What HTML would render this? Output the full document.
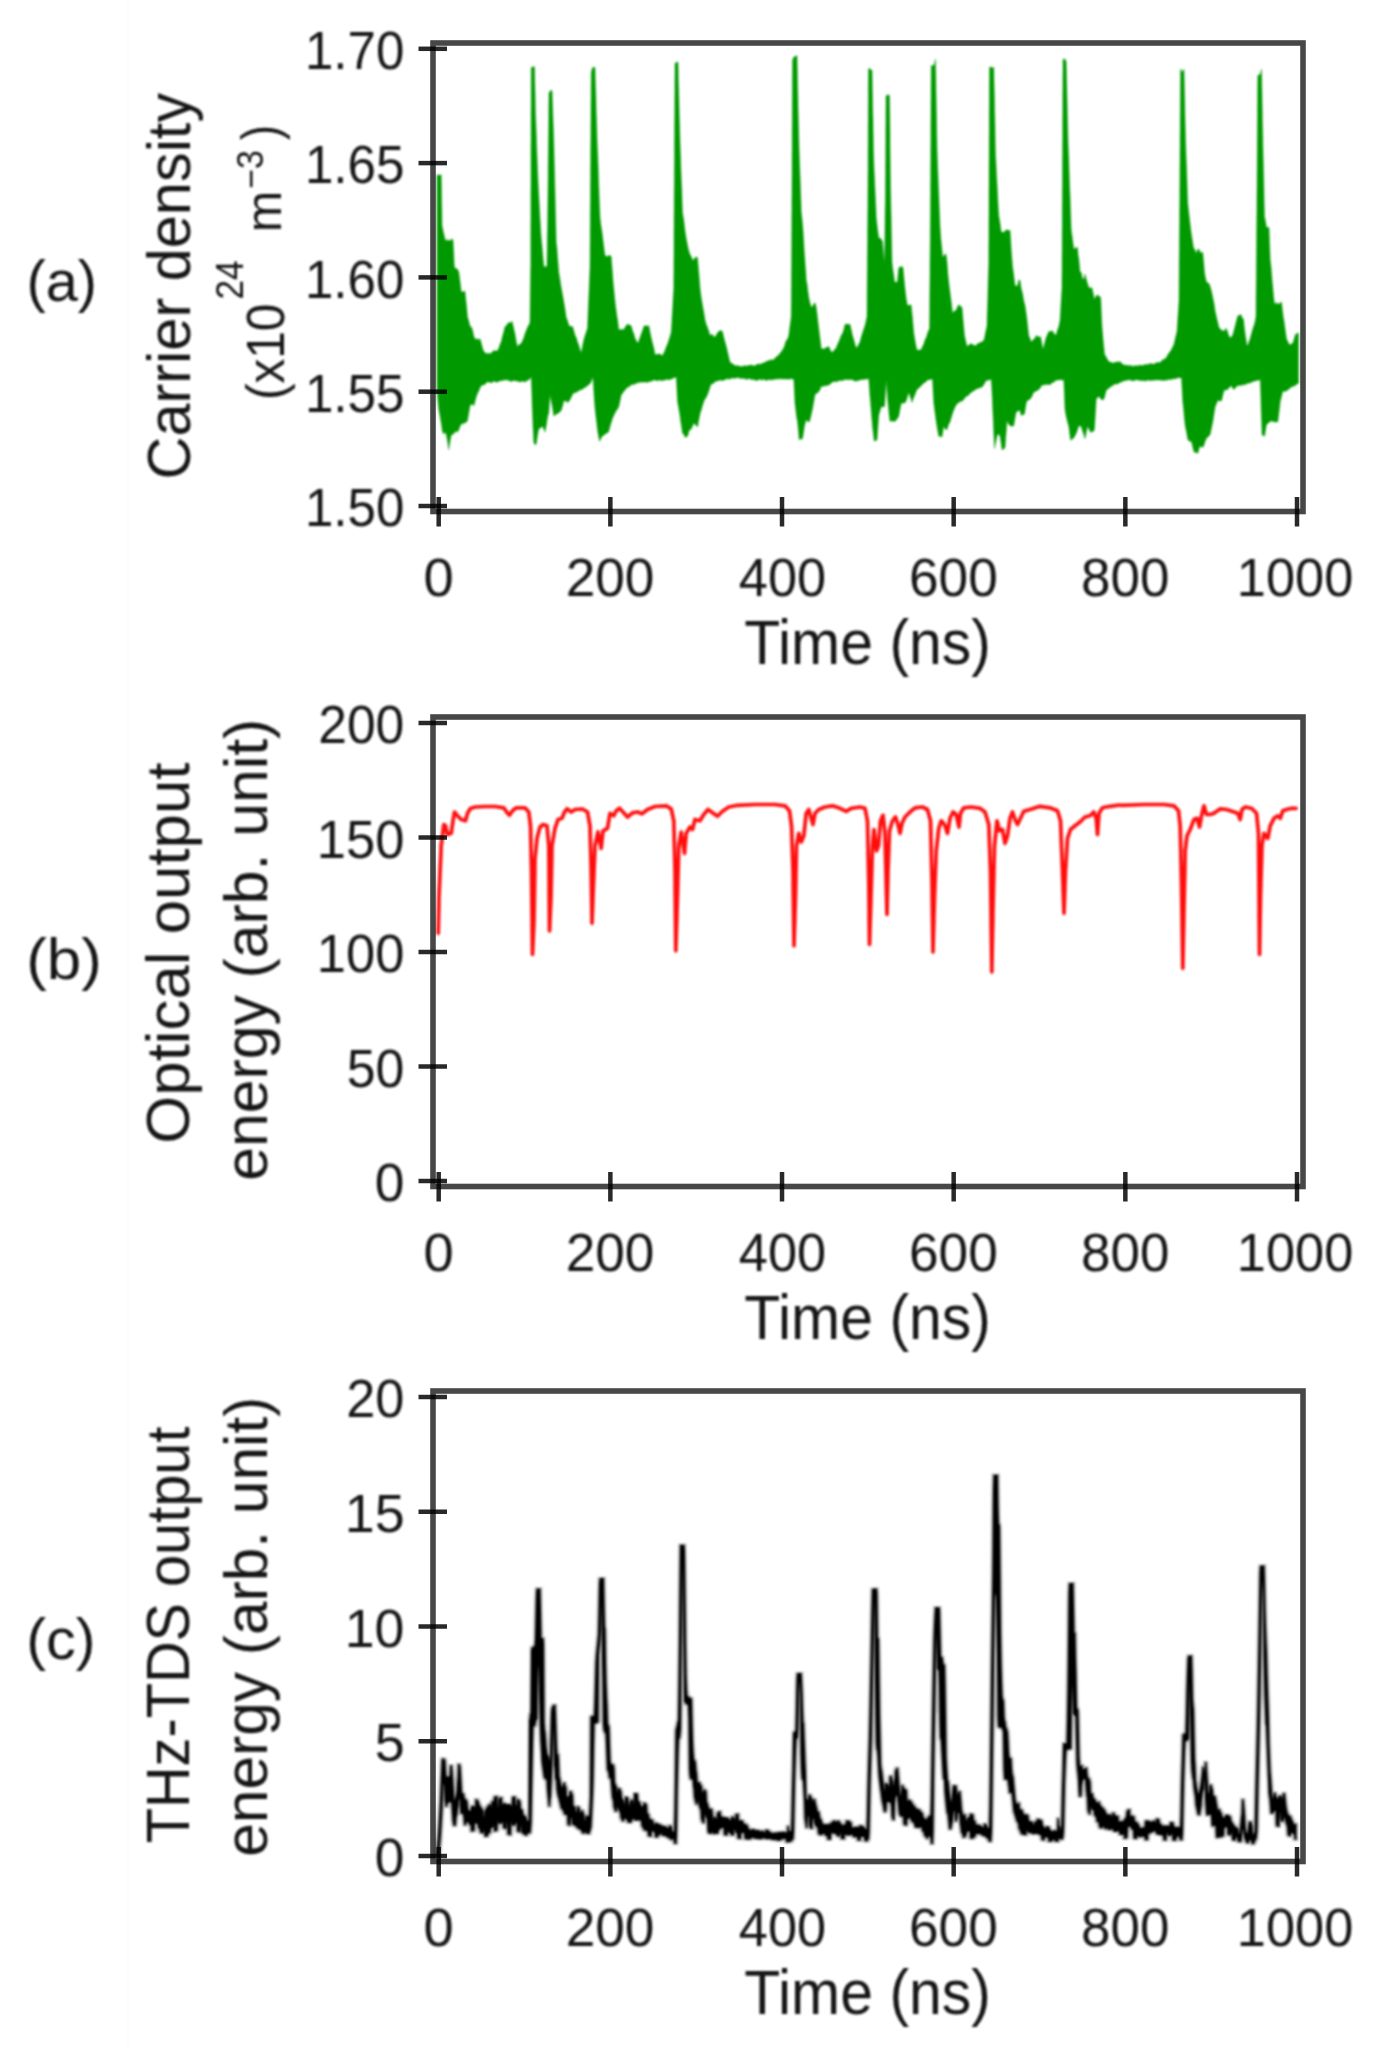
<!DOCTYPE html>
<html><head><meta charset="utf-8"><title>chart</title>
<style>html,body{margin:0;padding:0;background:#fff}body{width:1379px;height:2047px;overflow:hidden;font-family:"Liberation Sans",sans-serif}</style></head>
<body>
<svg width="1379" height="2047" viewBox="0 0 1379 2047" style="display:block;font-family:'Liberation Sans',sans-serif">
<defs><filter id="bl" x="-5%" y="-5%" width="110%" height="110%"><feGaussianBlur stdDeviation="0.8"/></filter></defs>
<rect width="1379" height="2047" fill="#fff"/>
<rect x="127" y="0" width="2" height="2047" fill="#fdfdfd"/>
<g filter="url(#bl)">
<path d="M437.0,389.4 L437.0,381.1 L437.0,371.7 L437.0,363.1 L437.0,353.9 L437.0,344.6 L437.0,336.1 L437.0,326.6 L437.0,318.0 L437.0,308.6 L437.0,299.6 L437.0,290.9 L437.0,282.3 L437.0,272.7 L437.0,263.9 L437.0,255.4 L437.0,246.8 L437.0,237.5 L437.0,228.5 L437.0,220.1 L437.0,210.3 L437.0,202.2 L437.0,192.7 L437.0,183.7 L437.0,174.7 L438.4,175.3 L439.8,174.7 L441.2,175.1 L441.4,183.3 L441.5,191.1 L441.6,200.5 L441.8,208.6 L441.9,216.9 L442.0,225.5 L443.5,232.7 L445.0,238.9 L446.2,241.3 L447.5,239.2 L448.8,240.8 L450.2,240.4 L451.6,239.3 L453.0,239.6 L453.4,247.3 L453.8,254.6 L454.1,263.1 L454.5,267.5 L455.9,268.6 L457.3,268.9 L458.8,272.0 L460.0,281.3 L461.2,291.6 L462.5,291.9 L463.8,291.4 L465.0,291.2 L465.8,299.4 L466.7,307.6 L467.5,316.9 L468.8,321.3 L470.0,326.4 L471.2,326.8 L472.5,330.0 L473.8,336.2 L475.0,338.7 L476.2,339.4 L477.5,338.7 L478.8,339.8 L480.0,338.7 L481.2,342.9 L482.5,347.9 L483.8,351.6 L485.0,352.4 L486.2,353.6 L487.5,353.7 L488.8,353.0 L490.0,353.9 L491.2,353.1 L492.5,351.8 L493.8,350.6 L495.0,350.8 L496.2,350.9 L497.5,350.6 L498.8,348.2 L500.0,344.4 L501.2,341.9 L502.5,336.3 L503.8,331.7 L505.0,326.6 L506.5,325.7 L508.0,322.9 L509.3,322.7 L510.7,322.7 L512.0,321.2 L513.5,327.5 L515.0,334.1 L516.2,341.3 L517.5,346.8 L518.8,345.1 L520.0,344.1 L521.2,343.6 L522.5,340.8 L523.8,337.8 L525.0,333.8 L526.2,330.8 L527.5,327.3 L528.8,324.9 L530.0,322.4 L530.1,313.8 L530.2,305.1 L530.3,296.9 L530.4,288.7 L530.5,280.4 L530.6,272.0 L530.8,264.5 L530.8,255.7 L530.8,246.3 L530.8,237.3 L530.8,228.0 L530.9,219.1 L530.9,210.4 L530.9,201.4 L530.9,193.1 L531.0,183.5 L531.0,174.4 L531.0,166.5 L531.0,157.1 L531.0,147.8 L531.1,139.3 L531.1,129.8 L531.1,121.4 L531.1,113.0 L531.2,103.9 L531.2,94.8 L531.2,84.9 L531.2,75.8 L531.2,67.5 L532.3,67.0 L533.4,67.0 L534.5,66.6 L534.7,75.1 L534.8,83.1 L535.0,90.8 L535.2,98.5 L535.3,106.4 L535.5,114.1 L535.8,121.5 L536.1,129.6 L536.4,137.3 L536.6,144.9 L536.9,152.7 L537.2,160.8 L537.5,168.7 L538.0,180.4 L538.4,188.7 L538.9,197.9 L539.4,206.7 L539.8,215.4 L540.3,223.6 L540.8,232.2 L541.2,237.9 L541.9,244.8 L542.5,252.1 L543.1,259.3 L543.8,266.1 L544.8,267.1 L545.9,266.8 L547.0,265.7 L547.1,257.8 L547.2,252.2 L547.3,243.7 L547.4,235.0 L547.6,226.2 L547.7,218.3 L547.8,209.4 L547.9,201.4 L548.0,193.1 L548.1,184.2 L548.2,175.9 L548.2,168.1 L548.3,159.5 L548.4,150.6 L548.5,142.2 L548.6,133.9 L548.7,126.4 L548.8,117.9 L548.8,108.9 L548.9,101.3 L549.0,93.1 L550.5,90.6 L552.0,90.6 L552.3,98.6 L552.6,106.9 L552.9,116.2 L553.2,124.3 L553.5,132.6 L553.8,142.7 L554.0,151.5 L554.2,159.8 L554.4,167.5 L554.6,175.9 L554.8,184.2 L555.0,192.5 L555.2,201.2 L555.4,209.2 L555.6,217.7 L555.8,225.7 L556.0,234.9 L556.2,242.6 L556.9,247.9 L557.5,256.4 L558.1,264.0 L558.8,272.6 L560.0,280.0 L561.2,287.5 L562.5,294.5 L563.8,301.9 L565.0,309.2 L566.2,317.6 L567.5,320.6 L568.8,325.3 L570.0,326.3 L571.2,326.5 L572.5,326.5 L573.8,330.8 L575.0,335.3 L576.2,337.5 L577.5,342.1 L578.8,345.3 L580.0,349.6 L581.2,353.0 L582.5,346.2 L583.8,339.9 L585.0,335.7 L586.2,332.2 L587.5,328.2 L587.9,319.3 L588.2,311.0 L588.6,301.9 L588.9,294.4 L589.3,285.0 L589.6,276.4 L590.0,267.9 L590.1,258.9 L590.1,249.3 L590.2,240.4 L590.2,231.9 L590.3,222.7 L590.3,214.0 L590.4,204.9 L590.5,196.7 L590.5,187.9 L590.6,179.2 L590.6,169.6 L590.7,161.3 L590.7,152.3 L590.8,143.0 L590.9,134.8 L590.9,126.1 L591.0,116.4 L591.0,108.3 L591.1,98.9 L591.1,90.1 L591.2,81.8 L591.2,72.7 L592.5,67.6 L593.8,67.5 L595.0,67.2 L595.2,76.2 L595.5,85.4 L595.8,93.5 L596.0,102.9 L596.2,111.6 L596.5,119.9 L596.8,129.1 L597.0,138.2 L597.3,146.4 L597.7,154.3 L598.0,163.5 L598.3,171.7 L598.7,184.3 L599.0,192.8 L599.3,200.9 L599.7,210.0 L600.0,217.8 L601.0,226.1 L602.0,231.9 L603.0,240.3 L604.0,248.3 L605.0,255.7 L606.2,256.0 L607.5,256.7 L608.8,255.3 L610.0,255.5 L611.2,256.6 L611.9,265.6 L612.5,273.4 L613.1,281.7 L613.8,289.1 L614.8,299.5 L615.8,308.1 L616.8,315.5 L617.8,321.4 L618.8,329.9 L620.0,329.6 L621.2,329.5 L622.5,329.5 L623.8,329.7 L625.0,327.6 L626.2,325.6 L627.5,324.1 L628.8,325.0 L630.0,325.0 L631.2,325.9 L632.5,330.7 L633.8,333.8 L635.0,338.2 L636.5,340.9 L638.0,343.6 L639.1,340.1 L640.2,337.1 L641.2,334.2 L642.5,330.8 L643.8,326.6 L645.0,325.8 L646.2,325.6 L647.5,326.5 L648.8,325.5 L650.0,332.1 L651.2,337.8 L652.5,343.2 L653.8,348.0 L655.0,354.4 L656.5,354.5 L658.0,354.0 L659.5,354.0 L661.0,354.8 L662.5,355.8 L663.8,353.0 L665.0,350.5 L666.2,347.0 L667.5,344.2 L668.8,340.2 L670.0,336.5 L671.2,332.2 L671.8,323.2 L672.2,314.9 L672.8,305.6 L673.2,297.0 L673.8,288.0 L673.8,279.2 L673.9,270.3 L673.9,261.4 L674.0,252.1 L674.0,243.4 L674.0,233.9 L674.1,225.1 L674.1,216.0 L674.2,207.3 L674.2,197.9 L674.3,188.9 L674.4,180.2 L674.4,171.1 L674.5,162.5 L674.5,153.4 L674.5,144.6 L674.6,135.5 L674.6,126.6 L674.7,117.7 L674.8,108.3 L674.8,99.2 L674.9,90.8 L674.9,81.0 L675.0,72.6 L675.0,63.5 L676.5,62.2 L678.0,62.0 L678.2,70.1 L678.4,83.1 L678.7,90.8 L678.9,99.6 L679.1,107.9 L679.3,116.7 L679.6,125.0 L679.8,133.4 L680.0,141.6 L680.3,150.2 L680.6,158.3 L680.8,166.7 L681.1,174.6 L681.4,182.7 L681.7,187.5 L681.9,195.6 L682.2,204.7 L682.5,212.7 L683.8,220.3 L685.0,231.0 L686.2,238.3 L687.5,245.3 L688.8,250.9 L690.0,254.4 L691.2,256.6 L692.5,259.8 L693.8,260.1 L695.0,257.4 L696.2,257.2 L697.5,257.4 L698.1,264.9 L698.8,273.0 L699.4,280.3 L700.0,288.2 L701.2,297.6 L702.5,305.2 L703.8,312.5 L705.0,320.1 L706.2,324.2 L707.5,327.5 L708.8,331.2 L710.0,335.6 L711.2,334.4 L712.5,334.6 L713.8,336.9 L715.0,336.9 L716.2,334.9 L717.5,332.9 L718.8,331.3 L720.0,330.8 L721.2,330.6 L722.5,331.8 L723.8,337.4 L725.0,341.9 L726.2,346.3 L727.5,351.7 L728.8,357.2 L730.0,362.6 L731.2,362.7 L732.5,363.9 L733.8,364.6 L735.0,365.8 L736.4,365.8 L737.9,365.5 L739.3,366.5 L740.7,366.1 L742.1,366.9 L743.6,365.7 L745.0,365.7 L746.4,366.0 L747.9,365.7 L749.3,365.2 L750.7,365.0 L752.1,365.2 L753.6,365.8 L755.0,365.7 L756.4,364.7 L757.9,364.1 L759.3,364.2 L760.7,363.9 L762.1,363.6 L763.6,362.8 L765.0,362.3 L766.4,361.6 L767.8,360.8 L769.2,360.7 L770.6,359.6 L772.0,360.2 L773.4,359.7 L774.8,358.5 L776.1,357.1 L777.4,356.1 L778.7,355.0 L780.0,353.3 L781.2,351.9 L782.5,349.7 L783.8,348.0 L785.0,344.2 L786.2,340.5 L787.5,339.2 L788.8,335.5 L789.6,328.7 L790.4,322.9 L791.2,316.8 L791.3,308.0 L791.4,299.2 L791.4,291.0 L791.5,282.5 L791.5,272.8 L791.6,264.3 L791.6,255.0 L791.7,246.4 L791.7,237.3 L791.8,228.1 L791.8,219.2 L791.9,210.3 L791.9,202.1 L792.0,192.7 L792.0,183.6 L792.1,175.5 L792.1,166.7 L792.1,157.3 L792.2,148.2 L792.2,139.4 L792.2,130.5 L792.3,121.9 L792.3,112.8 L792.3,104.1 L792.4,95.3 L792.4,86.8 L792.4,78.3 L792.5,69.3 L792.5,60.1 L794.0,56.8 L795.5,56.5 L797.0,55.5 L797.2,64.0 L797.4,73.0 L797.5,80.5 L797.7,89.2 L797.9,97.6 L798.0,106.1 L798.2,113.8 L798.4,122.1 L798.6,130.4 L798.8,138.9 L799.0,147.2 L799.3,156.1 L799.6,164.3 L799.9,172.7 L800.1,178.1 L800.4,187.1 L800.7,195.7 L801.0,203.6 L801.2,212.0 L802.1,219.8 L802.9,228.5 L803.8,243.1 L804.2,250.6 L804.8,258.2 L805.2,265.0 L805.8,272.3 L806.2,279.9 L807.1,284.5 L807.9,291.4 L808.8,297.8 L810.0,302.9 L811.2,306.9 L812.5,306.7 L813.8,303.7 L815.0,302.8 L816.2,307.2 L817.1,314.2 L817.9,321.3 L818.8,328.7 L819.6,335.2 L820.4,341.6 L821.2,348.6 L822.5,348.9 L823.8,348.7 L825.0,348.5 L826.2,347.6 L827.5,347.1 L828.8,346.4 L830.0,349.4 L831.2,351.7 L832.5,352.2 L833.8,350.5 L835.0,349.6 L836.2,347.7 L837.5,344.6 L838.8,341.8 L840.0,338.7 L841.2,335.4 L842.5,333.4 L843.8,329.7 L845.0,324.4 L846.2,324.2 L847.5,324.1 L848.8,324.5 L850.0,324.2 L851.2,329.7 L852.5,335.5 L853.8,339.8 L855.0,344.2 L856.2,347.9 L857.5,346.8 L858.8,344.1 L860.0,342.0 L861.2,337.2 L862.5,333.1 L863.8,329.1 L864.8,326.3 L865.9,321.7 L867.0,316.6 L867.1,308.7 L867.1,299.2 L867.2,285.1 L867.3,276.3 L867.4,267.9 L867.4,258.9 L867.5,249.9 L867.6,241.2 L867.6,232.2 L867.7,222.7 L867.8,213.6 L867.9,205.4 L867.9,196.3 L868.0,186.7 L868.0,178.8 L868.1,170.0 L868.1,161.6 L868.1,153.0 L868.2,144.4 L868.2,135.7 L868.2,127.5 L868.3,119.1 L868.3,111.2 L868.4,101.9 L868.4,94.3 L868.4,85.1 L868.5,76.7 L868.5,68.7 L869.7,68.5 L870.8,69.9 L872.0,70.0 L872.2,78.5 L872.3,87.7 L872.5,95.5 L872.6,104.3 L872.8,113.4 L873.0,121.1 L873.1,130.1 L873.3,139.1 L873.4,147.7 L873.6,155.5 L873.8,161.6 L874.1,170.3 L874.5,177.5 L874.8,185.8 L875.2,193.9 L875.5,201.1 L875.9,208.9 L876.2,217.5 L877.5,229.3 L878.8,238.5 L880.0,237.8 L881.2,239.2 L882.5,241.6 L883.5,254.0 L884.5,263.1 L884.6,253.4 L884.8,244.9 L884.9,236.4 L885.0,228.1 L885.1,219.4 L885.2,210.1 L885.4,201.2 L885.5,192.6 L885.5,183.9 L885.6,175.6 L885.6,166.1 L885.7,158.0 L885.7,149.2 L885.8,140.5 L885.8,131.7 L885.9,122.8 L885.9,113.7 L886.0,105.0 L886.0,96.3 L887.2,95.0 L888.3,94.9 L889.5,95.3 L889.6,103.6 L889.7,107.6 L889.8,116.9 L889.9,125.5 L890.0,134.9 L890.0,143.6 L890.1,152.5 L890.2,160.6 L890.3,169.2 L890.4,178.0 L890.5,187.2 L890.7,195.8 L890.8,203.8 L891.0,211.9 L891.2,220.5 L891.3,229.0 L891.5,237.4 L891.7,245.8 L891.8,254.2 L892.0,262.4 L892.8,269.2 L893.7,274.9 L894.5,281.5 L896.0,282.6 L897.5,281.4 L898.1,274.6 L898.8,267.7 L900.2,266.9 L901.6,266.6 L903.0,267.5 L903.7,275.2 L904.3,281.8 L905.0,288.7 L906.2,298.7 L907.5,305.8 L908.8,305.3 L910.0,304.8 L911.2,305.2 L911.9,312.8 L912.5,318.0 L913.1,325.5 L913.8,333.3 L914.8,339.3 L915.9,345.6 L917.0,350.0 L918.4,350.3 L919.8,349.7 L921.2,349.8 L922.5,346.4 L923.8,344.1 L925.0,340.0 L926.5,336.9 L928.0,331.9 L929.5,328.6 L929.6,319.9 L929.7,310.9 L929.7,301.4 L929.8,292.1 L929.9,283.4 L930.0,274.8 L930.0,265.5 L930.1,256.7 L930.2,247.8 L930.3,239.5 L930.3,230.4 L930.4,221.1 L930.5,212.3 L930.5,203.6 L930.6,194.8 L930.6,185.9 L930.7,176.4 L930.7,167.5 L930.8,159.1 L930.8,149.8 L930.9,140.7 L930.9,131.8 L930.9,123.5 L931.0,113.8 L931.0,105.1 L931.1,95.9 L931.1,87.0 L931.2,78.5 L931.2,74.5 L931.2,65.4 L932.7,65.7 L934.1,65.0 L935.5,59.2 L935.6,67.0 L935.8,75.6 L935.9,83.4 L936.0,92.1 L936.2,99.9 L936.3,107.9 L936.5,115.9 L936.6,124.7 L936.7,133.0 L936.9,141.5 L937.0,148.9 L937.3,157.8 L937.7,168.3 L938.0,176.3 L938.3,184.8 L938.7,193.4 L939.0,202.1 L939.3,209.6 L939.7,218.3 L940.0,227.0 L940.8,238.5 L941.7,246.8 L942.5,255.9 L943.8,256.8 L945.0,253.6 L946.2,255.3 L947.1,263.1 L947.9,274.4 L948.8,282.9 L949.7,289.9 L950.6,296.9 L951.6,304.8 L952.5,312.9 L953.8,311.6 L955.0,310.8 L956.2,310.2 L957.5,306.8 L958.8,304.7 L959.8,305.3 L960.9,307.3 L962.0,306.9 L962.6,314.5 L963.2,321.2 L963.9,329.0 L964.5,335.4 L965.8,341.4 L967.0,346.5 L968.4,345.3 L969.8,344.5 L971.2,343.5 L972.5,344.6 L973.8,345.2 L975.0,345.7 L976.2,345.3 L977.5,343.8 L978.8,343.1 L980.0,342.8 L981.2,342.3 L982.5,341.1 L983.8,340.8 L984.8,336.5 L985.9,330.7 L987.0,326.1 L987.2,316.5 L987.5,307.9 L987.8,298.2 L988.0,289.7 L988.2,280.6 L988.5,271.3 L988.8,261.9 L988.8,253.4 L988.8,246.8 L988.9,237.0 L988.9,228.8 L988.9,219.9 L989.0,210.7 L989.0,201.9 L989.0,192.3 L989.1,184.1 L989.1,174.7 L989.1,166.2 L989.2,157.2 L989.2,147.5 L989.2,139.1 L989.3,130.3 L989.3,120.5 L989.3,111.8 L989.4,103.3 L989.4,93.7 L989.4,85.5 L989.5,75.9 L989.5,67.5 L990.9,66.7 L992.3,68.1 L993.8,67.2 L993.9,75.8 L994.1,84.5 L994.3,92.8 L994.5,101.1 L994.6,109.7 L994.8,118.2 L995.0,127.5 L995.1,135.7 L995.3,146.2 L995.5,155.3 L996.0,163.6 L996.4,172.9 L996.9,182.0 L997.4,190.6 L997.8,200.0 L998.3,208.7 L998.8,215.9 L1000.0,223.2 L1001.2,232.3 L1002.7,232.0 L1004.2,232.4 L1005.6,230.2 L1007.1,229.8 L1008.5,230.6 L1010.0,230.3 L1010.6,238.5 L1011.2,249.2 L1011.9,258.4 L1012.5,266.3 L1013.8,275.4 L1015.0,285.6 L1016.2,286.0 L1017.5,286.0 L1018.8,279.9 L1020.0,280.3 L1021.2,288.7 L1022.5,293.2 L1023.8,301.0 L1025.0,305.5 L1026.2,313.6 L1027.1,320.6 L1027.9,328.2 L1028.8,335.7 L1030.0,338.5 L1031.2,341.9 L1032.5,340.6 L1033.8,339.3 L1035.0,337.9 L1036.2,335.7 L1037.5,336.0 L1039.0,337.2 L1040.5,336.5 L1041.8,343.2 L1043.0,349.5 L1044.1,345.4 L1045.2,340.9 L1046.2,337.4 L1047.5,334.4 L1048.8,331.6 L1050.0,331.5 L1051.2,331.3 L1052.5,330.8 L1053.8,333.3 L1055.0,335.0 L1056.2,334.5 L1057.5,330.1 L1058.8,326.6 L1060.0,320.7 L1060.5,312.7 L1061.0,303.6 L1061.5,295.2 L1062.0,287.3 L1062.0,278.1 L1062.1,269.5 L1062.1,260.9 L1062.2,251.6 L1062.2,242.9 L1062.2,234.2 L1062.3,225.2 L1062.3,217.3 L1062.3,208.4 L1062.4,199.6 L1062.4,190.9 L1062.5,182.1 L1062.5,173.1 L1062.5,164.6 L1062.6,155.5 L1062.6,146.6 L1062.7,137.7 L1062.7,129.1 L1062.7,120.1 L1062.8,111.7 L1062.8,103.3 L1062.8,94.5 L1062.9,85.9 L1062.9,77.1 L1063.0,67.9 L1063.0,59.4 L1064.1,59.1 L1065.2,59.3 L1066.2,61.9 L1066.4,71.0 L1066.6,79.9 L1066.8,87.9 L1067.0,97.2 L1067.2,105.0 L1067.4,113.9 L1067.6,122.6 L1067.8,131.7 L1068.0,140.6 L1068.3,149.1 L1068.7,157.5 L1069.0,168.5 L1069.3,177.2 L1069.6,186.6 L1070.0,195.1 L1070.3,203.9 L1070.6,212.6 L1070.9,221.7 L1071.2,229.9 L1072.1,236.1 L1072.9,242.5 L1073.8,248.4 L1075.0,249.1 L1076.2,247.3 L1077.5,247.7 L1078.1,254.9 L1078.8,259.0 L1079.4,265.1 L1080.0,271.8 L1081.2,272.5 L1082.5,278.8 L1083.8,279.3 L1085.0,274.0 L1086.2,279.1 L1087.5,283.5 L1089.0,288.1 L1090.5,287.8 L1092.0,287.9 L1093.2,293.3 L1094.5,299.6 L1096.0,296.3 L1097.5,294.7 L1099.0,296.5 L1100.5,296.9 L1100.9,301.3 L1101.2,309.5 L1101.6,318.6 L1102.0,326.8 L1102.6,333.6 L1103.2,340.8 L1103.9,347.6 L1104.5,354.2 L1105.9,356.4 L1107.3,359.2 L1108.8,361.4 L1110.0,362.3 L1111.2,362.1 L1112.5,363.0 L1113.8,363.0 L1115.0,362.2 L1116.2,362.0 L1117.4,361.9 L1118.6,361.9 L1119.8,361.5 L1121.2,362.8 L1122.6,364.2 L1124.0,365.0 L1125.2,365.1 L1126.5,365.6 L1127.8,365.1 L1129.0,366.0 L1130.2,365.4 L1131.7,365.5 L1133.2,366.7 L1134.6,365.6 L1136.1,365.7 L1137.5,365.9 L1139.0,365.2 L1140.4,365.2 L1141.9,365.5 L1143.3,365.3 L1144.7,364.5 L1146.1,364.7 L1147.6,364.3 L1149.0,364.2 L1150.4,363.4 L1151.9,363.8 L1153.3,364.2 L1154.7,363.7 L1156.1,362.8 L1157.6,362.5 L1159.0,362.6 L1160.2,362.6 L1161.5,361.0 L1162.8,359.6 L1164.0,359.5 L1165.2,358.6 L1166.5,357.3 L1167.8,354.7 L1169.0,353.1 L1170.2,351.4 L1171.5,349.4 L1172.8,346.7 L1174.0,344.2 L1175.5,337.5 L1177.0,331.6 L1177.5,324.0 L1178.0,316.1 L1178.5,308.8 L1179.0,300.9 L1179.1,291.7 L1179.1,283.2 L1179.2,275.0 L1179.2,265.7 L1179.3,257.1 L1179.4,248.6 L1179.4,240.4 L1179.5,232.0 L1179.6,222.7 L1179.6,214.1 L1179.7,205.6 L1179.8,197.1 L1179.8,188.7 L1179.9,179.7 L1179.9,171.3 L1180.0,162.6 L1180.0,154.8 L1180.1,146.1 L1180.1,136.9 L1180.2,129.3 L1180.2,119.9 L1180.3,111.6 L1180.3,103.7 L1180.4,95.0 L1180.4,86.4 L1180.5,77.6 L1180.5,68.8 L1181.7,71.5 L1182.8,71.3 L1184.0,69.3 L1184.2,78.4 L1184.4,87.5 L1184.6,96.0 L1184.8,104.5 L1184.9,113.4 L1185.1,121.9 L1185.3,130.2 L1185.5,139.4 L1185.8,148.1 L1186.1,157.4 L1186.5,166.5 L1186.8,174.9 L1187.1,184.0 L1187.4,195.1 L1187.8,203.8 L1188.6,211.2 L1189.4,218.2 L1190.2,225.0 L1191.0,231.6 L1192.2,239.6 L1193.5,247.7 L1194.8,249.5 L1196.0,253.6 L1197.5,249.8 L1199.0,249.0 L1200.2,252.7 L1201.5,252.4 L1202.8,252.5 L1203.3,258.2 L1203.9,265.0 L1204.5,272.4 L1205.5,278.3 L1206.5,281.9 L1207.8,282.9 L1209.0,283.4 L1210.2,286.7 L1211.5,291.4 L1212.8,297.5 L1214.0,303.6 L1215.2,311.4 L1216.5,317.2 L1217.8,322.6 L1219.0,327.6 L1220.2,329.1 L1221.5,330.0 L1222.8,331.1 L1223.8,330.6 L1224.9,330.7 L1226.0,328.0 L1227.5,331.5 L1229.0,336.6 L1230.2,337.5 L1231.5,336.9 L1232.8,334.7 L1234.0,330.4 L1235.2,325.7 L1236.5,320.6 L1237.8,315.7 L1238.8,315.8 L1239.9,314.9 L1241.0,314.6 L1242.2,318.1 L1243.5,319.0 L1244.4,328.1 L1245.2,334.4 L1246.1,340.0 L1247.0,346.3 L1248.1,344.2 L1249.2,341.2 L1250.2,338.4 L1251.5,333.4 L1252.8,329.0 L1254.0,325.4 L1255.0,322.2 L1256.0,316.3 L1256.1,307.4 L1256.1,298.9 L1256.2,289.7 L1256.3,281.7 L1256.4,272.3 L1256.4,263.8 L1256.5,254.3 L1256.6,245.5 L1256.6,236.4 L1256.7,227.7 L1256.8,218.5 L1256.9,209.4 L1256.9,201.2 L1257.0,191.8 L1257.1,183.4 L1257.1,175.1 L1257.2,166.8 L1257.2,158.4 L1257.3,150.2 L1257.3,141.8 L1257.4,133.2 L1257.4,125.3 L1257.5,116.9 L1257.5,107.7 L1257.6,100.0 L1257.6,92.2 L1257.7,83.1 L1257.8,75.4 L1259.0,75.1 L1260.2,74.3 L1261.5,69.3 L1261.7,77.5 L1261.8,85.6 L1262.0,94.0 L1262.1,102.5 L1262.3,111.1 L1262.4,120.1 L1262.6,128.2 L1262.8,136.5 L1262.9,145.6 L1263.1,153.8 L1263.3,161.5 L1263.5,170.6 L1263.7,178.6 L1263.9,187.2 L1264.1,199.8 L1264.3,208.0 L1264.5,216.4 L1265.5,221.4 L1266.5,227.5 L1267.8,227.3 L1269.0,227.6 L1269.3,236.2 L1269.6,244.0 L1269.9,251.8 L1270.2,259.9 L1270.9,265.2 L1271.5,272.3 L1272.1,280.2 L1272.8,287.5 L1273.6,296.8 L1274.5,303.7 L1275.6,303.7 L1276.7,302.4 L1277.8,304.2 L1279.0,303.9 L1280.2,302.8 L1281.5,302.0 L1282.3,309.0 L1283.2,316.6 L1284.0,321.0 L1285.2,330.0 L1286.5,338.9 L1287.8,341.5 L1289.0,344.3 L1290.2,344.7 L1291.5,343.8 L1292.8,343.3 L1294.0,339.4 L1295.2,335.2 L1296.3,333.6 L1297.4,333.7 L1298.5,332.8 L1298.5,341.3 L1298.5,349.9 L1298.5,358.6 L1298.5,366.5 L1298.5,375.2 L1298.5,383.8 L1298.5,383.0 L1297.5,383.8 L1296.5,384.0 L1295.2,385.7 L1294.0,385.8 L1292.8,386.8 L1291.5,386.8 L1290.2,387.9 L1289.0,389.0 L1287.8,390.0 L1286.5,390.7 L1285.2,391.3 L1284.0,391.5 L1282.8,391.0 L1281.5,396.4 L1280.2,401.4 L1279.4,409.1 L1278.6,415.3 L1277.8,422.1 L1276.5,421.7 L1275.2,422.2 L1274.0,421.6 L1272.8,421.5 L1271.7,421.2 L1270.6,420.8 L1269.5,422.2 L1268.0,423.3 L1266.5,424.4 L1265.5,430.3 L1264.5,436.5 L1263.2,435.1 L1262.0,435.2 L1261.8,427.1 L1261.5,418.9 L1261.2,411.1 L1261.0,403.2 L1260.8,395.0 L1260.5,387.8 L1260.2,379.5 L1259.0,380.2 L1257.8,380.1 L1256.5,380.8 L1255.2,380.7 L1254.0,381.3 L1252.5,381.7 L1251.0,382.4 L1249.5,383.2 L1248.0,382.9 L1246.5,384.1 L1245.0,384.6 L1243.6,384.8 L1242.1,384.9 L1240.7,385.6 L1239.2,385.4 L1237.8,385.5 L1236.5,386.8 L1235.2,388.0 L1234.0,389.5 L1232.8,388.6 L1231.5,385.8 L1230.2,386.7 L1229.0,387.6 L1227.8,389.5 L1226.5,389.7 L1225.2,390.0 L1224.0,390.6 L1222.8,395.3 L1221.5,400.7 L1220.2,401.2 L1219.0,400.2 L1217.8,400.7 L1216.5,403.5 L1215.2,406.7 L1214.0,414.1 L1212.8,421.8 L1211.5,427.9 L1210.2,434.3 L1209.0,436.0 L1207.8,437.0 L1206.5,438.2 L1205.2,441.2 L1204.0,445.1 L1202.8,447.5 L1201.5,446.9 L1200.2,445.9 L1199.0,448.7 L1197.8,453.5 L1196.5,452.5 L1195.2,452.6 L1194.0,451.8 L1192.8,447.6 L1191.5,441.5 L1190.2,441.4 L1189.0,440.8 L1187.8,439.5 L1186.5,431.9 L1185.2,425.7 L1184.4,418.6 L1183.6,409.1 L1182.8,402.0 L1182.3,393.2 L1181.9,385.7 L1181.5,377.7 L1180.0,377.9 L1178.5,377.4 L1177.0,378.1 L1175.5,378.9 L1174.0,378.5 L1172.6,379.0 L1171.1,379.7 L1169.7,379.2 L1168.3,379.8 L1166.9,380.1 L1165.4,380.2 L1164.0,380.3 L1162.6,380.5 L1161.1,380.2 L1159.7,379.9 L1158.3,380.1 L1156.9,380.0 L1155.4,379.9 L1154.0,380.2 L1152.6,380.2 L1151.1,380.4 L1149.7,380.6 L1148.3,380.0 L1146.9,380.5 L1145.4,381.0 L1144.0,380.4 L1142.5,380.8 L1141.0,380.5 L1139.5,380.3 L1138.0,380.3 L1136.5,379.6 L1135.0,380.2 L1133.5,380.9 L1132.0,380.3 L1130.5,380.4 L1129.0,379.5 L1127.7,380.2 L1126.4,380.3 L1125.0,380.7 L1123.7,380.8 L1122.4,381.8 L1121.1,382.1 L1119.8,382.5 L1118.3,383.7 L1116.9,384.0 L1115.5,383.9 L1114.1,384.5 L1112.7,385.6 L1111.2,386.5 L1110.0,387.1 L1108.8,388.5 L1107.5,388.9 L1106.2,390.6 L1105.0,395.3 L1103.8,399.4 L1102.5,399.8 L1101.2,399.5 L1100.0,397.7 L1098.8,396.2 L1097.5,397.7 L1096.2,399.0 L1095.8,406.7 L1095.4,413.8 L1094.9,421.5 L1094.5,429.3 L1093.2,431.8 L1091.8,431.6 L1090.5,432.4 L1089.0,429.0 L1087.5,426.6 L1086.2,432.6 L1085.0,438.7 L1083.5,433.8 L1082.0,429.2 L1080.9,426.1 L1079.8,425.9 L1078.8,425.8 L1077.5,429.7 L1076.2,433.4 L1075.0,435.5 L1073.8,438.1 L1072.7,438.5 L1071.6,439.7 L1070.5,440.1 L1069.6,432.5 L1068.8,426.4 L1067.5,421.7 L1066.2,416.3 L1065.0,409.6 L1064.7,402.2 L1064.4,394.4 L1064.1,386.8 L1063.8,379.8 L1062.2,380.2 L1060.8,379.7 L1059.2,379.7 L1057.8,380.2 L1056.2,380.1 L1055.0,381.0 L1053.8,382.4 L1052.5,382.3 L1051.2,383.7 L1050.0,384.7 L1048.5,384.4 L1047.0,384.6 L1045.5,384.5 L1044.0,384.9 L1042.5,384.9 L1041.2,386.2 L1040.0,388.1 L1038.8,389.7 L1037.5,390.3 L1036.2,391.0 L1035.0,391.9 L1033.8,391.7 L1032.5,395.1 L1031.2,397.8 L1030.0,398.9 L1028.8,400.1 L1027.5,400.2 L1026.2,402.9 L1025.4,408.3 L1024.5,414.1 L1023.4,414.6 L1022.3,415.0 L1021.2,415.4 L1020.4,412.4 L1019.5,409.8 L1018.4,411.0 L1017.3,411.5 L1016.2,411.8 L1015.0,418.1 L1013.8,425.7 L1012.5,426.1 L1011.2,426.2 L1010.0,425.6 L1008.5,424.0 L1007.0,420.4 L1006.5,427.7 L1006.0,434.0 L1005.5,441.2 L1005.0,447.5 L1003.5,449.3 L1002.0,449.7 L1001.0,442.3 L1000.0,436.2 L998.8,434.5 L997.5,434.1 L996.0,440.9 L994.5,448.5 L994.2,441.0 L993.8,433.8 L993.5,426.2 L993.2,418.3 L992.8,410.4 L992.5,402.9 L992.1,394.5 L991.7,387.1 L991.2,379.7 L990.0,379.2 L988.8,380.5 L987.5,380.3 L986.2,380.3 L985.0,382.7 L983.8,384.6 L982.5,386.8 L981.2,387.3 L980.0,387.7 L978.8,388.1 L977.5,388.7 L976.2,389.0 L975.0,390.0 L973.8,390.8 L972.5,391.6 L971.2,392.4 L970.0,393.3 L968.8,395.0 L967.5,395.9 L966.2,396.3 L965.0,397.8 L963.8,399.2 L962.5,401.0 L961.2,401.1 L960.0,401.7 L958.8,402.8 L957.5,403.3 L956.0,405.3 L954.5,408.2 L953.0,411.9 L951.5,416.7 L950.0,421.9 L948.5,424.5 L947.0,429.8 L945.9,429.2 L944.8,428.4 L943.8,426.1 L942.9,431.2 L942.0,436.9 L940.9,436.6 L939.8,436.3 L938.8,436.3 L937.5,429.6 L936.2,421.2 L935.0,412.4 L933.8,403.0 L933.3,394.7 L932.9,386.9 L932.5,379.3 L931.2,379.1 L930.0,380.0 L928.8,379.5 L927.5,379.9 L926.2,381.6 L925.0,382.4 L923.8,383.0 L922.5,384.3 L921.2,385.7 L920.0,386.7 L918.8,388.3 L917.5,388.7 L916.0,391.8 L914.5,395.7 L913.2,398.7 L912.0,402.5 L910.9,398.5 L909.8,395.5 L908.8,392.3 L907.5,396.6 L906.2,400.7 L905.0,402.9 L903.8,402.7 L902.5,403.4 L901.2,403.0 L900.0,409.3 L898.8,416.1 L897.5,418.3 L896.2,420.1 L895.0,421.4 L893.8,421.4 L892.5,420.8 L891.2,421.3 L890.0,421.3 L889.3,416.3 L888.7,409.7 L888.0,403.1 L887.4,395.4 L886.8,387.7 L886.2,379.7 L885.7,389.0 L885.1,397.7 L884.5,406.5 L883.4,407.1 L882.3,406.4 L881.2,407.0 L880.0,410.8 L878.8,414.9 L878.2,423.1 L877.6,431.4 L877.0,439.8 L875.6,440.7 L874.2,441.1 L873.4,433.9 L872.5,426.8 L871.8,418.1 L871.2,410.4 L870.5,401.8 L869.9,395.3 L869.3,386.8 L868.8,378.9 L867.4,378.8 L866.0,379.3 L864.6,379.1 L863.2,379.7 L861.9,379.5 L860.5,379.6 L859.1,380.6 L857.8,380.8 L856.4,380.7 L855.0,381.2 L853.6,380.4 L852.1,379.4 L850.7,379.7 L849.3,379.5 L847.9,379.7 L846.4,379.4 L845.0,379.6 L843.6,379.9 L842.1,380.8 L840.7,380.6 L839.3,380.4 L837.9,381.3 L836.4,381.7 L835.0,381.5 L833.5,381.7 L832.0,382.3 L830.5,383.8 L829.0,385.0 L827.5,385.3 L826.2,385.7 L825.0,385.8 L823.8,386.0 L822.5,386.8 L821.2,386.0 L820.0,389.7 L818.8,391.5 L817.5,393.1 L816.2,393.6 L815.0,394.5 L813.8,401.6 L812.5,408.9 L811.0,415.6 L809.5,421.8 L808.4,421.7 L807.3,421.0 L806.2,419.8 L805.4,422.6 L804.5,425.7 L803.5,432.4 L802.5,438.7 L801.4,439.2 L800.3,438.6 L799.2,440.2 L798.7,433.5 L798.1,427.2 L797.5,421.2 L796.7,417.7 L795.8,409.9 L795.0,403.6 L794.6,395.4 L794.2,387.3 L793.8,379.1 L792.5,379.3 L791.2,378.5 L790.0,378.9 L788.6,379.3 L787.2,379.0 L785.8,379.0 L784.5,378.9 L783.1,379.1 L781.7,379.1 L780.3,378.6 L778.9,379.3 L777.5,378.8 L776.1,379.0 L774.8,379.6 L773.3,379.3 L771.9,379.9 L770.5,380.0 L769.1,379.2 L767.7,380.3 L766.3,380.3 L764.9,379.9 L763.5,379.3 L762.1,380.0 L760.6,379.8 L759.2,379.2 L757.8,380.2 L756.4,380.5 L755.0,380.1 L753.5,379.5 L752.1,379.4 L750.6,379.3 L749.2,378.6 L747.7,379.1 L746.2,379.4 L744.8,378.6 L743.3,378.4 L741.9,378.2 L740.4,378.7 L739.0,377.5 L737.5,377.7 L736.1,378.1 L734.6,378.1 L733.2,378.4 L731.8,377.8 L730.4,378.9 L728.9,379.2 L727.5,378.6 L726.1,379.3 L724.6,379.5 L723.2,380.7 L721.8,380.4 L720.4,380.1 L718.9,380.6 L717.5,381.0 L716.2,381.0 L715.0,382.0 L713.8,382.7 L712.5,384.2 L711.2,383.8 L710.0,387.1 L708.8,391.0 L707.5,394.4 L706.2,397.2 L705.0,399.0 L703.8,401.6 L702.5,405.5 L701.2,410.2 L700.0,413.7 L698.8,419.9 L697.5,427.1 L696.2,425.4 L695.0,424.2 L693.8,423.3 L692.5,426.0 L691.2,429.2 L690.0,429.5 L688.8,431.6 L687.5,436.6 L686.2,436.4 L685.0,437.4 L683.8,433.9 L682.5,433.4 L681.7,427.4 L680.8,422.2 L680.0,415.8 L678.8,408.7 L677.5,401.3 L677.1,393.1 L676.7,384.7 L676.2,376.7 L675.0,377.4 L673.8,378.0 L672.5,378.3 L671.2,379.2 L670.0,379.4 L668.5,379.7 L667.0,379.6 L665.5,379.5 L664.0,380.6 L662.5,380.3 L661.0,380.7 L659.5,380.0 L658.0,380.6 L656.5,380.7 L655.0,380.0 L653.6,380.0 L652.1,381.1 L650.7,381.3 L649.3,381.7 L647.9,381.9 L646.4,382.4 L645.0,381.9 L643.5,381.9 L642.0,382.6 L640.5,381.8 L639.0,382.9 L637.5,382.5 L636.2,383.6 L635.0,383.8 L633.8,384.8 L632.5,384.2 L631.2,384.7 L630.0,386.3 L628.8,386.6 L627.5,387.4 L626.2,388.4 L625.0,390.3 L623.8,391.3 L622.5,393.5 L621.2,394.9 L620.0,401.0 L618.8,406.6 L617.5,409.1 L616.2,410.7 L615.0,412.9 L613.8,415.5 L612.5,418.4 L611.2,422.4 L610.0,426.5 L608.8,431.3 L607.5,432.9 L606.2,433.3 L605.0,434.0 L603.8,435.6 L602.5,435.7 L601.0,438.2 L599.5,441.4 L598.5,435.7 L597.5,430.3 L596.8,423.4 L596.0,416.9 L595.2,410.0 L594.5,402.1 L594.0,394.4 L593.5,386.1 L593.0,377.1 L591.5,380.7 L590.0,383.7 L588.5,384.7 L587.0,385.9 L585.5,387.2 L584.0,387.8 L582.5,389.5 L581.2,389.2 L580.0,390.4 L578.8,390.5 L577.5,391.4 L576.2,392.6 L575.0,392.4 L573.8,393.1 L572.5,394.4 L571.2,397.3 L570.0,399.8 L568.8,401.5 L567.5,402.7 L566.2,400.8 L565.0,401.0 L563.8,401.1 L562.5,406.3 L561.2,410.6 L560.0,411.5 L558.8,413.0 L557.5,413.5 L556.2,414.3 L555.0,415.0 L553.8,416.1 L552.5,407.5 L551.2,401.0 L550.0,394.9 L549.4,403.5 L548.8,412.4 L547.5,417.2 L546.2,425.9 L545.0,432.1 L543.8,428.9 L542.5,426.6 L541.2,427.1 L540.0,428.4 L538.8,428.5 L537.5,435.6 L536.2,444.3 L535.0,444.7 L533.8,442.4 L533.4,434.8 L533.1,428.0 L532.8,421.1 L532.5,413.2 L532.2,406.4 L532.0,398.8 L531.8,391.3 L531.5,384.7 L531.2,377.3 L530.0,378.3 L528.8,380.0 L527.5,380.0 L526.2,381.6 L524.8,381.7 L523.3,381.6 L521.9,381.1 L520.4,381.9 L519.0,381.7 L517.5,381.0 L516.1,381.1 L514.7,380.4 L513.3,380.8 L511.9,381.0 L510.6,381.6 L509.2,380.8 L507.8,379.8 L506.4,380.3 L505.0,379.8 L503.5,380.1 L502.1,380.9 L500.6,380.5 L499.2,381.2 L497.7,381.9 L496.2,382.0 L494.8,381.5 L493.3,381.3 L491.9,382.7 L490.4,382.6 L489.0,382.0 L487.5,382.1 L486.2,382.7 L485.0,384.4 L483.8,384.8 L482.5,385.0 L481.2,385.9 L480.0,387.8 L478.8,391.0 L477.5,393.3 L476.2,397.1 L475.0,401.6 L473.8,406.1 L472.5,404.0 L471.2,404.5 L470.0,405.8 L468.8,412.8 L467.5,420.4 L466.2,422.4 L465.0,422.5 L463.8,423.6 L462.5,423.8 L461.2,424.1 L460.0,426.5 L458.8,429.8 L457.5,432.1 L456.2,431.6 L455.0,431.7 L453.8,433.8 L452.5,434.5 L451.2,435.1 L450.0,441.4 L448.8,449.7 L447.5,441.1 L446.2,434.1 L445.0,432.4 L443.8,433.9 L442.5,432.1 L441.2,423.0 L440.0,416.1 L438.8,409.7 L438.2,403.8 L437.6,396.6 L437.0,390.4Z" fill="#049a04" stroke="#049a04" stroke-width="0.4" stroke-linejoin="round"/>
<path d="M438.2,933.3 L439.0,895.8 L441.2,845.8 L443.8,824.5 L445.5,825.8 L447.5,834.5 L451.2,833.3 L453.0,820.8 L454.5,812.0 L457.5,815.8 L461.2,819.5 L465.5,820.8 L467.5,813.3 L470.0,808.8 L475.0,807.0 L485.0,806.5 L495.0,806.5 L503.8,807.8 L507.5,813.3 L509.5,815.3 L512.5,810.8 L516.2,807.8 L525.0,807.8 L528.8,812.0 L530.5,825.8 L531.5,870.8 L532.5,954.5 L534.0,920.8 L535.0,858.3 L537.0,838.3 L540.0,827.0 L543.0,824.5 L547.0,825.8 L548.8,845.8 L549.5,930.8 L551.0,895.8 L552.0,845.8 L555.0,828.3 L558.0,819.5 L562.0,818.3 L564.5,812.0 L567.0,808.8 L571.2,812.0 L575.0,809.5 L582.5,809.0 L587.5,812.0 L590.0,825.8 L591.2,870.8 L592.0,923.3 L593.5,883.3 L595.0,845.8 L598.0,832.0 L601.2,848.3 L603.0,830.8 L607.5,828.3 L610.0,813.3 L613.8,815.8 L616.2,810.8 L619.5,808.3 L623.0,812.0 L627.5,817.0 L632.5,812.8 L637.5,812.0 L642.0,813.8 L647.5,809.5 L655.0,806.5 L666.2,805.8 L671.2,808.8 L673.8,820.8 L675.0,870.8 L675.8,950.8 L677.5,895.8 L678.8,845.8 L681.2,832.0 L684.5,853.3 L686.2,833.3 L690.0,827.0 L692.5,829.5 L695.0,819.5 L700.0,820.8 L703.8,814.5 L708.0,809.5 L712.5,812.8 L717.5,816.3 L722.5,811.3 L728.8,807.0 L737.5,805.3 L755.0,804.5 L774.8,804.5 L785.0,805.8 L789.5,810.8 L791.5,825.8 L793.0,870.8 L794.0,945.8 L795.5,895.8 L796.5,845.8 L798.8,833.3 L801.2,842.0 L803.8,835.8 L806.2,813.3 L808.8,809.5 L811.2,818.3 L813.0,824.5 L815.0,813.3 L818.8,809.5 L825.0,807.0 L832.5,805.8 L840.0,808.3 L846.2,811.3 L851.2,808.3 L860.0,807.0 L865.0,808.3 L867.5,820.8 L868.8,883.3 L869.5,944.5 L871.0,895.8 L872.5,845.8 L874.0,829.5 L876.5,850.8 L878.5,845.8 L880.5,820.8 L883.0,815.3 L885.0,833.3 L886.2,883.3 L887.0,914.5 L888.0,870.8 L889.5,830.8 L892.5,820.8 L895.5,817.0 L898.0,824.5 L900.0,833.3 L902.0,823.3 L905.0,817.0 L910.0,812.0 L915.0,807.8 L922.5,807.0 L927.5,809.5 L930.5,820.8 L932.0,883.3 L933.0,952.0 L934.5,895.8 L936.2,850.8 L938.8,828.3 L941.2,820.8 L944.5,824.5 L947.5,833.3 L950.0,818.3 L953.0,812.0 L956.2,814.5 L959.0,827.0 L960.5,813.3 L963.8,807.8 L971.2,807.0 L980.0,808.3 L985.0,812.0 L988.8,824.5 L990.5,870.8 L991.8,972.0 L993.0,908.3 L994.5,845.8 L997.0,820.8 L999.5,830.8 L1002.5,829.5 L1005.0,843.3 L1007.5,835.8 L1010.0,818.3 L1012.5,812.0 L1015.0,819.5 L1017.5,824.5 L1020.5,818.3 L1023.8,811.3 L1030.0,809.5 L1040.0,806.3 L1050.0,807.8 L1057.5,810.8 L1060.5,820.8 L1062.5,870.8 L1064.0,913.3 L1065.5,870.8 L1067.5,838.3 L1070.5,829.5 L1075.0,825.8 L1080.0,822.0 L1085.0,817.0 L1090.0,815.8 L1093.8,812.0 L1096.2,818.3 L1097.5,834.5 L1099.0,813.3 L1102.5,807.8 L1110.0,806.3 L1119.8,805.0 L1121.5,805.3 L1144.0,804.5 L1164.0,804.5 L1174.0,805.8 L1178.5,810.8 L1180.2,825.8 L1181.5,883.3 L1182.8,968.3 L1184.0,908.3 L1185.2,850.8 L1187.0,835.8 L1190.2,829.5 L1194.0,819.5 L1197.0,818.3 L1199.5,827.0 L1201.5,815.8 L1204.0,805.8 L1206.5,814.5 L1210.2,814.5 L1214.0,813.3 L1220.2,808.8 L1226.5,809.5 L1234.0,812.0 L1237.8,813.3 L1240.2,819.5 L1242.0,809.5 L1245.2,807.0 L1251.5,808.3 L1256.5,813.3 L1258.5,833.3 L1259.0,895.8 L1259.5,954.5 L1260.5,895.8 L1262.0,845.8 L1264.0,833.3 L1267.8,838.3 L1270.2,825.8 L1274.0,818.3 L1277.8,815.8 L1280.2,818.3 L1282.8,810.8 L1286.5,809.5 L1291.5,808.3 L1296.0,808.3" fill="none" stroke="#ff0a0a" stroke-width="3.7" stroke-linejoin="round" stroke-linecap="round"/>
<path d="M434.5,1851.7 L435.0,1846.1 L435.5,1840.4 L436.0,1834.8 L436.5,1827.6 L437.0,1818.8 L437.5,1810.4 L438.0,1801.2 L438.5,1788.3 L439.0,1775.5 L439.5,1762.6 L440.0,1757.2 L440.5,1757.2 L441.0,1757.2 L441.5,1757.2 L442.0,1757.2 L442.5,1757.2 L443.0,1757.2 L443.5,1757.2 L444.0,1757.2 L444.5,1757.2 L445.0,1757.2 L445.5,1757.2 L446.0,1757.2 L446.5,1757.9 L447.0,1759.0 L447.5,1759.7 L448.0,1772.9 L448.5,1764.1 L449.0,1764.1 L449.5,1764.1 L450.0,1764.1 L450.5,1764.1 L451.0,1764.1 L451.5,1764.1 L452.0,1764.1 L452.5,1764.1 L453.0,1764.1 L453.5,1764.1 L454.0,1764.1 L454.5,1770.2 L455.0,1777.9 L455.5,1776.5 L456.0,1762.7 L456.5,1762.7 L457.0,1762.7 L457.5,1762.7 L458.0,1762.7 L458.5,1762.7 L459.0,1762.7 L459.5,1762.7 L460.0,1762.7 L460.5,1762.7 L461.0,1762.7 L461.5,1762.7 L462.0,1764.0 L462.5,1765.6 L463.0,1773.7 L463.5,1783.0 L464.0,1791.8 L464.5,1792.0 L465.0,1792.0 L465.5,1792.2 L466.0,1793.4 L466.5,1796.7 L467.0,1797.7 L467.5,1797.7 L468.0,1797.7 L468.5,1799.5 L469.0,1799.7 L469.5,1800.1 L470.0,1804.9 L470.5,1804.6 L471.0,1804.5 L471.5,1804.5 L472.0,1804.5 L472.5,1804.5 L473.0,1804.5 L473.5,1798.0 L474.0,1798.0 L474.5,1798.0 L475.0,1798.0 L475.5,1798.0 L476.0,1798.0 L476.5,1798.0 L477.0,1798.0 L477.5,1798.0 L478.0,1798.0 L478.5,1798.0 L479.0,1798.0 L479.5,1798.5 L480.0,1799.5 L480.5,1800.7 L481.0,1801.0 L481.5,1803.4 L482.0,1804.2 L482.5,1805.1 L483.0,1805.7 L483.5,1806.9 L484.0,1807.3 L484.5,1806.1 L485.0,1805.6 L485.5,1805.6 L486.0,1804.6 L486.5,1803.8 L487.0,1802.9 L487.5,1802.9 L488.0,1802.9 L488.5,1802.9 L489.0,1802.9 L489.5,1800.4 L490.0,1800.1 L490.5,1800.1 L491.0,1800.0 L491.5,1799.7 L492.0,1795.9 L492.5,1795.6 L493.0,1795.3 L493.5,1795.1 L494.0,1794.8 L494.5,1794.8 L495.0,1794.8 L495.5,1794.8 L496.0,1794.8 L496.5,1794.8 L497.0,1794.8 L497.5,1794.8 L498.0,1794.8 L498.5,1794.8 L499.0,1794.8 L499.5,1794.8 L500.0,1796.1 L500.5,1796.1 L501.0,1796.1 L501.5,1796.1 L502.0,1796.1 L502.5,1796.1 L503.0,1796.1 L503.5,1796.1 L504.0,1796.1 L504.5,1801.8 L505.0,1801.8 L505.5,1801.8 L506.0,1801.8 L506.5,1801.8 L507.0,1802.0 L507.5,1802.5 L508.0,1802.7 L508.5,1802.8 L509.0,1802.8 L509.5,1802.8 L510.0,1802.8 L510.5,1795.6 L511.0,1795.5 L511.5,1795.4 L512.0,1795.2 L512.5,1795.2 L513.0,1795.2 L513.5,1795.2 L514.0,1795.2 L514.5,1795.2 L515.0,1795.2 L515.5,1795.2 L516.0,1795.2 L516.5,1795.2 L517.0,1795.2 L517.5,1795.2 L518.0,1797.9 L518.5,1797.9 L519.0,1797.9 L519.5,1797.9 L520.0,1797.9 L520.5,1797.9 L521.0,1798.6 L521.5,1799.3 L522.0,1800.1 L522.5,1800.4 L523.0,1807.5 L523.5,1807.8 L524.0,1808.2 L524.5,1808.5 L525.0,1812.9 L525.5,1813.4 L526.0,1813.7 L526.5,1814.3 L527.0,1808.1 L527.5,1717.7 L528.0,1712.2 L528.5,1712.2 L529.0,1712.2 L529.5,1647.6 L530.0,1646.0 L530.5,1646.0 L531.0,1646.0 L531.5,1645.5 L532.0,1644.7 L532.5,1644.7 L533.0,1642.9 L533.5,1620.0 L534.0,1596.6 L534.5,1587.2 L535.0,1587.2 L535.5,1587.2 L536.0,1587.2 L536.5,1587.2 L537.0,1587.2 L537.5,1587.2 L538.0,1587.2 L538.5,1587.2 L539.0,1587.2 L539.5,1587.2 L540.0,1587.2 L540.5,1587.2 L541.0,1587.2 L541.5,1587.2 L542.0,1587.2 L542.5,1587.2 L543.0,1615.6 L543.5,1636.8 L544.0,1636.8 L544.5,1636.8 L545.0,1636.8 L545.5,1636.8 L546.0,1648.8 L546.5,1722.5 L547.0,1729.7 L547.5,1732.6 L548.0,1740.3 L548.5,1735.4 L549.0,1715.8 L549.5,1707.2 L550.0,1706.5 L550.5,1705.3 L551.0,1704.6 L551.5,1703.5 L552.0,1703.5 L552.5,1703.5 L553.0,1703.5 L553.5,1703.5 L554.0,1703.5 L554.5,1703.5 L555.0,1703.5 L555.5,1703.5 L556.0,1703.5 L556.5,1703.5 L557.0,1703.5 L557.5,1703.5 L558.0,1716.7 L558.5,1733.5 L559.0,1747.5 L559.5,1753.1 L560.0,1753.1 L560.5,1753.1 L561.0,1766.0 L561.5,1775.6 L562.0,1777.3 L562.5,1779.7 L563.0,1781.3 L563.5,1781.3 L564.0,1781.3 L564.5,1781.3 L565.0,1781.3 L565.5,1781.3 L566.0,1781.3 L566.5,1781.3 L567.0,1781.3 L567.5,1784.7 L568.0,1785.3 L568.5,1786.0 L569.0,1789.8 L569.5,1789.8 L570.0,1789.8 L570.5,1789.8 L571.0,1789.8 L571.5,1789.8 L572.0,1789.8 L572.5,1789.8 L573.0,1789.8 L573.5,1790.4 L574.0,1791.7 L574.5,1793.0 L575.0,1795.0 L575.5,1804.7 L576.0,1804.7 L576.5,1804.8 L577.0,1805.0 L577.5,1805.0 L578.0,1805.0 L578.5,1805.0 L579.0,1805.0 L579.5,1805.0 L580.0,1805.0 L580.5,1805.3 L581.0,1806.3 L581.5,1807.1 L582.0,1807.7 L582.5,1809.1 L583.0,1809.1 L583.5,1809.1 L584.0,1809.1 L584.5,1809.1 L585.0,1810.0 L585.5,1811.4 L586.0,1812.9 L586.5,1813.7 L587.0,1814.3 L587.5,1808.1 L588.0,1797.6 L588.5,1716.2 L589.0,1715.5 L589.5,1715.2 L590.0,1714.6 L590.5,1714.6 L591.0,1714.6 L591.5,1714.6 L592.0,1714.6 L592.5,1703.6 L593.0,1684.3 L593.5,1665.4 L594.0,1654.6 L594.5,1649.7 L595.0,1644.5 L595.5,1639.7 L596.0,1634.4 L596.5,1615.9 L597.0,1588.6 L597.5,1577.2 L598.0,1577.1 L598.5,1577.0 L599.0,1577.0 L599.5,1576.8 L600.0,1576.7 L600.5,1576.7 L601.0,1576.7 L601.5,1576.7 L602.0,1576.7 L602.5,1576.7 L603.0,1576.7 L603.5,1576.7 L604.0,1576.7 L604.5,1576.7 L605.0,1576.7 L605.5,1576.7 L606.0,1576.7 L606.5,1609.1 L607.0,1626.4 L607.5,1630.4 L608.0,1664.4 L608.5,1686.1 L609.0,1696.1 L609.5,1709.0 L610.0,1722.6 L610.5,1723.7 L611.0,1724.9 L611.5,1733.2 L612.0,1747.3 L612.5,1761.4 L613.0,1762.4 L613.5,1762.7 L614.0,1762.7 L614.5,1762.7 L615.0,1763.4 L615.5,1763.7 L616.0,1764.3 L616.5,1769.1 L617.0,1781.8 L617.5,1782.9 L618.0,1784.1 L618.5,1785.2 L619.0,1786.3 L619.5,1786.9 L620.0,1786.9 L620.5,1786.9 L621.0,1786.9 L621.5,1786.9 L622.0,1787.5 L622.5,1788.7 L623.0,1789.6 L623.5,1790.5 L624.0,1795.4 L624.5,1795.4 L625.0,1795.4 L625.5,1795.4 L626.0,1795.4 L626.5,1795.4 L627.0,1795.4 L627.5,1795.4 L628.0,1795.4 L628.5,1795.6 L629.0,1795.8 L629.5,1796.2 L630.0,1796.6 L630.5,1796.8 L631.0,1798.2 L631.5,1798.2 L632.0,1798.2 L632.5,1791.9 L633.0,1791.9 L633.5,1791.9 L634.0,1791.9 L634.5,1791.9 L635.0,1791.9 L635.5,1791.9 L636.0,1791.9 L636.5,1791.9 L637.0,1791.9 L637.5,1791.9 L638.0,1792.0 L638.5,1792.2 L639.0,1792.2 L639.5,1792.2 L640.0,1800.0 L640.5,1800.0 L641.0,1800.1 L641.5,1800.3 L642.0,1800.7 L642.5,1801.4 L643.0,1801.4 L643.5,1801.4 L644.0,1801.4 L644.5,1801.4 L645.0,1801.4 L645.5,1801.4 L646.0,1801.4 L646.5,1801.4 L647.0,1801.5 L647.5,1802.2 L648.0,1802.6 L648.5,1803.4 L649.0,1803.9 L649.5,1811.9 L650.0,1812.3 L650.5,1812.8 L651.0,1813.3 L651.5,1816.9 L652.0,1817.2 L652.5,1818.1 L653.0,1818.1 L653.5,1818.1 L654.0,1818.1 L654.5,1818.9 L655.0,1819.2 L655.5,1819.8 L656.0,1821.5 L656.5,1821.5 L657.0,1821.5 L657.5,1821.5 L658.0,1821.5 L658.5,1821.7 L659.0,1822.0 L659.5,1822.1 L660.0,1822.4 L660.5,1822.7 L661.0,1822.8 L661.5,1822.9 L662.0,1823.0 L662.5,1823.2 L663.0,1824.1 L663.5,1824.2 L664.0,1824.3 L664.5,1824.4 L665.0,1824.5 L665.5,1824.6 L666.0,1824.7 L666.5,1824.8 L667.0,1824.1 L667.5,1824.1 L668.0,1824.1 L668.5,1824.1 L669.0,1824.1 L669.5,1824.1 L670.0,1824.1 L670.5,1824.1 L671.0,1824.1 L671.5,1824.1 L672.0,1824.1 L672.5,1817.0 L673.0,1780.8 L673.5,1730.6 L674.0,1727.4 L674.5,1725.8 L675.0,1723.7 L675.5,1720.5 L676.0,1719.7 L676.5,1693.8 L677.0,1650.1 L677.5,1597.1 L678.0,1544.1 L678.5,1543.5 L679.0,1543.5 L679.5,1543.5 L680.0,1543.5 L680.5,1543.5 L681.0,1543.5 L681.5,1543.5 L682.0,1543.5 L682.5,1543.5 L683.0,1543.5 L683.5,1543.5 L684.0,1543.5 L684.5,1543.5 L685.0,1543.5 L685.5,1543.5 L686.0,1543.5 L686.5,1543.5 L687.0,1561.5 L687.5,1602.5 L688.0,1647.8 L688.5,1679.1 L689.0,1688.3 L689.5,1694.6 L690.0,1695.1 L690.5,1695.4 L691.0,1695.9 L691.5,1696.2 L692.0,1696.2 L692.5,1696.7 L693.0,1697.0 L693.5,1697.5 L694.0,1697.8 L694.5,1724.2 L695.0,1742.7 L695.5,1750.8 L696.0,1758.0 L696.5,1758.8 L697.0,1759.6 L697.5,1759.6 L698.0,1764.1 L698.5,1770.1 L699.0,1772.0 L699.5,1779.2 L700.0,1780.9 L700.5,1780.9 L701.0,1780.9 L701.5,1780.9 L702.0,1780.9 L702.5,1782.9 L703.0,1784.2 L703.5,1784.2 L704.0,1784.2 L704.5,1788.3 L705.0,1788.3 L705.5,1788.3 L706.0,1788.3 L706.5,1788.3 L707.0,1788.3 L707.5,1789.6 L708.0,1790.0 L708.5,1790.5 L709.0,1800.5 L709.5,1801.5 L710.0,1804.0 L710.5,1805.0 L711.0,1807.4 L711.5,1807.4 L712.0,1807.4 L712.5,1807.4 L713.0,1807.4 L713.5,1807.4 L714.0,1807.4 L714.5,1810.8 L715.0,1811.8 L715.5,1811.5 L716.0,1811.3 L716.5,1810.9 L717.0,1810.0 L717.5,1810.0 L718.0,1810.0 L718.5,1810.0 L719.0,1810.0 L719.5,1810.0 L720.0,1810.0 L720.5,1810.0 L721.0,1810.0 L721.5,1810.0 L722.0,1810.0 L722.5,1810.0 L723.0,1815.1 L723.5,1815.1 L724.0,1815.1 L724.5,1815.1 L725.0,1815.9 L725.5,1815.9 L726.0,1815.9 L726.5,1815.9 L727.0,1815.9 L727.5,1816.1 L728.0,1816.3 L728.5,1816.3 L729.0,1816.3 L729.5,1816.0 L730.0,1815.6 L730.5,1815.3 L731.0,1815.2 L731.5,1815.2 L732.0,1815.2 L732.5,1815.2 L733.0,1815.2 L733.5,1813.1 L734.0,1812.9 L734.5,1812.7 L735.0,1812.4 L735.5,1812.4 L736.0,1812.4 L736.5,1812.4 L737.0,1812.4 L737.5,1812.4 L738.0,1812.4 L738.5,1812.4 L739.0,1812.4 L739.5,1812.4 L740.0,1812.4 L740.5,1812.4 L741.0,1818.9 L741.5,1818.9 L742.0,1818.9 L742.5,1818.9 L743.0,1818.9 L743.5,1818.9 L744.0,1819.2 L744.5,1819.8 L745.0,1820.2 L745.5,1820.5 L746.0,1822.2 L746.5,1822.7 L747.0,1822.7 L747.5,1822.7 L748.0,1822.7 L748.5,1823.0 L749.0,1823.6 L749.5,1824.8 L750.0,1825.2 L750.5,1827.1 L751.0,1827.5 L751.5,1827.8 L752.0,1827.8 L752.5,1827.8 L753.0,1827.8 L753.5,1827.8 L754.0,1827.8 L754.5,1827.8 L755.0,1827.9 L755.5,1828.0 L756.0,1828.1 L756.5,1828.1 L757.0,1828.7 L757.5,1828.7 L758.0,1828.7 L758.5,1828.7 L759.0,1828.7 L759.5,1828.7 L760.0,1828.8 L760.5,1828.9 L761.0,1829.0 L761.5,1829.0 L762.0,1829.6 L762.5,1829.6 L763.0,1829.6 L763.5,1828.4 L764.0,1828.4 L764.5,1828.4 L765.0,1828.4 L765.5,1828.4 L766.0,1828.4 L766.5,1828.4 L767.0,1828.4 L767.5,1828.4 L768.0,1828.4 L768.5,1828.4 L769.0,1828.4 L769.5,1828.5 L770.0,1828.7 L770.5,1828.8 L771.0,1830.1 L771.5,1830.3 L772.0,1830.5 L772.5,1830.6 L773.0,1830.7 L773.5,1831.4 L774.0,1831.4 L774.5,1831.4 L775.0,1831.2 L775.5,1831.1 L776.0,1831.0 L776.5,1830.8 L777.0,1830.7 L777.5,1830.7 L778.0,1830.7 L778.5,1830.7 L779.0,1830.7 L779.5,1830.5 L780.0,1830.5 L780.5,1830.5 L781.0,1830.5 L781.5,1830.5 L782.0,1830.5 L782.5,1830.5 L783.0,1830.5 L783.5,1830.5 L784.0,1830.5 L784.5,1830.5 L785.0,1830.5 L785.5,1824.7 L786.0,1824.7 L786.5,1824.7 L787.0,1824.7 L787.5,1824.7 L788.0,1824.7 L788.5,1824.7 L789.0,1824.7 L789.5,1819.3 L790.0,1793.2 L790.5,1772.4 L791.0,1756.0 L791.5,1731.5 L792.0,1730.9 L792.5,1730.5 L793.0,1729.9 L793.5,1729.6 L794.0,1713.0 L794.5,1684.1 L795.0,1672.2 L795.5,1672.1 L796.0,1672.0 L796.5,1672.0 L797.0,1671.8 L797.5,1671.7 L798.0,1671.7 L798.5,1671.7 L799.0,1671.7 L799.5,1671.7 L800.0,1671.7 L800.5,1671.7 L801.0,1671.7 L801.5,1671.7 L802.0,1671.7 L802.5,1671.7 L803.0,1671.7 L803.5,1671.7 L804.0,1681.0 L804.5,1692.7 L805.0,1711.5 L805.5,1721.5 L806.0,1721.5 L806.5,1739.6 L807.0,1751.6 L807.5,1763.7 L808.0,1792.9 L808.5,1793.2 L809.0,1793.2 L809.5,1793.2 L810.0,1793.2 L810.5,1793.2 L811.0,1793.2 L811.5,1793.2 L812.0,1793.2 L812.5,1794.2 L813.0,1795.5 L813.5,1796.3 L814.0,1796.9 L814.5,1797.5 L815.0,1797.9 L815.5,1797.9 L816.0,1797.9 L816.5,1797.9 L817.0,1797.9 L817.5,1800.7 L818.0,1803.5 L818.5,1804.9 L819.0,1807.0 L819.5,1809.9 L820.0,1810.2 L820.5,1810.2 L821.0,1810.2 L821.5,1814.1 L822.0,1815.6 L822.5,1817.1 L823.0,1818.2 L823.5,1818.9 L824.0,1821.2 L824.5,1821.9 L825.0,1822.6 L825.5,1822.8 L826.0,1822.9 L826.5,1822.9 L827.0,1822.9 L827.5,1822.2 L828.0,1822.1 L828.5,1822.0 L829.0,1821.8 L829.5,1821.5 L830.0,1820.9 L830.5,1820.3 L831.0,1819.7 L831.5,1819.4 L832.0,1819.3 L832.5,1819.3 L833.0,1819.3 L833.5,1819.3 L834.0,1819.3 L834.5,1819.3 L835.0,1819.3 L835.5,1819.3 L836.0,1819.3 L836.5,1819.3 L837.0,1819.3 L837.5,1819.3 L838.0,1819.3 L838.5,1819.3 L839.0,1819.3 L839.5,1819.3 L840.0,1819.3 L840.5,1819.4 L841.0,1819.7 L841.5,1820.1 L842.0,1820.3 L842.5,1822.4 L843.0,1822.5 L843.5,1822.7 L844.0,1819.4 L844.5,1819.3 L845.0,1819.3 L845.5,1819.3 L846.0,1819.3 L846.5,1819.3 L847.0,1819.3 L847.5,1819.3 L848.0,1819.3 L848.5,1819.3 L849.0,1819.3 L849.5,1819.3 L850.0,1819.3 L850.5,1819.4 L851.0,1819.4 L851.5,1820.4 L852.0,1820.4 L852.5,1820.6 L853.0,1821.1 L853.5,1821.5 L854.0,1825.6 L854.5,1825.6 L855.0,1825.6 L855.5,1825.6 L856.0,1825.6 L856.5,1825.6 L857.0,1825.6 L857.5,1824.1 L858.0,1824.1 L858.5,1824.1 L859.0,1824.1 L859.5,1824.1 L860.0,1824.1 L860.5,1824.1 L861.0,1824.1 L861.5,1824.1 L862.0,1824.1 L862.5,1824.1 L863.0,1824.1 L863.5,1824.4 L864.0,1824.7 L864.5,1824.9 L865.0,1819.3 L865.5,1793.2 L866.0,1772.8 L866.5,1756.0 L867.0,1739.2 L867.5,1717.6 L868.0,1692.7 L868.5,1667.4 L869.0,1640.9 L869.5,1613.2 L870.0,1588.3 L870.5,1587.7 L871.0,1587.6 L871.5,1587.5 L872.0,1587.4 L872.5,1587.3 L873.0,1587.3 L873.5,1587.2 L874.0,1587.2 L874.5,1587.2 L875.0,1587.2 L875.5,1587.2 L876.0,1587.2 L876.5,1587.2 L877.0,1587.2 L877.5,1587.2 L878.0,1587.2 L878.5,1587.2 L879.0,1587.2 L879.5,1601.2 L880.0,1636.8 L880.5,1636.8 L881.0,1643.2 L881.5,1683.3 L882.0,1721.0 L882.5,1738.7 L883.0,1763.7 L883.5,1767.4 L884.0,1769.8 L884.5,1773.4 L885.0,1777.8 L885.5,1781.0 L886.0,1781.9 L886.5,1781.9 L887.0,1781.9 L887.5,1776.0 L888.0,1774.7 L888.5,1774.5 L889.0,1774.5 L889.5,1774.5 L890.0,1774.5 L890.5,1774.5 L891.0,1774.5 L891.5,1774.5 L892.0,1774.5 L892.5,1774.5 L893.0,1770.1 L893.5,1768.5 L894.0,1768.5 L894.5,1766.5 L895.0,1766.5 L895.5,1766.5 L896.0,1766.5 L896.5,1766.5 L897.0,1766.5 L897.5,1766.5 L898.0,1766.5 L898.5,1766.5 L899.0,1766.5 L899.5,1766.5 L900.0,1766.9 L900.5,1773.2 L901.0,1779.2 L901.5,1783.7 L902.0,1783.7 L902.5,1783.7 L903.0,1783.7 L903.5,1783.7 L904.0,1783.7 L904.5,1783.7 L905.0,1783.7 L905.5,1785.8 L906.0,1786.8 L906.5,1786.8 L907.0,1787.4 L907.5,1788.0 L908.0,1788.7 L908.5,1789.0 L909.0,1789.2 L909.5,1798.4 L910.0,1798.4 L910.5,1798.4 L911.0,1798.4 L911.5,1798.4 L912.0,1798.9 L912.5,1799.3 L913.0,1799.7 L913.5,1800.1 L914.0,1801.2 L914.5,1801.7 L915.0,1802.7 L915.5,1803.5 L916.0,1804.0 L916.5,1804.7 L917.0,1805.2 L917.5,1805.9 L918.0,1806.7 L918.5,1807.2 L919.0,1807.5 L919.5,1807.8 L920.0,1807.8 L920.5,1807.8 L921.0,1808.1 L921.5,1808.4 L922.0,1808.8 L922.5,1809.1 L923.0,1810.5 L923.5,1810.9 L924.0,1811.4 L924.5,1811.7 L925.0,1812.1 L925.5,1815.9 L926.0,1816.0 L926.5,1816.0 L927.0,1814.1 L927.5,1814.1 L928.0,1814.1 L928.5,1814.1 L929.0,1805.7 L929.5,1763.1 L930.0,1730.6 L930.5,1700.6 L931.0,1672.1 L931.5,1644.0 L932.0,1626.3 L932.5,1615.8 L933.0,1606.6 L933.5,1606.0 L934.0,1606.0 L934.5,1606.0 L935.0,1606.0 L935.5,1606.0 L936.0,1606.0 L936.5,1606.0 L937.0,1606.0 L937.5,1606.0 L938.0,1606.0 L938.5,1606.0 L939.0,1606.0 L939.5,1606.0 L940.0,1606.0 L940.5,1606.0 L941.0,1606.0 L941.5,1606.0 L942.0,1612.8 L942.5,1635.3 L943.0,1655.8 L943.5,1655.8 L944.0,1655.8 L944.5,1655.8 L945.0,1662.1 L945.5,1662.7 L946.0,1663.0 L946.5,1663.7 L947.0,1664.3 L947.5,1690.4 L948.0,1724.2 L948.5,1757.6 L949.0,1766.9 L949.5,1779.4 L950.0,1779.4 L950.5,1779.8 L951.0,1784.3 L951.5,1784.3 L952.0,1784.0 L952.5,1784.0 L953.0,1784.0 L953.5,1784.0 L954.0,1784.0 L954.5,1784.0 L955.0,1784.0 L955.5,1784.0 L956.0,1784.0 L956.5,1784.0 L957.0,1784.0 L957.5,1784.2 L958.0,1784.2 L958.5,1785.4 L959.0,1789.0 L959.5,1789.9 L960.0,1789.9 L960.5,1789.9 L961.0,1789.9 L961.5,1789.9 L962.0,1789.9 L962.5,1791.9 L963.0,1797.5 L963.5,1803.1 L964.0,1809.6 L964.5,1810.8 L965.0,1812.6 L965.5,1813.0 L966.0,1813.0 L966.5,1813.0 L967.0,1813.0 L967.5,1814.3 L968.0,1812.4 L968.5,1812.4 L969.0,1812.4 L969.5,1812.4 L970.0,1812.4 L970.5,1812.4 L971.0,1812.4 L971.5,1812.4 L972.0,1812.4 L972.5,1812.4 L973.0,1812.4 L973.5,1812.4 L974.0,1812.6 L974.5,1813.1 L975.0,1813.5 L975.5,1813.8 L976.0,1819.0 L976.5,1819.3 L977.0,1819.6 L977.5,1819.8 L978.0,1823.2 L978.5,1823.3 L979.0,1823.3 L979.5,1823.3 L980.0,1823.3 L980.5,1823.3 L981.0,1823.8 L981.5,1824.0 L982.0,1822.4 L982.5,1822.4 L983.0,1822.4 L983.5,1822.4 L984.0,1822.4 L984.5,1822.4 L985.0,1822.4 L985.5,1822.4 L986.0,1822.4 L986.5,1822.4 L987.0,1822.4 L987.5,1812.0 L988.0,1773.1 L988.5,1732.1 L989.0,1689.6 L989.5,1650.8 L990.0,1615.2 L990.5,1575.2 L991.0,1502.9 L991.5,1473.5 L992.0,1473.5 L992.5,1473.5 L993.0,1473.5 L993.5,1473.5 L994.0,1473.5 L994.5,1473.5 L995.0,1473.5 L995.5,1473.5 L996.0,1473.5 L996.5,1473.5 L997.0,1473.5 L997.5,1473.5 L998.0,1473.5 L998.5,1473.5 L999.0,1473.5 L999.5,1473.5 L1000.0,1473.5 L1000.5,1517.2 L1001.0,1523.2 L1001.5,1523.2 L1002.0,1530.4 L1002.5,1583.4 L1003.0,1637.6 L1003.5,1666.5 L1004.0,1682.5 L1004.5,1696.5 L1005.0,1698.1 L1005.5,1698.1 L1006.0,1703.7 L1006.5,1717.7 L1007.0,1719.9 L1007.5,1720.5 L1008.0,1725.0 L1008.5,1727.0 L1009.0,1727.8 L1009.5,1729.8 L1010.0,1731.8 L1010.5,1741.9 L1011.0,1752.8 L1011.5,1756.2 L1012.0,1756.8 L1012.5,1756.8 L1013.0,1756.8 L1013.5,1758.0 L1014.0,1768.5 L1014.5,1772.5 L1015.0,1774.6 L1015.5,1776.6 L1016.0,1782.2 L1016.5,1787.8 L1017.0,1793.5 L1017.5,1798.8 L1018.0,1800.4 L1018.5,1801.3 L1019.0,1801.3 L1019.5,1801.3 L1020.0,1801.3 L1020.5,1801.3 L1021.0,1801.3 L1021.5,1802.7 L1022.0,1808.1 L1022.5,1808.1 L1023.0,1808.1 L1023.5,1808.1 L1024.0,1808.1 L1024.5,1809.4 L1025.0,1811.0 L1025.5,1811.7 L1026.0,1812.7 L1026.5,1813.1 L1027.0,1813.1 L1027.5,1813.1 L1028.0,1813.1 L1028.5,1813.1 L1029.0,1813.3 L1029.5,1813.7 L1030.0,1814.3 L1030.5,1814.7 L1031.0,1819.4 L1031.5,1819.9 L1032.0,1819.9 L1032.5,1819.9 L1033.0,1819.9 L1033.5,1820.1 L1034.0,1820.1 L1034.5,1820.1 L1035.0,1817.6 L1035.5,1817.6 L1036.0,1817.6 L1036.5,1817.6 L1037.0,1817.6 L1037.5,1817.6 L1038.0,1817.6 L1038.5,1817.6 L1039.0,1817.6 L1039.5,1817.6 L1040.0,1817.6 L1040.5,1817.8 L1041.0,1817.9 L1041.5,1818.0 L1042.0,1818.2 L1042.5,1818.2 L1043.0,1818.5 L1043.5,1819.1 L1044.0,1819.4 L1044.5,1824.0 L1045.0,1824.3 L1045.5,1824.8 L1046.0,1825.0 L1046.5,1825.0 L1047.0,1825.0 L1047.5,1825.0 L1048.0,1825.0 L1048.5,1825.0 L1049.0,1825.0 L1049.5,1825.0 L1050.0,1825.4 L1050.5,1825.6 L1051.0,1825.8 L1051.5,1825.9 L1052.0,1828.6 L1052.5,1828.8 L1053.0,1828.9 L1053.5,1828.9 L1054.0,1829.1 L1054.5,1829.1 L1055.0,1829.1 L1055.5,1817.1 L1056.0,1817.1 L1056.5,1817.1 L1057.0,1817.1 L1057.5,1817.1 L1058.0,1817.1 L1058.5,1817.1 L1059.0,1817.1 L1059.5,1817.1 L1060.0,1792.8 L1060.5,1774.7 L1061.0,1761.8 L1061.5,1742.1 L1062.0,1742.0 L1062.5,1742.0 L1063.0,1742.0 L1063.5,1742.0 L1064.0,1742.0 L1064.5,1742.0 L1065.0,1724.8 L1065.5,1694.4 L1066.0,1652.8 L1066.5,1602.4 L1067.0,1582.2 L1067.5,1582.1 L1068.0,1582.0 L1068.5,1582.0 L1069.0,1581.8 L1069.5,1581.7 L1070.0,1581.7 L1070.5,1581.7 L1071.0,1581.7 L1071.5,1581.7 L1072.0,1581.7 L1072.5,1581.7 L1073.0,1581.7 L1073.5,1581.7 L1074.0,1581.7 L1074.5,1581.7 L1075.0,1581.7 L1075.5,1581.7 L1076.0,1612.2 L1076.5,1631.5 L1077.0,1631.5 L1077.5,1631.5 L1078.0,1661.2 L1078.5,1692.4 L1079.0,1707.1 L1079.5,1707.7 L1080.0,1708.4 L1080.5,1713.7 L1081.0,1737.5 L1081.5,1758.0 L1082.0,1763.6 L1082.5,1764.1 L1083.0,1764.1 L1083.5,1764.1 L1084.0,1764.1 L1084.5,1764.1 L1085.0,1766.3 L1085.5,1766.3 L1086.0,1766.3 L1086.5,1766.3 L1087.0,1766.3 L1087.5,1766.3 L1088.0,1766.3 L1088.5,1766.3 L1089.0,1767.9 L1089.5,1773.5 L1090.0,1776.2 L1090.5,1776.2 L1091.0,1776.9 L1091.5,1778.1 L1092.0,1779.6 L1092.5,1780.7 L1093.0,1792.0 L1093.5,1792.0 L1094.0,1792.0 L1094.5,1792.0 L1095.0,1796.4 L1095.5,1796.4 L1096.0,1797.2 L1096.5,1797.6 L1097.0,1798.1 L1097.5,1798.4 L1098.0,1800.2 L1098.5,1800.2 L1099.0,1800.2 L1099.5,1800.2 L1100.0,1800.2 L1100.5,1800.2 L1101.0,1800.2 L1101.5,1800.2 L1102.0,1803.2 L1102.5,1803.7 L1103.0,1804.5 L1103.5,1805.3 L1104.0,1805.9 L1104.5,1805.9 L1105.0,1806.5 L1105.5,1807.2 L1106.0,1807.8 L1106.5,1808.3 L1107.0,1809.2 L1107.5,1810.2 L1108.0,1811.3 L1108.5,1812.1 L1109.0,1812.8 L1109.5,1813.0 L1110.0,1813.0 L1110.5,1811.3 L1111.0,1811.3 L1111.5,1811.3 L1112.0,1811.3 L1112.5,1811.3 L1113.0,1811.3 L1113.5,1811.3 L1114.0,1811.3 L1114.5,1811.3 L1115.0,1811.3 L1115.5,1811.3 L1116.0,1811.3 L1116.5,1812.4 L1117.0,1813.5 L1117.5,1814.4 L1118.0,1814.4 L1118.5,1814.4 L1119.0,1814.5 L1119.5,1814.6 L1120.0,1814.8 L1120.5,1815.0 L1121.0,1819.9 L1121.5,1819.4 L1122.0,1818.5 L1122.5,1817.8 L1123.0,1817.0 L1123.5,1816.5 L1124.0,1815.5 L1124.5,1810.5 L1125.0,1809.9 L1125.5,1809.0 L1126.0,1808.6 L1126.5,1808.0 L1127.0,1808.0 L1127.5,1808.0 L1128.0,1808.0 L1128.5,1808.0 L1129.0,1808.0 L1129.5,1808.0 L1130.0,1808.0 L1130.5,1808.0 L1131.0,1808.0 L1131.5,1808.0 L1132.0,1808.0 L1132.5,1814.2 L1133.0,1814.2 L1133.5,1814.2 L1134.0,1814.2 L1134.5,1814.2 L1135.0,1814.9 L1135.5,1815.1 L1136.0,1815.3 L1136.5,1815.9 L1137.0,1820.0 L1137.5,1820.5 L1138.0,1820.6 L1138.5,1820.6 L1139.0,1820.6 L1139.5,1821.6 L1140.0,1822.2 L1140.5,1823.0 L1141.0,1823.4 L1141.5,1825.6 L1142.0,1826.0 L1142.5,1825.9 L1143.0,1820.1 L1143.5,1819.6 L1144.0,1819.5 L1144.5,1819.3 L1145.0,1819.1 L1145.5,1819.1 L1146.0,1819.1 L1146.5,1819.1 L1147.0,1819.1 L1147.5,1819.1 L1148.0,1819.1 L1148.5,1819.1 L1149.0,1819.1 L1149.5,1819.1 L1150.0,1819.1 L1150.5,1819.9 L1151.0,1819.7 L1151.5,1819.6 L1152.0,1819.3 L1152.5,1819.3 L1153.0,1819.3 L1153.5,1819.3 L1154.0,1819.3 L1154.5,1817.2 L1155.0,1817.2 L1155.5,1817.2 L1156.0,1817.2 L1156.5,1817.2 L1157.0,1817.2 L1157.5,1817.2 L1158.0,1817.2 L1158.5,1817.2 L1159.0,1817.2 L1159.5,1817.2 L1160.0,1817.3 L1160.5,1817.7 L1161.0,1818.0 L1161.5,1818.9 L1162.0,1822.1 L1162.5,1822.6 L1163.0,1822.9 L1163.5,1823.1 L1164.0,1823.3 L1164.5,1824.2 L1165.0,1824.2 L1165.5,1824.2 L1166.0,1824.2 L1166.5,1824.2 L1167.0,1824.2 L1167.5,1824.2 L1168.0,1824.3 L1168.5,1820.8 L1169.0,1820.8 L1169.5,1820.8 L1170.0,1820.8 L1170.5,1820.8 L1171.0,1820.8 L1171.5,1820.8 L1172.0,1820.8 L1172.5,1820.8 L1173.0,1820.8 L1173.5,1820.8 L1174.0,1820.9 L1174.5,1821.0 L1175.0,1821.3 L1175.5,1821.5 L1176.0,1824.8 L1176.5,1825.2 L1177.0,1825.4 L1177.5,1825.6 L1178.0,1825.6 L1178.5,1819.3 L1179.0,1793.2 L1179.5,1773.1 L1180.0,1757.4 L1180.5,1733.7 L1181.0,1733.5 L1181.5,1732.9 L1182.0,1732.6 L1182.5,1732.1 L1183.0,1732.1 L1183.5,1732.1 L1184.0,1717.6 L1184.5,1692.4 L1185.0,1674.3 L1185.5,1660.6 L1186.0,1654.7 L1186.5,1654.6 L1187.0,1654.5 L1187.5,1654.3 L1188.0,1654.2 L1188.5,1654.2 L1189.0,1654.2 L1189.5,1654.2 L1190.0,1654.2 L1190.5,1654.2 L1191.0,1654.2 L1191.5,1654.2 L1192.0,1654.2 L1192.5,1654.2 L1193.0,1654.2 L1193.5,1654.2 L1194.0,1654.2 L1194.5,1675.5 L1195.0,1702.0 L1195.5,1704.0 L1196.0,1713.6 L1196.5,1738.8 L1197.0,1758.8 L1197.5,1766.4 L1198.0,1780.2 L1198.5,1783.0 L1199.0,1780.0 L1199.5,1775.7 L1200.0,1771.3 L1200.5,1765.9 L1201.0,1765.5 L1201.5,1765.5 L1202.0,1765.5 L1202.5,1765.5 L1203.0,1760.7 L1203.5,1760.7 L1204.0,1760.7 L1204.5,1760.7 L1205.0,1760.7 L1205.5,1760.7 L1206.0,1760.7 L1206.5,1760.7 L1207.0,1760.7 L1207.5,1760.7 L1208.0,1760.7 L1208.5,1761.5 L1209.0,1769.1 L1209.5,1776.8 L1210.0,1782.8 L1210.5,1783.4 L1211.0,1783.4 L1211.5,1783.4 L1212.0,1783.4 L1212.5,1783.4 L1213.0,1783.4 L1213.5,1783.4 L1214.0,1785.9 L1214.5,1787.3 L1215.0,1794.5 L1215.5,1794.5 L1216.0,1794.5 L1216.5,1794.5 L1217.0,1794.5 L1217.5,1795.7 L1218.0,1798.1 L1218.5,1800.2 L1219.0,1803.8 L1219.5,1806.2 L1220.0,1807.8 L1220.5,1807.8 L1221.0,1807.8 L1221.5,1807.8 L1222.0,1808.9 L1222.5,1810.0 L1223.0,1811.5 L1223.5,1812.0 L1224.0,1812.6 L1224.5,1813.6 L1225.0,1813.6 L1225.5,1813.6 L1226.0,1813.6 L1226.5,1813.6 L1227.0,1813.6 L1227.5,1813.6 L1228.0,1813.6 L1228.5,1813.6 L1229.0,1813.6 L1229.5,1813.6 L1230.0,1813.6 L1230.5,1814.0 L1231.0,1814.3 L1231.5,1814.6 L1232.0,1815.0 L1232.5,1815.6 L1233.0,1816.4 L1233.5,1819.9 L1234.0,1820.7 L1234.5,1821.6 L1235.0,1822.2 L1235.5,1822.8 L1236.0,1824.0 L1236.5,1824.5 L1237.0,1825.3 L1237.5,1825.3 L1238.0,1825.3 L1238.5,1822.1 L1239.0,1817.2 L1239.5,1812.8 L1240.0,1798.0 L1240.5,1798.0 L1241.0,1798.0 L1241.5,1798.0 L1242.0,1798.0 L1242.5,1798.0 L1243.0,1798.0 L1243.5,1798.0 L1244.0,1798.0 L1244.5,1798.0 L1245.0,1798.0 L1245.5,1798.0 L1246.0,1802.7 L1246.5,1808.2 L1247.0,1815.0 L1247.5,1820.3 L1248.0,1820.3 L1248.5,1820.3 L1249.0,1820.3 L1249.5,1820.3 L1250.0,1820.3 L1250.5,1820.3 L1251.0,1820.3 L1251.5,1820.3 L1252.0,1820.3 L1252.5,1820.3 L1253.0,1817.6 L1253.5,1792.4 L1254.0,1770.0 L1254.5,1749.1 L1255.0,1728.3 L1255.5,1702.6 L1256.0,1673.3 L1256.5,1644.4 L1257.0,1612.3 L1257.5,1578.6 L1258.0,1564.7 L1258.5,1564.6 L1259.0,1564.5 L1259.5,1564.5 L1260.0,1564.3 L1260.5,1564.2 L1261.0,1564.2 L1261.5,1564.2 L1262.0,1564.2 L1262.5,1564.2 L1263.0,1564.2 L1263.5,1564.2 L1264.0,1564.2 L1264.5,1564.2 L1265.0,1564.2 L1265.5,1564.2 L1266.0,1564.2 L1266.5,1564.2 L1267.0,1586.7 L1267.5,1614.1 L1268.0,1629.7 L1268.5,1640.1 L1269.0,1655.0 L1269.5,1675.8 L1270.0,1691.8 L1270.5,1706.2 L1271.0,1733.8 L1271.5,1746.7 L1272.0,1759.5 L1272.5,1770.3 L1273.0,1777.2 L1273.5,1784.0 L1274.0,1790.9 L1274.5,1791.4 L1275.0,1791.4 L1275.5,1791.4 L1276.0,1791.4 L1276.5,1791.4 L1277.0,1791.4 L1277.5,1791.4 L1278.0,1793.9 L1278.5,1794.2 L1279.0,1794.2 L1279.5,1794.2 L1280.0,1794.2 L1280.5,1794.2 L1281.0,1793.0 L1281.5,1791.8 L1282.0,1791.8 L1282.5,1791.8 L1283.0,1791.8 L1283.5,1791.8 L1284.0,1791.8 L1284.5,1791.8 L1285.0,1791.8 L1285.5,1791.8 L1286.0,1791.8 L1286.5,1791.8 L1287.0,1793.4 L1287.5,1797.7 L1288.0,1802.1 L1288.5,1806.1 L1289.0,1809.3 L1289.5,1810.9 L1290.0,1812.7 L1290.5,1813.2 L1291.0,1813.6 L1291.5,1814.8 L1292.0,1814.8 L1292.5,1814.8 L1293.0,1815.7 L1293.5,1817.2 L1294.0,1818.5 L1294.5,1819.7 L1295.0,1820.3 L1295.5,1822.5 L1296.0,1822.5 L1296.5,1822.5 L1297.0,1822.5 L1297.5,1822.5 L1298.0,1822.6 L1298.5,1823.0 L1298.5,1841.0 L1298.0,1841.0 L1297.5,1841.0 L1297.0,1841.0 L1296.5,1841.0 L1296.0,1841.0 L1295.5,1841.0 L1295.0,1841.0 L1294.5,1841.0 L1294.0,1841.0 L1293.5,1841.0 L1293.0,1841.0 L1292.5,1840.9 L1292.0,1837.6 L1291.5,1837.6 L1291.0,1837.6 L1290.5,1837.6 L1290.0,1837.6 L1289.5,1837.6 L1289.0,1837.6 L1288.5,1837.6 L1288.0,1837.6 L1287.5,1837.6 L1287.0,1837.4 L1286.5,1836.8 L1286.0,1836.2 L1285.5,1835.5 L1285.0,1827.7 L1284.5,1826.1 L1284.0,1824.9 L1283.5,1823.5 L1283.0,1823.0 L1282.5,1823.0 L1282.0,1823.0 L1281.5,1823.0 L1281.0,1827.8 L1280.5,1827.9 L1280.0,1827.9 L1279.5,1827.9 L1279.0,1827.9 L1278.5,1827.9 L1278.0,1827.9 L1277.5,1827.9 L1277.0,1827.9 L1276.5,1827.9 L1276.0,1827.9 L1275.5,1827.9 L1275.0,1827.5 L1274.5,1827.0 L1274.0,1826.7 L1273.5,1814.9 L1273.0,1814.9 L1272.5,1814.9 L1272.0,1814.9 L1271.5,1814.9 L1271.0,1814.9 L1270.5,1814.9 L1270.0,1814.9 L1269.5,1814.9 L1269.0,1814.9 L1268.5,1812.5 L1268.0,1805.6 L1267.5,1798.8 L1267.0,1797.4 L1266.5,1781.2 L1266.0,1776.8 L1265.5,1763.9 L1265.0,1751.0 L1264.5,1738.2 L1264.0,1727.0 L1263.5,1723.0 L1263.0,1708.6 L1262.5,1694.2 L1262.0,1713.1 L1261.5,1737.5 L1261.0,1758.4 L1260.5,1779.2 L1260.0,1802.4 L1259.5,1827.6 L1259.0,1837.6 L1258.5,1840.2 L1258.0,1841.0 L1257.5,1841.9 L1257.0,1842.8 L1256.5,1843.7 L1256.0,1845.0 L1255.5,1845.5 L1255.0,1845.5 L1254.5,1845.5 L1254.0,1845.5 L1253.5,1845.5 L1253.0,1845.5 L1252.5,1845.5 L1252.0,1845.5 L1251.5,1845.5 L1251.0,1845.5 L1250.5,1845.5 L1250.0,1845.5 L1249.5,1844.4 L1249.0,1844.4 L1248.5,1844.4 L1248.0,1844.4 L1247.5,1844.4 L1247.0,1844.4 L1246.5,1844.4 L1246.0,1844.4 L1245.5,1844.4 L1245.0,1844.4 L1244.5,1843.8 L1244.0,1843.1 L1243.5,1842.6 L1243.0,1842.6 L1242.5,1843.4 L1242.0,1843.4 L1241.5,1843.4 L1241.0,1843.4 L1240.5,1843.4 L1240.0,1843.4 L1239.5,1843.4 L1239.0,1843.4 L1238.5,1843.4 L1238.0,1843.4 L1237.5,1843.4 L1237.0,1843.2 L1236.5,1843.0 L1236.0,1842.6 L1235.5,1842.1 L1235.0,1842.0 L1234.5,1842.0 L1234.0,1842.0 L1233.5,1842.0 L1233.0,1842.0 L1232.5,1842.0 L1232.0,1841.9 L1231.5,1841.6 L1231.0,1841.3 L1230.5,1841.2 L1230.0,1836.7 L1229.5,1836.7 L1229.0,1836.7 L1228.5,1836.7 L1228.0,1836.7 L1227.5,1836.7 L1227.0,1836.4 L1226.5,1836.1 L1226.0,1837.3 L1225.5,1837.4 L1225.0,1837.5 L1224.5,1837.5 L1224.0,1838.6 L1223.5,1838.6 L1223.0,1838.6 L1222.5,1838.6 L1222.0,1838.6 L1221.5,1838.6 L1221.0,1838.6 L1220.5,1839.3 L1220.0,1839.3 L1219.5,1839.3 L1219.0,1839.3 L1218.5,1839.3 L1218.0,1839.3 L1217.5,1839.3 L1217.0,1839.3 L1216.5,1839.3 L1216.0,1839.3 L1215.5,1839.3 L1215.0,1839.3 L1214.5,1838.7 L1214.0,1837.8 L1213.5,1828.0 L1213.0,1827.8 L1212.5,1827.8 L1212.0,1827.8 L1211.5,1827.8 L1211.0,1827.8 L1210.5,1827.8 L1210.0,1827.2 L1209.5,1818.0 L1209.0,1817.0 L1208.5,1816.7 L1208.0,1816.7 L1207.5,1816.7 L1207.0,1816.7 L1206.5,1816.7 L1206.0,1816.7 L1205.5,1816.7 L1205.0,1816.7 L1204.5,1816.3 L1204.0,1812.7 L1203.5,1805.0 L1203.0,1809.4 L1202.5,1812.6 L1202.0,1815.3 L1201.5,1816.5 L1201.0,1816.5 L1200.5,1816.5 L1200.0,1816.5 L1199.5,1816.5 L1199.0,1816.5 L1198.5,1816.5 L1198.0,1816.5 L1197.5,1816.5 L1197.0,1816.5 L1196.5,1816.5 L1196.0,1815.7 L1195.5,1814.9 L1195.0,1812.5 L1194.5,1810.1 L1194.0,1807.7 L1193.5,1804.9 L1193.0,1797.3 L1192.5,1794.4 L1192.0,1791.2 L1191.5,1786.8 L1191.0,1780.9 L1190.5,1778.5 L1190.0,1775.6 L1189.5,1770.4 L1189.0,1758.4 L1188.5,1742.1 L1188.0,1742.4 L1187.5,1742.7 L1187.0,1749.4 L1186.5,1765.1 L1186.0,1781.2 L1185.5,1803.2 L1185.0,1829.3 L1184.5,1840.1 L1184.0,1841.6 L1183.5,1841.6 L1183.0,1841.6 L1182.5,1841.6 L1182.0,1841.6 L1181.5,1841.6 L1181.0,1841.6 L1180.5,1841.6 L1180.0,1841.6 L1179.5,1841.6 L1179.0,1841.6 L1178.5,1841.6 L1178.0,1841.9 L1177.5,1841.9 L1177.0,1841.9 L1176.5,1841.9 L1176.0,1841.9 L1175.5,1841.9 L1175.0,1841.9 L1174.5,1841.9 L1174.0,1841.9 L1173.5,1841.9 L1173.0,1841.9 L1172.5,1841.9 L1172.0,1841.8 L1171.5,1841.7 L1171.0,1841.6 L1170.5,1841.6 L1170.0,1837.1 L1169.5,1837.1 L1169.0,1837.1 L1168.5,1841.8 L1168.0,1841.8 L1167.5,1841.8 L1167.0,1841.8 L1166.5,1841.8 L1166.0,1841.8 L1165.5,1841.8 L1165.0,1841.8 L1164.5,1841.8 L1164.0,1841.8 L1163.5,1841.8 L1163.0,1841.8 L1162.5,1841.8 L1162.0,1841.7 L1161.5,1841.7 L1161.0,1836.8 L1160.5,1836.8 L1160.0,1836.7 L1159.5,1836.6 L1159.0,1836.5 L1158.5,1836.1 L1158.0,1836.1 L1157.5,1836.1 L1157.0,1836.1 L1156.5,1836.1 L1156.0,1835.8 L1155.5,1835.7 L1155.0,1835.5 L1154.5,1835.4 L1154.0,1833.5 L1153.5,1833.6 L1153.0,1833.8 L1152.5,1834.5 L1152.0,1834.6 L1151.5,1834.7 L1151.0,1834.9 L1150.5,1835.0 L1150.0,1841.2 L1149.5,1841.3 L1149.0,1841.3 L1148.5,1841.4 L1148.0,1841.4 L1147.5,1841.4 L1147.0,1841.4 L1146.5,1841.4 L1146.0,1841.4 L1145.5,1841.4 L1145.0,1841.4 L1144.5,1841.4 L1144.0,1841.4 L1143.5,1841.4 L1143.0,1841.4 L1142.5,1838.4 L1142.0,1838.4 L1141.5,1838.4 L1141.0,1838.4 L1140.5,1838.4 L1140.0,1838.4 L1139.5,1838.4 L1139.0,1838.4 L1138.5,1840.3 L1138.0,1840.3 L1137.5,1840.3 L1137.0,1840.3 L1136.5,1840.3 L1136.0,1840.3 L1135.5,1840.3 L1135.0,1840.3 L1134.5,1840.3 L1134.0,1840.3 L1133.5,1840.3 L1133.0,1840.1 L1132.5,1839.9 L1132.0,1839.7 L1131.5,1839.6 L1131.0,1831.1 L1130.5,1830.7 L1130.0,1830.7 L1129.5,1839.0 L1129.0,1839.3 L1128.5,1839.4 L1128.0,1839.7 L1127.5,1839.9 L1127.0,1839.9 L1126.5,1839.9 L1126.0,1839.9 L1125.5,1839.9 L1125.0,1839.9 L1124.5,1839.9 L1124.0,1839.9 L1123.5,1839.9 L1123.0,1839.9 L1122.5,1839.9 L1122.0,1839.9 L1121.5,1836.1 L1121.0,1836.1 L1120.5,1836.1 L1120.0,1836.1 L1119.5,1836.1 L1119.0,1836.1 L1118.5,1836.1 L1118.0,1836.0 L1117.5,1835.9 L1117.0,1833.1 L1116.5,1833.1 L1116.0,1833.1 L1115.5,1833.1 L1115.0,1833.1 L1114.5,1833.1 L1114.0,1833.1 L1113.5,1833.1 L1113.0,1833.1 L1112.5,1832.9 L1112.0,1832.6 L1111.5,1832.2 L1111.0,1831.6 L1110.5,1831.3 L1110.0,1831.3 L1109.5,1831.3 L1109.0,1831.3 L1108.5,1831.3 L1108.0,1831.3 L1107.5,1831.3 L1107.0,1831.3 L1106.5,1831.3 L1106.0,1831.3 L1105.5,1830.5 L1105.0,1830.5 L1104.5,1830.5 L1104.0,1830.5 L1103.5,1830.5 L1103.0,1830.1 L1102.5,1829.7 L1102.0,1829.7 L1101.5,1829.7 L1101.0,1829.7 L1100.5,1829.7 L1100.0,1829.7 L1099.5,1829.7 L1099.0,1829.7 L1098.5,1829.4 L1098.0,1829.1 L1097.5,1828.4 L1097.0,1827.4 L1096.5,1824.3 L1096.0,1823.2 L1095.5,1823.2 L1095.0,1823.2 L1094.5,1823.2 L1094.0,1818.6 L1093.5,1817.7 L1093.0,1817.2 L1092.5,1816.7 L1092.0,1816.3 L1091.5,1815.8 L1091.0,1815.8 L1090.5,1815.8 L1090.0,1815.8 L1089.5,1815.8 L1089.0,1815.8 L1088.5,1815.8 L1088.0,1815.8 L1087.5,1815.8 L1087.0,1815.1 L1086.5,1813.9 L1086.0,1812.4 L1085.5,1811.3 L1085.0,1798.9 L1084.5,1796.1 L1084.0,1790.5 L1083.5,1795.8 L1083.0,1797.4 L1082.5,1798.1 L1082.0,1798.1 L1081.5,1798.1 L1081.0,1798.1 L1080.5,1798.1 L1080.0,1798.1 L1079.5,1798.1 L1079.0,1798.1 L1078.5,1798.1 L1078.0,1798.1 L1077.5,1798.1 L1077.0,1796.1 L1076.5,1780.9 L1076.0,1779.3 L1075.5,1773.6 L1075.0,1769.6 L1074.5,1760.8 L1074.0,1737.0 L1073.5,1717.4 L1073.0,1750.5 L1072.5,1750.5 L1072.0,1750.5 L1071.5,1750.5 L1071.0,1750.5 L1070.5,1750.7 L1070.0,1751.0 L1069.5,1751.1 L1069.0,1751.3 L1068.5,1751.5 L1068.0,1756.5 L1067.5,1769.4 L1067.0,1782.4 L1066.5,1802.4 L1066.0,1827.2 L1065.5,1837.6 L1065.0,1837.6 L1064.5,1840.7 L1064.0,1840.7 L1063.5,1840.7 L1063.0,1840.7 L1062.5,1840.7 L1062.0,1840.7 L1061.5,1840.7 L1061.0,1840.7 L1060.5,1843.0 L1060.0,1843.0 L1059.5,1843.0 L1059.0,1843.0 L1058.5,1843.0 L1058.0,1843.0 L1057.5,1843.0 L1057.0,1843.0 L1056.5,1843.0 L1056.0,1843.0 L1055.5,1843.0 L1055.0,1843.0 L1054.5,1843.0 L1054.0,1843.0 L1053.5,1843.0 L1053.0,1843.0 L1052.5,1843.0 L1052.0,1843.0 L1051.5,1843.0 L1051.0,1843.0 L1050.5,1843.0 L1050.0,1843.0 L1049.5,1843.0 L1049.0,1843.0 L1048.5,1843.0 L1048.0,1843.0 L1047.5,1842.9 L1047.0,1842.9 L1046.5,1842.9 L1046.0,1841.7 L1045.5,1841.7 L1045.0,1841.7 L1044.5,1841.7 L1044.0,1841.7 L1043.5,1841.7 L1043.0,1841.7 L1042.5,1841.7 L1042.0,1841.7 L1041.5,1841.7 L1041.0,1841.5 L1040.5,1841.4 L1040.0,1841.3 L1039.5,1841.0 L1039.0,1836.8 L1038.5,1836.5 L1038.0,1836.4 L1037.5,1836.1 L1037.0,1836.0 L1036.5,1835.4 L1036.0,1835.3 L1035.5,1835.4 L1035.0,1835.4 L1034.5,1835.4 L1034.0,1835.4 L1033.5,1835.4 L1033.0,1835.4 L1032.5,1835.4 L1032.0,1835.4 L1031.5,1835.4 L1031.0,1835.4 L1030.5,1835.4 L1030.0,1834.5 L1029.5,1834.5 L1029.0,1834.5 L1028.5,1836.4 L1028.0,1836.4 L1027.5,1836.4 L1027.0,1836.4 L1026.5,1836.4 L1026.0,1836.4 L1025.5,1836.4 L1025.0,1836.4 L1024.5,1836.4 L1024.0,1836.4 L1023.5,1836.4 L1023.0,1836.4 L1022.5,1836.2 L1022.0,1836.0 L1021.5,1836.0 L1021.0,1836.0 L1020.5,1836.0 L1020.0,1835.4 L1019.5,1835.2 L1019.0,1834.8 L1018.5,1834.3 L1018.0,1832.0 L1017.5,1831.2 L1017.0,1830.4 L1016.5,1829.4 L1016.0,1823.9 L1015.5,1823.9 L1015.0,1823.2 L1014.5,1822.1 L1014.0,1820.6 L1013.5,1819.0 L1013.0,1817.1 L1012.5,1815.6 L1012.0,1814.0 L1011.5,1812.9 L1011.0,1807.7 L1010.5,1802.0 L1010.0,1796.4 L1009.5,1794.4 L1009.0,1794.4 L1008.5,1794.4 L1008.0,1794.4 L1007.5,1794.4 L1007.0,1793.2 L1006.5,1787.6 L1006.0,1784.7 L1005.5,1780.9 L1005.0,1780.9 L1004.5,1780.9 L1004.0,1780.9 L1003.5,1780.9 L1003.0,1780.9 L1002.5,1780.9 L1002.0,1777.7 L1001.5,1767.6 L1001.0,1733.0 L1000.5,1731.0 L1000.0,1729.9 L999.5,1729.3 L999.0,1729.0 L998.5,1729.0 L998.0,1729.0 L997.5,1729.0 L997.0,1728.6 L996.5,1728.0 L996.0,1727.7 L995.5,1714.9 L995.0,1745.4 L994.5,1785.5 L994.0,1824.4 L993.5,1840.1 L993.0,1843.1 L992.5,1843.1 L992.0,1843.1 L991.5,1843.1 L991.0,1843.1 L990.5,1843.1 L990.0,1843.1 L989.5,1843.1 L989.0,1843.1 L988.5,1843.1 L988.0,1843.1 L987.5,1843.1 L987.0,1842.5 L986.5,1842.0 L986.0,1839.9 L985.5,1839.6 L985.0,1839.4 L984.5,1839.3 L984.0,1837.9 L983.5,1837.8 L983.0,1837.8 L982.5,1837.4 L982.0,1837.4 L981.5,1837.4 L981.0,1837.1 L980.5,1837.0 L980.0,1836.7 L979.5,1836.6 L979.0,1835.4 L978.5,1835.4 L978.0,1835.4 L977.5,1838.3 L977.0,1838.3 L976.5,1838.3 L976.0,1838.3 L975.5,1840.0 L975.0,1840.0 L974.5,1840.0 L974.0,1840.0 L973.5,1840.0 L973.0,1840.0 L972.5,1840.0 L972.0,1840.0 L971.5,1840.0 L971.0,1840.0 L970.5,1840.0 L970.0,1839.9 L969.5,1839.8 L969.0,1839.8 L968.5,1839.6 L968.0,1839.6 L967.5,1837.0 L967.0,1838.7 L966.5,1839.0 L966.0,1839.0 L965.5,1839.0 L965.0,1839.0 L964.5,1839.0 L964.0,1839.0 L963.5,1839.0 L963.0,1839.0 L962.5,1839.0 L962.0,1839.0 L961.5,1839.0 L961.0,1839.0 L960.5,1835.9 L960.0,1835.1 L959.5,1834.0 L959.0,1832.9 L958.5,1828.7 L958.0,1824.7 L957.5,1822.7 L957.0,1822.7 L956.5,1822.7 L956.0,1822.7 L955.5,1822.7 L955.0,1822.7 L954.5,1823.5 L954.0,1825.9 L953.5,1828.3 L953.0,1830.2 L952.5,1830.7 L952.0,1830.7 L951.5,1830.7 L951.0,1830.7 L950.5,1830.7 L950.0,1830.7 L949.5,1830.7 L949.0,1830.7 L948.5,1830.7 L948.0,1830.7 L947.5,1830.7 L947.0,1827.4 L946.5,1823.4 L946.0,1819.0 L945.5,1814.6 L945.0,1814.6 L944.5,1812.2 L944.0,1806.9 L943.5,1802.1 L943.0,1797.2 L942.5,1780.9 L942.0,1780.9 L941.5,1780.5 L941.0,1778.9 L940.5,1770.8 L940.0,1761.2 L939.5,1751.9 L939.0,1742.6 L938.5,1739.8 L938.0,1739.8 L937.5,1714.1 L937.0,1711.0 L936.5,1741.9 L936.0,1774.4 L935.5,1821.8 L935.0,1845.1 L934.5,1845.2 L934.0,1845.2 L933.5,1845.2 L933.0,1845.2 L932.5,1845.2 L932.0,1845.2 L931.5,1845.2 L931.0,1845.2 L930.5,1845.2 L930.0,1845.2 L929.5,1845.2 L929.0,1845.1 L928.5,1840.2 L928.0,1840.2 L927.5,1840.2 L927.0,1840.2 L926.5,1840.2 L926.0,1840.2 L925.5,1840.2 L925.0,1840.2 L924.5,1839.3 L924.0,1838.8 L923.5,1838.0 L923.0,1837.2 L922.5,1837.0 L922.0,1836.9 L921.5,1833.1 L921.0,1832.8 L920.5,1832.6 L920.0,1832.3 L919.5,1829.2 L919.0,1829.2 L918.5,1829.2 L918.0,1829.2 L917.5,1829.2 L917.0,1829.2 L916.5,1829.2 L916.0,1829.2 L915.5,1829.2 L915.0,1829.2 L914.5,1829.0 L914.0,1828.8 L913.5,1828.5 L913.0,1828.4 L912.5,1825.0 L912.0,1824.8 L911.5,1824.3 L911.0,1823.7 L910.5,1823.5 L910.0,1823.2 L909.5,1822.4 L909.0,1826.8 L908.5,1826.8 L908.0,1826.8 L907.5,1826.8 L907.0,1826.8 L906.5,1826.8 L906.0,1826.8 L905.5,1826.8 L905.0,1826.8 L904.5,1826.8 L904.0,1826.8 L903.5,1826.8 L903.0,1826.5 L902.5,1826.0 L902.0,1825.7 L901.5,1825.1 L901.0,1818.3 L900.5,1818.3 L900.0,1818.3 L899.5,1818.3 L899.0,1818.1 L898.5,1816.9 L898.0,1816.6 L897.5,1816.4 L897.0,1814.6 L896.5,1810.5 L896.0,1821.4 L895.5,1821.4 L895.0,1821.4 L894.5,1821.4 L894.0,1821.4 L893.5,1821.4 L893.0,1821.4 L892.5,1821.4 L892.0,1821.4 L891.5,1821.4 L891.0,1821.4 L890.5,1820.2 L890.0,1819.0 L889.5,1807.5 L889.0,1806.0 L888.5,1810.3 L888.0,1812.6 L887.5,1813.4 L887.0,1813.4 L886.5,1813.4 L886.0,1813.4 L885.5,1813.4 L885.0,1813.4 L884.5,1813.4 L884.0,1813.4 L883.5,1813.4 L883.0,1813.4 L882.5,1813.4 L882.0,1812.6 L881.5,1809.7 L881.0,1807.3 L880.5,1804.9 L880.0,1802.8 L879.5,1800.0 L879.0,1795.6 L878.5,1792.0 L878.0,1788.5 L877.5,1780.9 L877.0,1780.1 L876.5,1774.1 L876.0,1764.8 L875.5,1755.5 L875.0,1751.1 L874.5,1751.1 L874.0,1742.6 L873.5,1747.6 L873.0,1764.0 L872.5,1780.8 L872.0,1803.2 L871.5,1829.3 L871.0,1840.1 L870.5,1840.8 L870.0,1840.8 L869.5,1842.7 L869.0,1842.7 L868.5,1842.7 L868.0,1842.7 L867.5,1842.7 L867.0,1842.7 L866.5,1842.7 L866.0,1842.7 L865.5,1842.7 L865.0,1842.7 L864.5,1842.7 L864.0,1842.6 L863.5,1842.5 L863.0,1842.2 L862.5,1842.0 L862.0,1841.9 L861.5,1841.9 L861.0,1841.9 L860.5,1841.9 L860.0,1841.9 L859.5,1841.9 L859.0,1841.9 L858.5,1841.9 L858.0,1841.9 L857.5,1841.9 L857.0,1841.8 L856.5,1841.8 L856.0,1841.8 L855.5,1841.8 L855.0,1838.5 L854.5,1838.5 L854.0,1838.5 L853.5,1838.5 L853.0,1838.5 L852.5,1838.5 L852.0,1838.5 L851.5,1838.5 L851.0,1838.4 L850.5,1836.7 L850.0,1836.7 L849.5,1836.7 L849.0,1836.7 L848.5,1836.7 L848.0,1836.7 L847.5,1836.7 L847.0,1836.7 L846.5,1840.5 L846.0,1840.5 L845.5,1840.5 L845.0,1840.5 L844.5,1840.5 L844.0,1840.5 L843.5,1840.5 L843.0,1840.5 L842.5,1840.5 L842.0,1840.5 L841.5,1840.5 L841.0,1840.5 L840.5,1840.5 L840.0,1840.4 L839.5,1840.2 L839.0,1840.2 L838.5,1837.8 L838.0,1837.8 L837.5,1837.8 L837.0,1837.8 L836.5,1837.8 L836.0,1837.7 L835.5,1837.6 L835.0,1837.4 L834.5,1835.8 L834.0,1835.7 L833.5,1835.4 L833.0,1835.3 L832.5,1840.9 L832.0,1840.9 L831.5,1841.0 L831.0,1841.0 L830.5,1841.0 L830.0,1841.0 L829.5,1841.0 L829.0,1841.0 L828.5,1841.0 L828.0,1841.0 L827.5,1841.0 L827.0,1841.0 L826.5,1841.0 L826.0,1841.0 L825.5,1841.0 L825.0,1837.1 L824.5,1837.1 L824.0,1837.1 L823.5,1837.1 L823.0,1837.1 L822.5,1836.5 L822.0,1836.5 L821.5,1836.5 L821.0,1836.5 L820.5,1836.5 L820.0,1836.5 L819.5,1836.5 L819.0,1836.5 L818.5,1836.5 L818.0,1836.3 L817.5,1836.0 L817.0,1835.5 L816.5,1834.9 L816.0,1834.2 L815.5,1829.3 L815.0,1828.4 L814.5,1830.1 L814.0,1830.1 L813.5,1830.1 L813.0,1830.1 L812.5,1830.1 L812.0,1830.1 L811.5,1830.1 L811.0,1830.1 L810.5,1830.1 L810.0,1830.1 L809.5,1830.1 L809.0,1830.1 L808.5,1829.5 L808.0,1829.3 L807.5,1829.3 L807.0,1829.3 L806.5,1829.3 L806.0,1829.3 L805.5,1829.3 L805.0,1829.3 L804.5,1829.3 L804.0,1828.0 L803.5,1824.8 L803.0,1822.0 L802.5,1818.8 L802.0,1800.3 L801.5,1790.6 L801.0,1780.9 L800.5,1780.9 L800.0,1780.9 L799.5,1776.9 L799.0,1767.6 L798.5,1740.8 L798.0,1747.2 L797.5,1764.0 L797.0,1780.8 L796.5,1803.2 L796.0,1829.3 L795.5,1840.1 L795.0,1840.1 L794.5,1841.3 L794.0,1841.3 L793.5,1843.0 L793.0,1843.0 L792.5,1843.0 L792.0,1843.0 L791.5,1843.5 L791.0,1843.5 L790.5,1843.6 L790.0,1843.6 L789.5,1843.6 L789.0,1843.6 L788.5,1843.6 L788.0,1843.6 L787.5,1843.6 L787.0,1843.6 L786.5,1843.6 L786.0,1843.6 L785.5,1843.6 L785.0,1843.5 L784.5,1843.5 L784.0,1843.5 L783.5,1840.7 L783.0,1840.7 L782.5,1841.8 L782.0,1841.8 L781.5,1841.9 L781.0,1841.9 L780.5,1842.0 L780.0,1842.0 L779.5,1842.0 L779.0,1842.0 L778.5,1842.0 L778.0,1842.0 L777.5,1842.0 L777.0,1842.0 L776.5,1842.0 L776.0,1842.0 L775.5,1842.0 L775.0,1842.0 L774.5,1841.3 L774.0,1841.3 L773.5,1841.3 L773.0,1841.3 L772.5,1841.3 L772.0,1841.3 L771.5,1841.3 L771.0,1841.3 L770.5,1841.3 L770.0,1841.3 L769.5,1840.6 L769.0,1840.5 L768.5,1840.5 L768.0,1840.4 L767.5,1840.4 L767.0,1840.4 L766.5,1840.4 L766.0,1840.4 L765.5,1840.4 L765.0,1840.3 L764.5,1840.2 L764.0,1840.5 L763.5,1840.5 L763.0,1840.5 L762.5,1840.5 L762.0,1840.5 L761.5,1840.5 L761.0,1840.5 L760.5,1840.5 L760.0,1840.5 L759.5,1840.5 L759.0,1840.5 L758.5,1840.5 L758.0,1840.4 L757.5,1840.4 L757.0,1840.4 L756.5,1840.4 L756.0,1840.1 L755.5,1840.1 L755.0,1840.0 L754.5,1840.0 L754.0,1840.0 L753.5,1839.9 L753.0,1839.9 L752.5,1840.8 L752.0,1840.8 L751.5,1840.8 L751.0,1840.8 L750.5,1840.8 L750.0,1840.8 L749.5,1840.8 L749.0,1840.8 L748.5,1840.8 L748.0,1840.8 L747.5,1840.8 L747.0,1840.8 L746.5,1840.7 L746.0,1840.7 L745.5,1840.7 L745.0,1840.7 L744.5,1840.6 L744.0,1840.4 L743.5,1840.2 L743.0,1840.3 L742.5,1840.3 L742.0,1840.3 L741.5,1840.3 L741.0,1840.3 L740.5,1840.3 L740.0,1840.3 L739.5,1840.3 L739.0,1840.3 L738.5,1840.3 L738.0,1840.3 L737.5,1840.1 L737.0,1839.9 L736.5,1839.8 L736.0,1839.7 L735.5,1839.6 L735.0,1836.6 L734.5,1836.8 L734.0,1836.8 L733.5,1836.8 L733.0,1836.8 L732.5,1836.8 L732.0,1836.8 L731.5,1836.8 L731.0,1836.8 L730.5,1836.8 L730.0,1836.8 L729.5,1836.8 L729.0,1836.8 L728.5,1836.7 L728.0,1836.7 L727.5,1836.7 L727.0,1836.7 L726.5,1836.7 L726.0,1836.7 L725.5,1836.7 L725.0,1836.7 L724.5,1836.7 L724.0,1836.7 L723.5,1836.6 L723.0,1836.5 L722.5,1836.3 L722.0,1836.3 L721.5,1831.0 L721.0,1831.1 L720.5,1831.2 L720.0,1834.9 L719.5,1835.0 L719.0,1835.0 L718.5,1835.0 L718.0,1835.0 L717.5,1835.0 L717.0,1835.4 L716.5,1835.4 L716.0,1835.4 L715.5,1835.4 L715.0,1835.4 L714.5,1835.4 L714.0,1835.4 L713.5,1835.4 L713.0,1835.4 L712.5,1835.4 L712.0,1835.4 L711.5,1835.2 L711.0,1835.1 L710.5,1835.1 L710.0,1835.1 L709.5,1835.1 L709.0,1835.1 L708.5,1835.1 L708.0,1835.1 L707.5,1835.1 L707.0,1834.4 L706.5,1833.9 L706.0,1833.5 L705.5,1824.4 L705.0,1824.4 L704.5,1824.4 L704.0,1824.4 L703.5,1824.4 L703.0,1824.4 L702.5,1824.4 L702.0,1824.4 L701.5,1824.4 L701.0,1824.4 L700.5,1823.6 L700.0,1822.2 L699.5,1821.1 L699.0,1819.7 L698.5,1811.3 L698.0,1809.7 L697.5,1808.6 L697.0,1807.0 L696.5,1805.8 L696.0,1805.8 L695.5,1805.8 L695.0,1805.8 L694.5,1805.8 L694.0,1805.8 L693.5,1803.8 L693.0,1801.8 L692.5,1799.9 L692.0,1797.9 L691.5,1789.6 L691.0,1780.8 L690.5,1780.8 L690.0,1780.8 L689.5,1780.8 L689.0,1780.8 L688.5,1780.8 L688.0,1778.9 L687.5,1775.7 L687.0,1768.4 L686.5,1717.3 L686.0,1706.2 L685.5,1706.2 L685.0,1705.9 L684.5,1705.4 L684.0,1705.1 L683.5,1704.6 L683.0,1729.7 L682.5,1735.4 L682.0,1738.6 L681.5,1740.2 L681.0,1740.2 L680.5,1749.6 L680.0,1769.2 L679.5,1791.2 L679.0,1829.4 L678.5,1845.1 L678.0,1845.1 L677.5,1845.1 L677.0,1845.1 L676.5,1845.1 L676.0,1845.1 L675.5,1845.1 L675.0,1845.1 L674.5,1845.1 L674.0,1845.1 L673.5,1845.1 L673.0,1845.1 L672.5,1845.1 L672.0,1843.0 L671.5,1841.5 L671.0,1841.3 L670.5,1841.3 L670.0,1841.3 L669.5,1841.3 L669.0,1841.3 L668.5,1841.3 L668.0,1840.1 L667.5,1839.5 L667.0,1839.1 L666.5,1839.1 L666.0,1839.0 L665.5,1838.8 L665.0,1838.6 L664.5,1838.5 L664.0,1837.4 L663.5,1837.3 L663.0,1837.3 L662.5,1837.3 L662.0,1837.3 L661.5,1837.2 L661.0,1837.2 L660.5,1837.1 L660.0,1838.7 L659.5,1838.7 L659.0,1838.7 L658.5,1838.7 L658.0,1838.7 L657.5,1838.7 L657.0,1838.7 L656.5,1838.7 L656.0,1838.7 L655.5,1838.7 L655.0,1838.7 L654.5,1838.7 L654.0,1838.6 L653.5,1838.6 L653.0,1838.4 L652.5,1838.0 L652.0,1838.0 L651.5,1838.0 L651.0,1838.0 L650.5,1838.0 L650.0,1838.0 L649.5,1838.0 L649.0,1838.0 L648.5,1838.0 L648.0,1838.0 L647.5,1837.7 L647.0,1837.5 L646.5,1837.1 L646.0,1837.0 L645.5,1832.5 L645.0,1832.3 L644.5,1832.0 L644.0,1831.9 L643.5,1831.9 L643.0,1831.8 L642.5,1831.5 L642.0,1831.3 L641.5,1831.0 L641.0,1829.0 L640.5,1828.6 L640.0,1827.7 L639.5,1827.2 L639.0,1822.5 L638.5,1821.7 L638.0,1821.7 L637.5,1821.7 L637.0,1821.7 L636.5,1821.7 L636.0,1821.7 L635.5,1821.7 L635.0,1821.7 L634.5,1821.7 L634.0,1821.9 L633.5,1822.5 L633.0,1824.1 L632.5,1824.1 L632.0,1824.1 L631.5,1824.1 L631.0,1824.1 L630.5,1824.1 L630.0,1824.1 L629.5,1824.1 L629.0,1824.1 L628.5,1824.1 L628.0,1824.1 L627.5,1824.1 L627.0,1823.7 L626.5,1823.7 L626.0,1823.6 L625.5,1823.6 L625.0,1822.6 L624.5,1822.6 L624.0,1822.6 L623.5,1822.6 L623.0,1822.6 L622.5,1822.6 L622.0,1822.6 L621.5,1822.6 L621.0,1822.6 L620.5,1822.6 L620.0,1821.7 L619.5,1820.6 L619.0,1819.9 L618.5,1818.8 L618.0,1814.0 L617.5,1813.1 L617.0,1812.9 L616.5,1812.9 L616.0,1812.9 L615.5,1812.9 L615.0,1812.9 L614.5,1812.9 L614.0,1812.9 L613.5,1812.9 L613.0,1811.7 L612.5,1810.6 L612.0,1809.5 L611.5,1808.4 L611.0,1801.5 L610.5,1800.4 L610.0,1797.6 L609.5,1791.2 L609.0,1781.1 L608.5,1779.5 L608.0,1779.5 L607.5,1779.5 L607.0,1779.5 L606.5,1774.3 L606.0,1772.1 L605.5,1771.8 L605.0,1771.1 L604.5,1756.5 L604.0,1742.8 L603.5,1734.4 L603.0,1734.4 L602.5,1733.3 L602.0,1732.1 L601.5,1730.6 L601.0,1721.4 L600.5,1723.0 L600.0,1723.3 L599.5,1724.0 L599.0,1724.3 L598.5,1724.6 L598.0,1724.6 L597.5,1724.6 L597.0,1724.6 L596.5,1725.2 L596.0,1741.9 L595.5,1774.4 L595.0,1793.6 L594.5,1804.4 L594.0,1814.9 L593.5,1825.7 L593.0,1830.1 L592.5,1830.1 L592.0,1832.5 L591.5,1835.2 L591.0,1835.2 L590.5,1835.2 L590.0,1835.2 L589.5,1835.2 L589.0,1835.2 L588.5,1835.2 L588.0,1835.2 L587.5,1835.2 L587.0,1835.2 L586.5,1835.2 L586.0,1835.2 L585.5,1835.1 L585.0,1834.9 L584.5,1834.9 L584.0,1834.9 L583.5,1834.9 L583.0,1834.9 L582.5,1834.9 L582.0,1834.9 L581.5,1834.9 L581.0,1834.6 L580.5,1834.0 L580.0,1833.7 L579.5,1833.1 L579.0,1831.3 L578.5,1831.1 L578.0,1830.9 L577.5,1830.6 L577.0,1830.4 L576.5,1830.1 L576.0,1829.8 L575.5,1829.6 L575.0,1829.0 L574.5,1828.4 L574.0,1827.8 L573.5,1827.4 L573.0,1827.0 L572.5,1826.9 L572.0,1826.9 L571.5,1826.9 L571.0,1826.9 L570.5,1826.9 L570.0,1826.9 L569.5,1826.9 L569.0,1826.9 L568.5,1826.9 L568.0,1826.9 L567.5,1826.9 L567.0,1826.6 L566.5,1826.3 L566.0,1826.0 L565.5,1825.8 L565.0,1816.3 L564.5,1816.3 L564.0,1816.3 L563.5,1816.3 L563.0,1816.3 L562.5,1815.7 L562.0,1815.0 L561.5,1813.0 L561.0,1813.0 L560.5,1810.4 L560.0,1810.4 L559.5,1810.4 L559.0,1809.6 L558.5,1807.6 L558.0,1805.3 L557.5,1803.3 L557.0,1801.3 L556.5,1798.6 L556.0,1798.2 L555.5,1795.8 L555.0,1793.4 L554.5,1789.0 L554.0,1781.2 L553.5,1784.8 L553.0,1795.7 L552.5,1800.1 L552.0,1807.7 L551.5,1807.7 L551.0,1807.7 L550.5,1807.7 L550.0,1807.7 L549.5,1807.7 L549.0,1807.7 L548.5,1807.7 L548.0,1807.7 L547.5,1807.7 L547.0,1807.7 L546.5,1806.1 L546.0,1800.4 L545.5,1794.8 L545.0,1789.2 L544.5,1781.0 L544.0,1781.0 L543.5,1781.0 L543.0,1779.4 L542.5,1779.4 L542.0,1779.4 L541.5,1776.1 L541.0,1772.5 L540.5,1768.8 L540.0,1765.2 L539.5,1754.3 L539.0,1749.1 L538.5,1741.0 L538.0,1727.2 L537.5,1724.9 L537.0,1726.9 L536.5,1727.7 L536.0,1727.7 L535.5,1727.7 L535.0,1739.9 L534.5,1764.8 L534.0,1790.4 L533.5,1818.5 L533.0,1830.1 L532.5,1834.1 L532.0,1834.1 L531.5,1834.8 L531.0,1834.8 L530.5,1834.8 L530.0,1834.8 L529.5,1834.8 L529.0,1837.0 L528.5,1837.0 L528.0,1837.0 L527.5,1837.0 L527.0,1837.0 L526.5,1837.0 L526.0,1837.0 L525.5,1837.0 L525.0,1837.0 L524.5,1837.0 L524.0,1837.0 L523.5,1836.9 L523.0,1836.3 L522.5,1836.0 L522.0,1835.8 L521.5,1834.9 L521.0,1834.8 L520.5,1834.5 L520.0,1834.4 L519.5,1834.2 L519.0,1833.4 L518.5,1833.4 L518.0,1833.4 L517.5,1833.4 L517.0,1833.4 L516.5,1833.2 L516.0,1833.0 L515.5,1832.8 L515.0,1832.6 L514.5,1827.0 L514.0,1827.0 L513.5,1827.0 L513.0,1836.4 L512.5,1836.4 L512.0,1836.4 L511.5,1836.4 L511.0,1836.4 L510.5,1836.4 L510.0,1836.4 L509.5,1836.4 L509.0,1836.4 L508.5,1836.4 L508.0,1836.4 L507.5,1836.3 L507.0,1835.9 L506.5,1835.7 L506.0,1835.7 L505.5,1835.6 L505.0,1830.3 L504.5,1830.3 L504.0,1830.3 L503.5,1830.3 L503.0,1830.2 L502.5,1829.9 L502.0,1829.5 L501.5,1829.2 L501.0,1829.0 L500.5,1825.3 L500.0,1825.3 L499.5,1831.7 L499.0,1832.0 L498.5,1832.1 L498.0,1832.4 L497.5,1832.7 L497.0,1832.7 L496.5,1832.7 L496.0,1832.7 L495.5,1832.7 L495.0,1832.7 L494.5,1832.7 L494.0,1832.7 L493.5,1832.7 L493.0,1832.7 L492.5,1833.9 L492.0,1834.2 L491.5,1834.4 L491.0,1834.8 L490.5,1835.1 L490.0,1837.3 L489.5,1837.6 L489.0,1837.8 L488.5,1838.0 L488.0,1838.0 L487.5,1838.0 L487.0,1838.0 L486.5,1838.0 L486.0,1838.0 L485.5,1838.0 L485.0,1838.0 L484.5,1838.0 L484.0,1838.0 L483.5,1838.0 L483.0,1838.0 L482.5,1834.6 L482.0,1834.6 L481.5,1834.6 L481.0,1834.6 L480.5,1834.6 L480.0,1834.5 L479.5,1834.4 L479.0,1834.1 L478.5,1834.0 L478.0,1833.7 L477.5,1830.1 L477.0,1829.8 L476.5,1831.9 L476.0,1832.0 L475.5,1832.4 L475.0,1832.5 L474.5,1832.6 L474.0,1832.7 L473.5,1832.7 L473.0,1832.7 L472.5,1832.7 L472.0,1832.7 L471.5,1832.7 L471.0,1832.7 L470.5,1832.7 L470.0,1832.7 L469.5,1832.7 L469.0,1832.7 L468.5,1826.2 L468.0,1826.4 L467.5,1826.4 L467.0,1826.4 L466.5,1826.4 L466.0,1826.4 L465.5,1826.4 L465.0,1826.4 L464.5,1826.4 L464.0,1826.4 L463.5,1826.4 L463.0,1826.4 L462.5,1826.4 L462.0,1824.4 L461.5,1818.1 L461.0,1815.2 L460.5,1815.1 L460.0,1815.1 L459.5,1815.1 L459.0,1816.6 L458.5,1818.6 L458.0,1824.6 L457.5,1826.6 L457.0,1827.2 L456.5,1827.2 L456.0,1827.2 L455.5,1827.2 L455.0,1827.2 L454.5,1827.2 L454.0,1827.2 L453.5,1827.2 L453.0,1827.2 L452.5,1827.2 L452.0,1827.2 L451.5,1826.6 L451.0,1823.9 L450.5,1821.5 L450.0,1813.4 L449.5,1805.7 L449.0,1807.9 L448.5,1807.9 L448.0,1807.9 L447.5,1807.9 L447.0,1807.9 L446.5,1807.9 L446.0,1807.9 L445.5,1807.9 L445.0,1807.9 L444.5,1808.4 L444.0,1816.8 L443.5,1825.6 L443.0,1834.0 L442.5,1840.8 L442.0,1846.4 L441.5,1852.1 L441.0,1857.5 L440.5,1857.5 L440.0,1857.5 L439.5,1857.5 L439.0,1857.5 L438.5,1857.5 L438.0,1857.5 L437.5,1857.5 L437.0,1857.5 L436.5,1857.5 L436.0,1857.5 L435.5,1857.5 L435.0,1857.5 L434.5,1857.5Z" fill="#000" fill-opacity="0.28"/>
<path d="M436.5,1851.7 L437.0,1846.1 L437.5,1840.4 L438.0,1834.8 L438.5,1826.8 L439.0,1818.4 L439.5,1809.6 L440.0,1800.0 L440.5,1787.1 L441.0,1774.3 L441.5,1761.4 L442.0,1758.4 L442.5,1758.4 L443.0,1758.4 L443.5,1758.4 L444.0,1758.4 L444.5,1759.1 L445.0,1759.8 L445.5,1760.9 L446.0,1770.9 L446.5,1776.5 L447.0,1776.5 L447.5,1776.5 L448.0,1776.6 L448.5,1776.6 L449.0,1776.6 L449.5,1775.6 L450.0,1766.1 L450.5,1765.3 L451.0,1765.3 L451.5,1765.3 L452.0,1765.3 L452.5,1770.2 L453.0,1777.5 L453.5,1785.1 L454.0,1792.0 L454.5,1800.5 L455.0,1798.5 L455.5,1796.5 L456.0,1794.5 L456.5,1791.3 L457.0,1783.3 L457.5,1777.7 L458.0,1763.9 L458.5,1763.9 L459.0,1763.9 L459.5,1763.9 L460.0,1765.2 L460.5,1766.4 L461.0,1773.3 L461.5,1782.2 L462.0,1791.4 L462.5,1793.2 L463.0,1793.2 L463.5,1793.4 L464.0,1793.8 L464.5,1797.1 L465.0,1798.9 L465.5,1798.9 L466.0,1798.9 L466.5,1799.9 L467.0,1800.9 L467.5,1801.3 L468.0,1807.5 L468.5,1809.2 L469.0,1810.2 L469.5,1811.1 L470.0,1810.8 L470.5,1810.3 L471.0,1806.9 L471.5,1806.4 L472.0,1806.0 L472.5,1805.8 L473.0,1805.7 L473.5,1805.7 L474.0,1805.7 L474.5,1805.7 L475.0,1808.3 L475.5,1799.2 L476.0,1799.2 L476.5,1799.2 L477.0,1799.2 L477.5,1799.7 L478.0,1800.7 L478.5,1801.2 L479.0,1802.2 L479.5,1804.6 L480.0,1805.4 L480.5,1806.1 L481.0,1806.9 L481.5,1807.4 L482.0,1808.5 L482.5,1809.1 L483.0,1809.6 L483.5,1810.4 L484.0,1818.0 L484.5,1810.4 L485.0,1810.1 L485.5,1809.6 L486.0,1808.5 L486.5,1807.3 L487.0,1806.8 L487.5,1806.8 L488.0,1805.8 L488.5,1805.0 L489.0,1804.1 L489.5,1804.1 L490.0,1804.1 L490.5,1804.1 L491.0,1807.3 L491.5,1801.5 L492.0,1801.3 L492.5,1801.3 L493.0,1801.2 L493.5,1800.9 L494.0,1797.0 L494.5,1796.7 L495.0,1796.5 L495.5,1796.2 L496.0,1796.0 L496.5,1796.0 L497.0,1796.0 L497.5,1796.0 L498.0,1808.7 L498.5,1798.4 L499.0,1798.3 L499.5,1798.1 L500.0,1797.6 L500.5,1797.3 L501.0,1797.3 L501.5,1797.3 L502.0,1797.3 L502.5,1805.7 L503.0,1803.0 L503.5,1803.0 L504.0,1803.0 L504.5,1803.0 L505.0,1803.2 L505.5,1803.5 L506.0,1803.8 L506.5,1804.1 L507.0,1804.7 L507.5,1804.1 L508.0,1804.0 L508.5,1804.0 L509.0,1804.0 L509.5,1804.0 L510.0,1804.2 L510.5,1804.4 L511.0,1804.6 L511.5,1807.3 L512.0,1797.0 L512.5,1796.8 L513.0,1796.7 L513.5,1796.5 L514.0,1796.4 L514.5,1796.4 L515.0,1796.4 L515.5,1796.4 L516.0,1805.5 L516.5,1805.5 L517.0,1799.1 L517.5,1799.1 L518.0,1799.1 L518.5,1799.1 L519.0,1799.8 L519.5,1800.2 L520.0,1801.0 L520.5,1801.6 L521.0,1808.7 L521.5,1808.9 L522.0,1809.2 L522.5,1809.7 L523.0,1809.9 L523.5,1814.4 L524.0,1814.9 L524.5,1815.2 L525.0,1815.9 L525.5,1816.4 L526.0,1816.4 L526.5,1816.4 L527.0,1820.3 L527.5,1820.4 L528.0,1820.7 L528.5,1820.3 L529.0,1720.5 L529.5,1718.5 L530.0,1713.4 L530.5,1713.4 L531.0,1650.5 L531.5,1648.4 L532.0,1647.2 L532.5,1647.2 L533.0,1647.2 L533.5,1646.3 L534.0,1645.9 L534.5,1645.9 L535.0,1639.3 L535.5,1616.3 L536.0,1593.4 L536.5,1588.4 L537.0,1588.4 L537.5,1588.4 L538.0,1588.4 L538.5,1588.4 L539.0,1588.4 L539.5,1588.4 L540.0,1588.4 L540.5,1588.4 L541.0,1609.6 L541.5,1638.0 L542.0,1638.0 L542.5,1638.0 L543.0,1638.0 L543.5,1638.0 L544.0,1643.2 L544.5,1722.0 L545.0,1730.1 L545.5,1732.2 L546.0,1739.8 L546.5,1746.7 L547.0,1750.3 L547.5,1754.0 L548.0,1755.2 L548.5,1755.2 L549.0,1757.6 L549.5,1761.2 L550.0,1753.0 L550.5,1732.6 L551.0,1713.0 L551.5,1708.0 L552.0,1707.3 L552.5,1706.2 L553.0,1705.4 L553.5,1704.7 L554.0,1704.7 L554.5,1704.7 L555.0,1704.7 L555.5,1704.7 L556.0,1714.7 L556.5,1731.1 L557.0,1747.1 L557.5,1754.3 L558.0,1754.3 L558.5,1754.3 L559.0,1759.5 L559.5,1776.4 L560.0,1778.1 L560.5,1780.5 L561.0,1782.9 L561.5,1784.9 L562.0,1786.9 L562.5,1786.9 L563.0,1783.5 L563.5,1782.8 L564.0,1782.5 L564.5,1782.5 L565.0,1782.5 L565.5,1785.9 L566.0,1786.5 L566.5,1787.2 L567.0,1798.0 L567.5,1796.1 L568.0,1796.1 L568.5,1796.1 L569.0,1796.1 L569.5,1791.0 L570.0,1791.0 L570.5,1791.0 L571.0,1791.0 L571.5,1791.6 L572.0,1792.9 L572.5,1794.2 L573.0,1795.3 L573.5,1805.9 L574.0,1805.9 L574.5,1806.0 L575.0,1806.3 L575.5,1806.8 L576.0,1811.7 L576.5,1812.2 L577.0,1806.2 L577.5,1806.2 L578.0,1806.2 L578.5,1806.2 L579.0,1807.5 L579.5,1808.1 L580.0,1808.7 L580.5,1812.3 L581.0,1812.8 L581.5,1810.3 L582.0,1810.3 L582.5,1810.3 L583.0,1810.8 L583.5,1812.6 L584.0,1813.4 L584.5,1814.9 L585.0,1821.7 L585.5,1817.0 L586.0,1815.5 L586.5,1815.5 L587.0,1815.5 L587.5,1815.5 L588.0,1815.7 L588.5,1816.1 L589.0,1816.4 L589.5,1807.3 L590.0,1796.4 L590.5,1717.1 L591.0,1716.8 L591.5,1716.1 L592.0,1715.8 L592.5,1715.8 L593.0,1715.8 L593.5,1715.8 L594.0,1715.8 L594.5,1700.8 L595.0,1681.9 L595.5,1662.6 L596.0,1655.0 L596.5,1649.7 L597.0,1644.9 L597.5,1639.6 L598.0,1634.8 L598.5,1611.9 L599.0,1584.2 L599.5,1578.4 L600.0,1578.3 L600.5,1578.2 L601.0,1578.1 L601.5,1578.0 L602.0,1577.9 L602.5,1577.9 L603.0,1577.9 L603.5,1577.9 L604.0,1577.9 L604.5,1602.3 L605.0,1627.6 L605.5,1627.6 L606.0,1661.2 L606.5,1682.9 L607.0,1697.3 L607.5,1705.7 L608.0,1723.4 L608.5,1724.5 L609.0,1726.1 L609.5,1727.2 L610.0,1745.7 L610.5,1759.8 L611.0,1763.6 L611.5,1763.9 L612.0,1763.9 L612.5,1763.9 L613.0,1764.6 L613.5,1764.9 L614.0,1765.5 L614.5,1769.1 L615.0,1782.6 L615.5,1783.8 L616.0,1784.9 L616.5,1786.0 L617.0,1787.1 L617.5,1792.4 L618.0,1788.1 L618.5,1788.1 L619.0,1788.1 L619.5,1788.1 L620.0,1788.5 L620.5,1789.6 L621.0,1790.8 L621.5,1791.7 L622.0,1797.4 L622.5,1798.5 L623.0,1799.2 L623.5,1800.3 L624.0,1801.2 L624.5,1805.1 L625.0,1796.6 L625.5,1796.6 L626.0,1796.6 L626.5,1796.6 L627.0,1797.0 L627.5,1797.4 L628.0,1797.7 L628.5,1798.0 L629.0,1806.7 L629.5,1803.1 L630.0,1801.5 L630.5,1800.5 L631.0,1800.0 L631.5,1799.4 L632.0,1799.4 L632.5,1799.4 L633.0,1799.4 L633.5,1803.9 L634.0,1793.1 L634.5,1793.1 L635.0,1793.1 L635.5,1793.1 L636.0,1793.2 L636.5,1793.4 L637.0,1793.4 L637.5,1793.4 L638.0,1793.4 L638.5,1801.2 L639.0,1801.3 L639.5,1801.4 L640.0,1801.7 L640.5,1803.3 L641.0,1805.2 L641.5,1806.1 L642.0,1806.3 L642.5,1806.3 L643.0,1806.3 L643.5,1802.6 L644.0,1802.6 L644.5,1802.6 L645.0,1802.6 L645.5,1803.4 L646.0,1803.8 L646.5,1804.2 L647.0,1805.1 L647.5,1812.7 L648.0,1813.5 L648.5,1814.0 L649.0,1814.5 L649.5,1818.1 L650.0,1818.4 L650.5,1819.3 L651.0,1819.3 L651.5,1819.3 L652.0,1819.3 L652.5,1820.1 L653.0,1820.4 L653.5,1821.0 L654.0,1824.2 L654.5,1824.4 L655.0,1822.7 L655.5,1822.7 L656.0,1822.7 L656.5,1822.7 L657.0,1823.2 L657.5,1823.3 L658.0,1823.4 L658.5,1823.9 L659.0,1824.0 L659.5,1824.1 L660.0,1824.2 L660.5,1824.3 L661.0,1825.3 L661.5,1825.4 L662.0,1825.5 L662.5,1825.6 L663.0,1825.7 L663.5,1825.8 L664.0,1825.9 L664.5,1826.0 L665.0,1826.2 L665.5,1826.4 L666.0,1826.6 L666.5,1826.8 L667.0,1826.9 L667.5,1827.3 L668.0,1828.0 L668.5,1828.2 L669.0,1825.3 L669.5,1825.3 L670.0,1825.3 L670.5,1826.3 L671.0,1826.3 L671.5,1826.3 L672.0,1826.3 L672.5,1831.0 L673.0,1831.3 L673.5,1831.5 L674.0,1831.9 L674.5,1810.5 L675.0,1778.0 L675.5,1731.0 L676.0,1727.8 L676.5,1727.0 L677.0,1724.1 L677.5,1721.3 L678.0,1720.9 L678.5,1686.2 L679.0,1642.4 L679.5,1586.6 L680.0,1545.3 L680.5,1544.7 L681.0,1544.7 L681.5,1544.7 L682.0,1544.7 L682.5,1544.7 L683.0,1544.7 L683.5,1544.7 L684.0,1544.7 L684.5,1544.7 L685.0,1550.7 L685.5,1594.4 L686.0,1642.6 L686.5,1673.9 L687.0,1689.5 L687.5,1695.8 L688.0,1696.3 L688.5,1696.6 L689.0,1697.1 L689.5,1697.4 L690.0,1697.4 L690.5,1697.6 L691.0,1698.2 L691.5,1698.4 L692.0,1699.0 L692.5,1721.4 L693.0,1739.9 L693.5,1750.7 L694.0,1757.6 L694.5,1760.0 L695.0,1760.8 L695.5,1760.8 L696.0,1764.0 L696.5,1770.9 L697.0,1772.8 L697.5,1780.0 L698.0,1783.3 L698.5,1782.1 L699.0,1782.1 L699.5,1782.1 L700.0,1782.1 L700.5,1783.7 L701.0,1785.4 L701.5,1785.4 L702.0,1785.4 L702.5,1791.6 L703.0,1792.9 L703.5,1789.5 L704.0,1789.5 L704.5,1789.5 L705.0,1789.5 L705.5,1790.3 L706.0,1791.2 L706.5,1791.7 L707.0,1801.7 L707.5,1802.7 L708.0,1803.8 L708.5,1806.2 L709.0,1807.1 L709.5,1809.6 L710.0,1808.8 L710.5,1808.6 L711.0,1808.6 L711.5,1808.6 L712.0,1808.6 L712.5,1811.0 L713.0,1815.5 L713.5,1819.4 L714.0,1816.5 L714.5,1816.5 L715.0,1816.5 L715.5,1816.5 L716.0,1818.3 L716.5,1819.2 L717.0,1813.0 L717.5,1812.7 L718.0,1812.2 L718.5,1811.8 L719.0,1811.2 L719.5,1811.2 L720.0,1811.2 L720.5,1811.2 L721.0,1816.5 L721.5,1816.3 L722.0,1816.3 L722.5,1816.3 L723.0,1816.3 L723.5,1817.9 L724.0,1817.1 L724.5,1817.1 L725.0,1817.1 L725.5,1817.1 L726.0,1817.5 L726.5,1817.5 L727.0,1817.5 L727.5,1817.5 L728.0,1817.6 L728.5,1818.2 L729.0,1818.6 L729.5,1819.1 L730.0,1820.2 L730.5,1820.3 L731.0,1817.5 L731.5,1817.2 L732.0,1816.7 L732.5,1816.5 L733.0,1816.4 L733.5,1816.4 L734.0,1816.4 L734.5,1819.2 L735.0,1819.0 L735.5,1814.3 L736.0,1814.1 L736.5,1813.9 L737.0,1813.6 L737.5,1813.6 L738.0,1813.6 L738.5,1813.6 L739.0,1820.4 L739.5,1820.7 L740.0,1820.1 L740.5,1820.1 L741.0,1820.1 L741.5,1820.1 L742.0,1820.4 L742.5,1820.6 L743.0,1821.2 L743.5,1821.7 L744.0,1823.4 L744.5,1823.9 L745.0,1823.9 L745.5,1823.9 L746.0,1823.9 L746.5,1824.2 L747.0,1824.8 L747.5,1825.5 L748.0,1826.4 L748.5,1828.3 L749.0,1828.7 L749.5,1829.1 L750.0,1829.6 L750.5,1829.7 L751.0,1830.8 L751.5,1829.0 L752.0,1829.0 L752.5,1829.0 L753.0,1829.0 L753.5,1829.2 L754.0,1829.3 L754.5,1829.3 L755.0,1829.4 L755.5,1830.5 L756.0,1829.9 L756.5,1829.9 L757.0,1829.9 L757.5,1829.9 L758.0,1830.0 L758.5,1830.0 L759.0,1830.2 L759.5,1830.2 L760.0,1831.4 L760.5,1831.4 L761.0,1830.8 L761.5,1830.8 L762.0,1830.8 L762.5,1830.8 L763.0,1830.8 L763.5,1830.9 L764.0,1830.9 L764.5,1832.4 L765.0,1832.5 L765.5,1829.6 L766.0,1829.6 L766.5,1829.6 L767.0,1829.6 L767.5,1829.7 L768.0,1829.8 L768.5,1830.0 L769.0,1831.3 L769.5,1831.4 L770.0,1831.7 L770.5,1831.8 L771.0,1831.9 L771.5,1832.8 L772.0,1833.0 L772.5,1833.0 L773.0,1832.9 L773.5,1832.8 L774.0,1832.7 L774.5,1832.6 L775.0,1832.6 L775.5,1832.6 L776.0,1832.6 L776.5,1833.2 L777.0,1832.4 L777.5,1832.3 L778.0,1832.2 L778.5,1832.0 L779.0,1831.9 L779.5,1831.9 L780.0,1831.9 L780.5,1831.9 L781.0,1832.5 L781.5,1831.7 L782.0,1831.7 L782.5,1831.7 L783.0,1831.7 L783.5,1831.7 L784.0,1831.8 L784.5,1832.0 L785.0,1832.0 L785.5,1832.0 L786.0,1832.2 L786.5,1832.3 L787.0,1832.3 L787.5,1825.9 L788.0,1825.9 L788.5,1825.9 L789.0,1825.9 L789.5,1830.9 L790.0,1830.9 L790.5,1830.9 L791.0,1831.2 L791.5,1815.3 L792.0,1789.2 L792.5,1770.4 L793.0,1733.0 L793.5,1732.4 L794.0,1732.1 L794.5,1731.8 L795.0,1731.1 L795.5,1730.8 L796.0,1708.2 L796.5,1679.6 L797.0,1673.4 L797.5,1673.3 L798.0,1673.2 L798.5,1673.1 L799.0,1673.0 L799.5,1672.9 L800.0,1672.9 L800.5,1672.9 L801.0,1672.9 L801.5,1672.9 L802.0,1680.2 L802.5,1691.5 L803.0,1708.7 L803.5,1722.7 L804.0,1722.7 L804.5,1736.4 L805.0,1748.4 L805.5,1763.2 L806.0,1772.5 L806.5,1796.5 L807.0,1799.5 L807.5,1799.5 L808.0,1799.5 L808.5,1794.4 L809.0,1794.4 L809.5,1794.4 L810.0,1794.4 L810.5,1795.4 L811.0,1796.4 L811.5,1797.4 L812.0,1798.1 L812.5,1798.5 L813.0,1802.3 L813.5,1799.1 L814.0,1799.1 L814.5,1799.1 L815.0,1799.1 L815.5,1801.5 L816.0,1804.3 L816.5,1806.1 L817.0,1807.7 L817.5,1810.6 L818.0,1811.4 L818.5,1811.4 L819.0,1811.4 L819.5,1812.4 L820.0,1816.8 L820.5,1818.0 L821.0,1819.0 L821.5,1820.1 L822.0,1820.5 L822.5,1823.1 L823.0,1823.4 L823.5,1824.0 L824.0,1824.2 L824.5,1824.2 L825.0,1824.3 L825.5,1824.3 L826.0,1824.3 L826.5,1824.2 L827.0,1824.1 L827.5,1824.1 L828.0,1824.1 L828.5,1824.1 L829.0,1824.9 L829.5,1823.4 L830.0,1823.3 L830.5,1823.2 L831.0,1822.7 L831.5,1822.4 L832.0,1822.1 L832.5,1821.5 L833.0,1820.9 L833.5,1820.6 L834.0,1820.5 L834.5,1820.5 L835.0,1820.5 L835.5,1820.5 L836.0,1822.1 L836.5,1822.3 L837.0,1820.5 L837.5,1820.5 L838.0,1820.5 L838.5,1820.6 L839.0,1820.9 L839.5,1821.2 L840.0,1821.5 L840.5,1823.5 L841.0,1823.7 L841.5,1823.8 L842.0,1823.9 L842.5,1825.5 L843.0,1825.6 L843.5,1824.6 L844.0,1824.6 L844.5,1824.5 L845.0,1824.3 L845.5,1824.1 L846.0,1820.5 L846.5,1820.5 L847.0,1820.5 L847.5,1820.5 L848.0,1820.5 L848.5,1820.5 L849.0,1820.6 L849.5,1820.7 L850.0,1821.6 L850.5,1821.8 L851.0,1822.3 L851.5,1822.7 L852.0,1826.9 L852.5,1827.2 L853.0,1827.2 L853.5,1827.2 L854.0,1827.2 L854.5,1827.3 L855.0,1826.8 L855.5,1826.8 L856.0,1826.8 L856.5,1826.8 L857.0,1826.8 L857.5,1826.8 L858.0,1826.8 L858.5,1826.9 L859.0,1827.5 L859.5,1825.3 L860.0,1825.3 L860.5,1825.3 L861.0,1825.3 L861.5,1825.5 L862.0,1825.9 L862.5,1826.1 L863.0,1826.3 L863.5,1826.8 L864.0,1826.8 L864.5,1826.8 L865.0,1828.6 L865.5,1828.6 L866.0,1829.0 L866.5,1829.5 L867.0,1815.3 L867.5,1789.2 L868.0,1770.4 L868.5,1753.6 L869.0,1737.2 L869.5,1713.9 L870.0,1688.7 L870.5,1663.8 L871.0,1636.5 L871.5,1608.8 L872.0,1589.5 L872.5,1588.8 L873.0,1588.8 L873.5,1588.7 L874.0,1588.6 L874.5,1588.5 L875.0,1588.5 L875.5,1588.4 L876.0,1588.4 L876.5,1588.4 L877.0,1588.4 L877.5,1593.2 L878.0,1638.0 L878.5,1638.0 L879.0,1638.0 L879.5,1677.3 L880.0,1714.6 L880.5,1737.8 L881.0,1762.8 L881.5,1768.6 L882.0,1770.2 L882.5,1773.8 L883.0,1778.2 L883.5,1781.8 L884.0,1784.3 L884.5,1791.7 L885.0,1783.1 L885.5,1783.1 L886.0,1783.1 L886.5,1783.1 L887.0,1783.3 L887.5,1783.9 L888.0,1784.2 L888.5,1784.3 L889.0,1787.8 L889.5,1777.0 L890.0,1775.7 L890.5,1775.7 L891.0,1775.7 L891.5,1775.7 L892.0,1777.3 L892.5,1779.3 L893.0,1780.9 L893.5,1786.6 L894.0,1780.2 L894.5,1779.0 L895.0,1770.9 L895.5,1769.7 L896.0,1769.7 L896.5,1767.7 L897.0,1767.7 L897.5,1767.7 L898.0,1767.7 L898.5,1773.2 L899.0,1779.2 L899.5,1784.5 L900.0,1788.5 L900.5,1796.6 L901.0,1792.3 L901.5,1784.9 L902.0,1784.9 L902.5,1784.9 L903.0,1784.9 L903.5,1787.0 L904.0,1788.0 L904.5,1788.0 L905.0,1788.6 L905.5,1789.0 L906.0,1789.5 L906.5,1790.1 L907.0,1790.4 L907.5,1801.9 L908.0,1799.6 L908.5,1799.6 L909.0,1799.6 L909.5,1799.6 L910.0,1800.1 L910.5,1800.4 L911.0,1800.9 L911.5,1801.3 L912.0,1802.4 L912.5,1802.9 L913.0,1803.9 L913.5,1804.7 L914.0,1805.2 L914.5,1805.9 L915.0,1806.4 L915.5,1806.9 L916.0,1807.9 L916.5,1808.4 L917.0,1808.7 L917.5,1809.0 L918.0,1809.0 L918.5,1809.0 L919.0,1809.3 L919.5,1809.6 L920.0,1810.0 L920.5,1810.3 L921.0,1811.7 L921.5,1812.1 L922.0,1812.6 L922.5,1812.9 L923.0,1813.3 L923.5,1817.1 L924.0,1817.4 L924.5,1817.7 L925.0,1818.6 L925.5,1819.0 L926.0,1819.2 L926.5,1819.7 L927.0,1817.2 L927.5,1817.2 L928.0,1817.2 L928.5,1817.2 L929.0,1815.3 L929.5,1815.3 L930.0,1815.3 L930.5,1815.8 L931.0,1795.3 L931.5,1757.9 L932.0,1725.4 L932.5,1696.1 L933.0,1667.7 L933.5,1639.6 L934.0,1625.5 L934.5,1615.0 L935.0,1607.8 L935.5,1607.2 L936.0,1607.2 L936.5,1607.2 L937.0,1607.2 L937.5,1607.2 L938.0,1607.2 L938.5,1607.2 L939.0,1607.2 L939.5,1607.2 L940.0,1609.6 L940.5,1632.1 L941.0,1654.6 L941.5,1657.0 L942.0,1657.0 L942.5,1657.0 L943.0,1659.0 L943.5,1663.6 L944.0,1664.2 L944.5,1664.9 L945.0,1665.5 L945.5,1684.8 L946.0,1718.5 L946.5,1756.8 L947.0,1766.5 L947.5,1773.3 L948.0,1780.6 L948.5,1780.6 L949.0,1784.7 L949.5,1789.1 L950.0,1793.5 L950.5,1797.9 L951.0,1802.6 L951.5,1798.8 L952.0,1793.9 L952.5,1789.0 L953.0,1785.7 L953.5,1785.2 L954.0,1785.2 L954.5,1785.2 L955.0,1785.2 L955.5,1785.4 L956.0,1785.4 L956.5,1785.8 L957.0,1789.4 L957.5,1792.6 L958.0,1795.1 L958.5,1791.4 L959.0,1791.1 L959.5,1791.1 L960.0,1791.1 L960.5,1791.9 L961.0,1797.5 L961.5,1803.1 L962.0,1810.5 L962.5,1811.4 L963.0,1813.8 L963.5,1815.7 L964.0,1814.2 L964.5,1814.2 L965.0,1814.2 L965.5,1814.2 L966.0,1817.7 L966.5,1819.5 L967.0,1820.9 L967.5,1817.0 L968.0,1816.9 L968.5,1816.9 L969.0,1816.9 L969.5,1816.9 L970.0,1813.6 L970.5,1813.6 L971.0,1813.6 L971.5,1813.6 L972.0,1813.8 L972.5,1814.1 L973.0,1814.7 L973.5,1815.0 L974.0,1820.2 L974.5,1820.5 L975.0,1820.8 L975.5,1821.0 L976.0,1824.4 L976.5,1824.6 L977.0,1824.5 L977.5,1824.5 L978.0,1824.5 L978.5,1824.5 L979.0,1824.8 L979.5,1825.2 L980.0,1825.3 L980.5,1825.3 L981.0,1826.0 L981.5,1826.1 L982.0,1826.3 L982.5,1826.4 L983.0,1827.3 L983.5,1827.5 L984.0,1823.6 L984.5,1823.6 L985.0,1823.6 L985.5,1823.6 L986.0,1824.6 L986.5,1824.8 L987.0,1824.8 L987.5,1827.1 L988.0,1827.4 L988.5,1827.7 L989.0,1828.3 L989.5,1805.2 L990.0,1766.6 L990.5,1724.9 L991.0,1682.4 L991.5,1644.8 L992.0,1609.2 L992.5,1561.9 L993.0,1489.7 L993.5,1474.7 L994.0,1474.7 L994.5,1474.7 L995.0,1474.7 L995.5,1474.7 L996.0,1474.7 L996.5,1474.7 L997.0,1474.7 L997.5,1474.7 L998.0,1474.7 L998.5,1507.6 L999.0,1524.4 L999.5,1524.4 L1000.0,1524.4 L1000.5,1575.0 L1001.0,1632.8 L1001.5,1662.1 L1002.0,1680.9 L1002.5,1694.9 L1003.0,1699.3 L1003.5,1699.3 L1004.0,1701.7 L1004.5,1716.1 L1005.0,1721.1 L1005.5,1721.4 L1006.0,1725.8 L1006.5,1727.8 L1007.0,1728.6 L1007.5,1730.6 L1008.0,1732.6 L1008.5,1741.1 L1009.0,1752.0 L1009.5,1756.6 L1010.0,1758.0 L1010.5,1758.0 L1011.0,1758.0 L1011.5,1758.0 L1012.0,1767.7 L1012.5,1772.9 L1013.0,1775.8 L1013.5,1776.6 L1014.0,1782.2 L1014.5,1787.8 L1015.0,1793.4 L1015.5,1799.6 L1016.0,1801.2 L1016.5,1803.1 L1017.0,1804.0 L1017.5,1804.0 L1018.0,1802.5 L1018.5,1802.5 L1019.0,1802.5 L1019.5,1803.9 L1020.0,1809.3 L1020.5,1809.3 L1021.0,1809.3 L1021.5,1809.3 L1022.0,1809.3 L1022.5,1810.6 L1023.0,1811.6 L1023.5,1812.9 L1024.0,1813.9 L1024.5,1815.2 L1025.0,1814.3 L1025.5,1814.3 L1026.0,1814.3 L1026.5,1814.3 L1027.0,1814.3 L1027.5,1814.9 L1028.0,1815.3 L1028.5,1815.9 L1029.0,1820.6 L1029.5,1820.9 L1030.0,1821.1 L1030.5,1821.1 L1031.0,1821.1 L1031.5,1821.6 L1032.0,1821.9 L1032.5,1822.0 L1033.0,1822.1 L1033.5,1824.6 L1034.0,1824.6 L1034.5,1821.3 L1035.0,1821.3 L1035.5,1821.3 L1036.0,1821.4 L1036.5,1821.5 L1037.0,1818.8 L1037.5,1818.8 L1038.0,1818.8 L1038.5,1819.0 L1039.0,1819.1 L1039.5,1819.2 L1040.0,1819.4 L1040.5,1819.4 L1041.0,1819.7 L1041.5,1820.2 L1042.0,1820.6 L1042.5,1821.2 L1043.0,1825.5 L1043.5,1826.0 L1044.0,1826.6 L1044.5,1827.0 L1045.0,1828.1 L1045.5,1828.5 L1046.0,1826.2 L1046.5,1826.2 L1047.0,1826.2 L1047.5,1826.2 L1048.0,1826.4 L1048.5,1826.8 L1049.0,1827.0 L1049.5,1827.1 L1050.0,1829.8 L1050.5,1829.9 L1051.0,1830.1 L1051.5,1830.1 L1052.0,1831.6 L1052.5,1831.6 L1053.0,1830.4 L1053.5,1830.4 L1054.0,1830.3 L1054.5,1830.3 L1055.0,1830.3 L1055.5,1830.3 L1056.0,1830.3 L1056.5,1830.7 L1057.0,1830.7 L1057.5,1818.3 L1058.0,1818.3 L1058.5,1818.3 L1059.0,1818.3 L1059.5,1826.1 L1060.0,1826.3 L1060.5,1826.5 L1061.0,1831.2 L1061.5,1813.6 L1062.0,1788.8 L1062.5,1773.5 L1063.0,1744.2 L1063.5,1743.3 L1064.0,1743.2 L1064.5,1743.2 L1065.0,1743.2 L1065.5,1743.2 L1066.0,1743.2 L1066.5,1743.2 L1067.0,1720.0 L1067.5,1689.6 L1068.0,1644.0 L1068.5,1593.6 L1069.0,1583.4 L1069.5,1583.3 L1070.0,1583.2 L1070.5,1583.1 L1071.0,1583.0 L1071.5,1582.9 L1072.0,1582.9 L1072.5,1582.9 L1073.0,1582.9 L1073.5,1582.9 L1074.0,1605.8 L1074.5,1632.7 L1075.0,1632.7 L1075.5,1632.7 L1076.0,1658.8 L1076.5,1675.6 L1077.0,1706.8 L1077.5,1708.6 L1078.0,1709.2 L1078.5,1710.5 L1079.0,1733.8 L1079.5,1757.6 L1080.0,1763.6 L1080.5,1766.8 L1081.0,1765.3 L1081.5,1765.3 L1082.0,1765.3 L1082.5,1765.3 L1083.0,1769.6 L1083.5,1769.3 L1084.0,1768.7 L1084.5,1768.4 L1085.0,1768.4 L1085.5,1767.5 L1086.0,1767.5 L1086.5,1767.5 L1087.0,1767.9 L1087.5,1773.5 L1088.0,1777.4 L1088.5,1777.4 L1089.0,1777.8 L1089.5,1778.9 L1090.0,1780.4 L1090.5,1781.5 L1091.0,1793.4 L1091.5,1793.2 L1092.0,1793.2 L1092.5,1793.2 L1093.0,1793.2 L1093.5,1797.6 L1094.0,1798.0 L1094.5,1798.8 L1095.0,1799.1 L1095.5,1799.6 L1096.0,1801.3 L1096.5,1801.7 L1097.0,1802.4 L1097.5,1802.9 L1098.0,1801.7 L1098.5,1801.4 L1099.0,1801.4 L1099.5,1801.4 L1100.0,1804.4 L1100.5,1804.6 L1101.0,1805.7 L1101.5,1806.3 L1102.0,1807.1 L1102.5,1807.1 L1103.0,1807.7 L1103.5,1808.2 L1104.0,1808.8 L1104.5,1809.5 L1105.0,1809.9 L1105.5,1810.9 L1106.0,1812.3 L1106.5,1813.0 L1107.0,1814.0 L1107.5,1814.5 L1108.0,1814.6 L1108.5,1814.6 L1109.0,1814.4 L1109.5,1814.2 L1110.0,1814.2 L1110.5,1814.2 L1111.0,1814.2 L1111.5,1814.2 L1112.0,1817.5 L1112.5,1812.5 L1113.0,1812.5 L1113.5,1812.5 L1114.0,1812.5 L1114.5,1813.6 L1115.0,1814.7 L1115.5,1815.5 L1116.0,1815.6 L1116.5,1815.6 L1117.0,1815.7 L1117.5,1815.8 L1118.0,1816.0 L1118.5,1816.2 L1119.0,1822.6 L1119.5,1821.1 L1120.0,1821.1 L1120.5,1821.1 L1121.0,1821.1 L1121.5,1821.2 L1122.0,1821.2 L1122.5,1821.2 L1123.0,1821.1 L1123.5,1820.6 L1124.0,1819.7 L1124.5,1819.0 L1125.0,1818.2 L1125.5,1817.7 L1126.0,1816.7 L1126.5,1811.7 L1127.0,1810.7 L1127.5,1810.2 L1128.0,1809.5 L1128.5,1809.2 L1129.0,1809.2 L1129.5,1809.2 L1130.0,1809.2 L1130.5,1816.8 L1131.0,1815.4 L1131.5,1815.4 L1132.0,1815.4 L1132.5,1815.4 L1133.0,1816.1 L1133.5,1816.3 L1134.0,1816.5 L1134.5,1816.8 L1135.0,1821.2 L1135.5,1821.6 L1136.0,1821.8 L1136.5,1821.8 L1137.0,1821.8 L1137.5,1822.8 L1138.0,1823.4 L1138.5,1824.2 L1139.0,1824.6 L1139.5,1826.1 L1140.0,1827.4 L1140.5,1827.8 L1141.0,1827.9 L1141.5,1827.8 L1142.0,1827.6 L1142.5,1827.6 L1143.0,1827.5 L1143.5,1827.3 L1144.0,1827.2 L1144.5,1827.1 L1145.0,1821.1 L1145.5,1820.8 L1146.0,1820.7 L1146.5,1820.5 L1147.0,1820.3 L1147.5,1820.3 L1148.0,1820.3 L1148.5,1821.2 L1149.0,1821.1 L1149.5,1821.1 L1150.0,1821.1 L1150.5,1821.1 L1151.0,1822.1 L1151.5,1821.9 L1152.0,1821.4 L1152.5,1821.1 L1153.0,1820.9 L1153.5,1820.5 L1154.0,1820.5 L1154.5,1820.5 L1155.0,1820.5 L1155.5,1822.9 L1156.0,1818.4 L1156.5,1818.4 L1157.0,1818.4 L1157.5,1818.4 L1158.0,1818.5 L1158.5,1818.9 L1159.0,1819.2 L1159.5,1819.6 L1160.0,1823.3 L1160.5,1823.6 L1161.0,1824.1 L1161.5,1824.3 L1162.0,1824.5 L1162.5,1826.0 L1163.0,1826.1 L1163.5,1825.4 L1164.0,1825.4 L1164.5,1825.4 L1165.0,1825.4 L1165.5,1825.4 L1166.0,1825.5 L1166.5,1825.5 L1167.0,1825.7 L1167.5,1825.6 L1168.0,1825.6 L1168.5,1825.6 L1169.0,1825.6 L1169.5,1826.3 L1170.0,1822.0 L1170.5,1822.0 L1171.0,1822.0 L1171.5,1822.0 L1172.0,1822.1 L1172.5,1822.2 L1173.0,1822.3 L1173.5,1822.7 L1174.0,1826.0 L1174.5,1826.2 L1175.0,1826.6 L1175.5,1826.9 L1176.0,1827.2 L1176.5,1827.4 L1177.0,1826.8 L1177.5,1826.8 L1178.0,1826.8 L1178.5,1826.8 L1179.0,1826.9 L1179.5,1827.0 L1180.0,1827.7 L1180.5,1815.3 L1181.0,1789.2 L1181.5,1771.1 L1182.0,1755.4 L1182.5,1734.9 L1183.0,1734.4 L1183.5,1734.1 L1184.0,1733.6 L1184.5,1733.3 L1185.0,1733.3 L1185.5,1733.3 L1186.0,1714.0 L1186.5,1688.8 L1187.0,1672.7 L1187.5,1658.9 L1188.0,1655.9 L1188.5,1655.8 L1189.0,1655.7 L1189.5,1655.5 L1190.0,1655.4 L1190.5,1655.4 L1191.0,1655.4 L1191.5,1655.4 L1192.0,1655.4 L1192.5,1671.5 L1193.0,1698.0 L1193.5,1705.2 L1194.0,1710.0 L1194.5,1734.8 L1195.0,1758.8 L1195.5,1766.0 L1196.0,1780.6 L1196.5,1783.8 L1197.0,1786.6 L1197.5,1789.4 L1198.0,1791.8 L1198.5,1794.3 L1199.0,1792.0 L1199.5,1788.8 L1200.0,1787.6 L1200.5,1784.4 L1201.0,1780.4 L1201.5,1776.1 L1202.0,1770.7 L1202.5,1766.7 L1203.0,1766.7 L1203.5,1766.7 L1204.0,1766.7 L1204.5,1772.9 L1205.0,1761.9 L1205.5,1761.9 L1206.0,1761.9 L1206.5,1761.9 L1207.0,1768.7 L1207.5,1776.4 L1208.0,1783.6 L1208.5,1792.4 L1209.0,1794.0 L1209.5,1785.1 L1210.0,1784.8 L1210.5,1784.6 L1211.0,1784.6 L1211.5,1784.6 L1212.0,1787.1 L1212.5,1788.5 L1213.0,1789.6 L1213.5,1795.7 L1214.0,1795.7 L1214.5,1795.7 L1215.0,1795.7 L1215.5,1796.5 L1216.0,1798.9 L1216.5,1800.9 L1217.0,1804.4 L1217.5,1806.8 L1218.0,1810.7 L1218.5,1809.0 L1219.0,1809.0 L1219.5,1809.0 L1220.0,1809.0 L1220.5,1811.2 L1221.0,1811.9 L1221.5,1813.2 L1222.0,1813.8 L1222.5,1817.0 L1223.0,1816.8 L1223.5,1816.8 L1224.0,1816.8 L1224.5,1818.6 L1225.0,1815.3 L1225.5,1815.0 L1226.0,1814.9 L1226.5,1814.8 L1227.0,1814.8 L1227.5,1814.8 L1228.0,1814.8 L1228.5,1815.0 L1229.0,1815.5 L1229.5,1815.8 L1230.0,1816.2 L1230.5,1816.6 L1231.0,1817.4 L1231.5,1821.1 L1232.0,1821.6 L1232.5,1822.5 L1233.0,1823.4 L1233.5,1824.0 L1234.0,1824.8 L1234.5,1825.7 L1235.0,1826.5 L1235.5,1826.5 L1236.0,1826.5 L1236.5,1827.4 L1237.0,1828.1 L1237.5,1828.1 L1238.0,1828.1 L1238.5,1828.1 L1239.0,1834.8 L1239.5,1832.1 L1240.0,1827.3 L1240.5,1822.5 L1241.0,1817.2 L1241.5,1814.0 L1242.0,1799.2 L1242.5,1799.2 L1243.0,1799.2 L1243.5,1799.2 L1244.0,1802.6 L1244.5,1808.2 L1245.0,1814.9 L1245.5,1823.8 L1246.0,1829.5 L1246.5,1832.1 L1247.0,1834.1 L1247.5,1831.5 L1248.0,1827.5 L1248.5,1823.9 L1249.0,1821.5 L1249.5,1821.5 L1250.0,1821.5 L1250.5,1821.5 L1251.0,1821.5 L1251.5,1821.5 L1252.0,1824.8 L1252.5,1824.8 L1253.0,1832.4 L1253.5,1834.8 L1254.0,1833.1 L1254.5,1831.3 L1255.0,1814.0 L1255.5,1788.8 L1256.0,1767.2 L1256.5,1746.3 L1257.0,1725.5 L1257.5,1697.8 L1258.0,1668.9 L1258.5,1639.6 L1259.0,1606.7 L1259.5,1572.9 L1260.0,1565.9 L1260.5,1565.8 L1261.0,1565.7 L1261.5,1565.6 L1262.0,1565.5 L1262.5,1565.4 L1263.0,1565.4 L1263.5,1565.4 L1264.0,1565.4 L1264.5,1565.4 L1265.0,1582.3 L1265.5,1610.0 L1266.0,1626.5 L1266.5,1641.3 L1267.0,1651.8 L1267.5,1672.6 L1268.0,1690.2 L1268.5,1704.6 L1269.0,1719.0 L1269.5,1745.1 L1270.0,1757.9 L1270.5,1770.7 L1271.0,1776.7 L1271.5,1783.6 L1272.0,1790.5 L1272.5,1796.2 L1273.0,1799.1 L1273.5,1794.3 L1274.0,1792.6 L1274.5,1792.6 L1275.0,1792.6 L1275.5,1792.6 L1276.0,1795.1 L1276.5,1796.5 L1277.0,1797.0 L1277.5,1799.6 L1278.0,1797.5 L1278.5,1796.6 L1279.0,1795.9 L1279.5,1795.4 L1280.0,1795.4 L1280.5,1795.4 L1281.0,1795.4 L1281.5,1795.5 L1282.0,1799.6 L1282.5,1796.3 L1283.0,1793.4 L1283.5,1793.0 L1284.0,1793.0 L1284.5,1793.0 L1285.0,1793.8 L1285.5,1798.1 L1286.0,1802.5 L1286.5,1806.9 L1287.0,1810.1 L1287.5,1811.7 L1288.0,1813.9 L1288.5,1814.4 L1289.0,1814.4 L1289.5,1816.0 L1290.0,1816.0 L1290.5,1816.0 L1291.0,1816.0 L1291.5,1818.4 L1292.0,1819.2 L1292.5,1820.4 L1293.0,1821.5 L1293.5,1822.2 L1294.0,1825.1 L1294.5,1823.7 L1295.0,1823.7 L1295.5,1823.7 L1296.0,1823.8 L1296.5,1824.2 L1296.5,1839.8 L1296.0,1839.8 L1295.5,1839.8 L1295.0,1839.8 L1294.5,1839.7 L1294.0,1834.6 L1293.5,1834.3 L1293.0,1834.0 L1292.5,1833.7 L1292.0,1833.0 L1291.5,1832.7 L1291.0,1834.5 L1290.5,1836.4 L1290.0,1836.4 L1289.5,1836.4 L1289.0,1836.4 L1288.5,1835.8 L1288.0,1835.2 L1287.5,1834.5 L1287.0,1826.5 L1286.5,1825.3 L1286.0,1824.0 L1285.5,1822.3 L1285.0,1820.4 L1284.5,1817.2 L1284.0,1818.6 L1283.5,1821.8 L1283.0,1821.8 L1282.5,1821.8 L1282.0,1821.8 L1281.5,1821.6 L1281.0,1820.9 L1280.5,1820.5 L1280.0,1811.2 L1279.5,1826.4 L1279.0,1826.7 L1278.5,1826.7 L1278.0,1826.7 L1277.5,1826.7 L1277.0,1826.5 L1276.5,1825.8 L1276.0,1825.6 L1275.5,1811.0 L1275.0,1810.7 L1274.5,1811.4 L1274.0,1812.1 L1273.5,1812.7 L1273.0,1813.4 L1272.5,1813.7 L1272.0,1813.7 L1271.5,1813.7 L1271.0,1813.7 L1270.5,1812.9 L1270.0,1806.1 L1269.5,1799.2 L1269.0,1796.2 L1268.5,1793.3 L1268.0,1778.4 L1267.5,1765.5 L1267.0,1752.7 L1266.5,1739.8 L1266.0,1725.8 L1265.5,1724.6 L1265.0,1710.2 L1264.5,1696.2 L1264.0,1678.6 L1263.5,1657.8 L1263.0,1607.6 L1262.5,1579.9 L1262.0,1595.8 L1261.5,1629.6 L1261.0,1659.7 L1260.5,1688.6 L1260.0,1717.9 L1259.5,1740.3 L1259.0,1761.2 L1258.5,1782.0 L1258.0,1806.0 L1257.5,1831.2 L1257.0,1836.4 L1256.5,1839.0 L1256.0,1839.8 L1255.5,1840.7 L1255.0,1841.6 L1254.5,1842.8 L1254.0,1844.0 L1253.5,1844.3 L1253.0,1844.3 L1252.5,1844.3 L1252.0,1844.3 L1251.5,1843.1 L1251.0,1840.9 L1250.5,1840.2 L1250.0,1840.2 L1249.5,1840.2 L1249.0,1842.7 L1248.5,1843.2 L1248.0,1843.2 L1247.5,1843.2 L1247.0,1843.2 L1246.5,1842.9 L1246.0,1841.9 L1245.5,1840.7 L1245.0,1839.9 L1244.5,1839.0 L1244.0,1836.6 L1243.5,1834.0 L1243.0,1828.0 L1242.5,1832.5 L1242.0,1837.8 L1241.5,1841.4 L1241.0,1841.4 L1240.5,1842.2 L1240.0,1842.2 L1239.5,1842.2 L1239.0,1842.0 L1238.5,1841.8 L1238.0,1841.4 L1237.5,1840.9 L1237.0,1837.8 L1236.5,1837.2 L1236.0,1837.2 L1235.5,1840.8 L1235.0,1840.8 L1234.5,1840.8 L1234.0,1840.7 L1233.5,1840.5 L1233.0,1840.2 L1232.5,1840.0 L1232.0,1839.8 L1231.5,1831.8 L1231.0,1835.5 L1230.5,1835.5 L1230.0,1835.5 L1229.5,1835.5 L1229.0,1835.3 L1228.5,1835.0 L1228.0,1834.8 L1227.5,1834.7 L1227.0,1827.3 L1226.5,1827.5 L1226.0,1827.5 L1225.5,1827.5 L1225.0,1827.7 L1224.5,1828.0 L1224.0,1836.1 L1223.5,1836.2 L1223.0,1836.3 L1222.5,1836.3 L1222.0,1837.4 L1221.5,1837.4 L1221.0,1837.4 L1220.5,1837.4 L1220.0,1837.2 L1219.5,1836.9 L1219.0,1836.7 L1218.5,1838.1 L1218.0,1838.1 L1217.5,1838.1 L1217.0,1838.1 L1216.5,1837.6 L1216.0,1836.8 L1215.5,1827.1 L1215.0,1825.8 L1214.5,1825.8 L1214.0,1825.8 L1213.5,1826.6 L1213.0,1826.6 L1212.5,1826.6 L1212.0,1826.3 L1211.5,1824.8 L1211.0,1815.8 L1210.5,1814.6 L1210.0,1814.8 L1209.5,1815.0 L1209.0,1815.0 L1208.5,1815.0 L1208.0,1815.5 L1207.5,1815.5 L1207.0,1815.5 L1206.5,1815.5 L1206.0,1813.1 L1205.5,1805.5 L1205.0,1797.8 L1204.5,1777.8 L1204.0,1789.2 L1203.5,1790.8 L1203.0,1791.9 L1202.5,1796.3 L1202.0,1799.4 L1201.5,1805.8 L1201.0,1809.0 L1200.5,1811.8 L1200.0,1814.9 L1199.5,1815.3 L1199.0,1815.3 L1198.5,1815.3 L1198.0,1814.9 L1197.5,1813.7 L1197.0,1811.7 L1196.5,1809.3 L1196.0,1806.9 L1195.5,1804.5 L1195.0,1796.9 L1194.5,1793.6 L1194.0,1790.4 L1193.5,1787.2 L1193.0,1779.7 L1192.5,1778.9 L1192.0,1774.4 L1191.5,1770.8 L1191.0,1762.0 L1190.5,1737.2 L1190.0,1712.0 L1189.5,1683.6 L1189.0,1739.3 L1188.5,1739.6 L1188.0,1740.1 L1187.5,1740.4 L1187.0,1740.9 L1186.5,1740.9 L1186.0,1741.2 L1185.5,1741.5 L1185.0,1751.4 L1184.5,1767.1 L1184.0,1783.2 L1183.5,1807.2 L1183.0,1833.3 L1182.5,1838.9 L1182.0,1840.4 L1181.5,1840.4 L1181.0,1840.4 L1180.5,1840.4 L1180.0,1839.8 L1179.5,1839.0 L1179.0,1837.0 L1178.5,1836.3 L1178.0,1835.8 L1177.5,1837.8 L1177.0,1837.8 L1176.5,1837.8 L1176.0,1840.7 L1175.5,1840.7 L1175.0,1840.7 L1174.5,1840.7 L1174.0,1840.6 L1173.5,1840.5 L1173.0,1840.4 L1172.5,1840.4 L1172.0,1834.3 L1171.5,1834.1 L1171.0,1835.9 L1170.5,1835.9 L1170.0,1835.9 L1169.5,1835.9 L1169.0,1835.9 L1168.5,1835.9 L1168.0,1835.9 L1167.5,1833.6 L1167.0,1833.6 L1166.5,1840.6 L1166.0,1840.6 L1165.5,1840.6 L1165.0,1840.6 L1164.5,1840.6 L1164.0,1840.5 L1163.5,1840.5 L1163.0,1835.6 L1162.5,1835.6 L1162.0,1835.5 L1161.5,1835.4 L1161.0,1835.4 L1160.5,1834.9 L1160.0,1834.8 L1159.5,1834.9 L1159.0,1834.9 L1158.5,1834.9 L1158.0,1834.6 L1157.5,1834.5 L1157.0,1834.3 L1156.5,1834.2 L1156.0,1834.1 L1155.5,1831.5 L1155.0,1831.5 L1154.5,1831.5 L1154.0,1831.5 L1153.5,1831.7 L1153.0,1832.1 L1152.5,1832.2 L1152.0,1832.4 L1151.5,1832.4 L1151.0,1832.6 L1150.5,1833.4 L1150.0,1833.4 L1149.5,1833.7 L1149.0,1833.7 L1148.5,1833.8 L1148.0,1840.0 L1147.5,1840.1 L1147.0,1840.1 L1146.5,1840.2 L1146.0,1840.2 L1145.5,1840.2 L1145.0,1840.2 L1144.5,1837.0 L1144.0,1837.1 L1143.5,1837.1 L1143.0,1837.1 L1142.5,1837.1 L1142.0,1835.3 L1141.5,1837.2 L1141.0,1837.2 L1140.5,1837.2 L1140.0,1837.2 L1139.5,1837.2 L1139.0,1837.0 L1138.5,1836.8 L1138.0,1836.1 L1137.5,1836.0 L1137.0,1839.1 L1136.5,1839.1 L1136.0,1839.1 L1135.5,1839.1 L1135.0,1839.0 L1134.5,1838.7 L1134.0,1838.6 L1133.5,1838.4 L1133.0,1829.9 L1132.5,1829.7 L1132.0,1829.5 L1131.5,1829.3 L1131.0,1829.1 L1130.5,1827.0 L1130.0,1826.7 L1129.5,1826.5 L1129.0,1827.0 L1128.5,1827.3 L1128.0,1827.6 L1127.5,1837.8 L1127.0,1838.1 L1126.5,1838.2 L1126.0,1838.5 L1125.5,1838.7 L1125.0,1838.7 L1124.5,1838.7 L1124.0,1838.7 L1123.5,1834.2 L1123.0,1834.8 L1122.5,1834.8 L1122.0,1834.9 L1121.5,1834.9 L1121.0,1834.9 L1120.5,1834.9 L1120.0,1834.8 L1119.5,1834.7 L1119.0,1831.4 L1118.5,1831.5 L1118.0,1831.5 L1117.5,1831.5 L1117.0,1831.5 L1116.5,1831.4 L1116.0,1831.9 L1115.5,1831.9 L1115.0,1831.9 L1114.5,1831.9 L1114.0,1831.4 L1113.5,1831.0 L1113.0,1830.4 L1112.5,1829.9 L1112.0,1827.8 L1111.5,1829.8 L1111.0,1829.8 L1110.5,1829.9 L1110.0,1830.0 L1109.5,1830.1 L1109.0,1830.1 L1108.5,1830.1 L1108.0,1830.1 L1107.5,1827.2 L1107.0,1829.3 L1106.5,1829.3 L1106.0,1829.3 L1105.5,1829.3 L1105.0,1829.0 L1104.5,1828.6 L1104.0,1827.8 L1103.5,1827.3 L1103.0,1826.1 L1102.5,1828.5 L1102.0,1828.5 L1101.5,1828.5 L1101.0,1828.5 L1100.5,1828.3 L1100.0,1828.0 L1099.5,1827.3 L1099.0,1826.4 L1098.5,1823.1 L1098.0,1822.0 L1097.5,1822.0 L1097.0,1822.0 L1096.5,1822.0 L1096.0,1817.6 L1095.5,1816.9 L1095.0,1816.0 L1094.5,1815.6 L1094.0,1815.2 L1093.5,1810.8 L1093.0,1810.2 L1092.5,1809.9 L1092.0,1809.9 L1091.5,1809.9 L1091.0,1806.2 L1090.5,1814.6 L1090.0,1814.6 L1089.5,1814.6 L1089.0,1814.2 L1088.5,1813.1 L1088.0,1811.6 L1087.5,1810.5 L1087.0,1797.7 L1086.5,1796.1 L1086.0,1790.5 L1085.5,1784.9 L1085.0,1778.0 L1084.5,1779.6 L1084.0,1780.0 L1083.5,1780.0 L1083.0,1780.0 L1082.5,1783.6 L1082.0,1785.2 L1081.5,1795.0 L1081.0,1796.5 L1080.5,1796.9 L1080.0,1796.9 L1079.5,1796.9 L1079.0,1796.1 L1078.5,1790.5 L1078.0,1779.3 L1077.5,1773.6 L1077.0,1769.6 L1076.5,1764.0 L1076.0,1740.7 L1075.5,1716.9 L1075.0,1715.9 L1074.5,1715.6 L1074.0,1715.2 L1073.5,1714.6 L1073.0,1714.0 L1072.5,1698.4 L1072.0,1683.6 L1071.5,1749.2 L1071.0,1749.3 L1070.5,1749.3 L1070.0,1749.3 L1069.5,1749.3 L1069.0,1749.3 L1068.5,1749.6 L1068.0,1749.8 L1067.5,1749.9 L1067.0,1750.2 L1066.5,1750.2 L1066.0,1757.7 L1065.5,1770.7 L1065.0,1783.6 L1064.5,1806.4 L1064.0,1831.2 L1063.5,1836.4 L1063.0,1839.5 L1062.5,1839.5 L1062.0,1839.5 L1061.5,1839.5 L1061.0,1839.4 L1060.5,1839.3 L1060.0,1839.2 L1059.5,1839.1 L1059.0,1837.9 L1058.5,1841.8 L1058.0,1841.8 L1057.5,1841.8 L1057.0,1841.8 L1056.5,1841.8 L1056.0,1841.8 L1055.5,1841.8 L1055.0,1841.8 L1054.5,1839.1 L1054.0,1840.4 L1053.5,1840.4 L1053.0,1840.4 L1052.5,1840.4 L1052.0,1840.4 L1051.5,1841.8 L1051.0,1841.8 L1050.5,1841.8 L1050.0,1841.8 L1049.5,1841.8 L1049.0,1841.7 L1048.5,1841.7 L1048.0,1837.9 L1047.5,1837.8 L1047.0,1837.7 L1046.5,1837.6 L1046.0,1837.5 L1045.5,1837.3 L1045.0,1837.2 L1044.5,1840.5 L1044.0,1840.5 L1043.5,1840.5 L1043.0,1840.5 L1042.5,1840.2 L1042.0,1840.1 L1041.5,1839.9 L1041.0,1835.6 L1040.5,1835.3 L1040.0,1835.2 L1039.5,1835.0 L1039.0,1834.8 L1038.5,1834.2 L1038.0,1834.1 L1037.5,1834.1 L1037.0,1834.0 L1036.5,1833.8 L1036.0,1833.7 L1035.5,1833.8 L1035.0,1833.9 L1034.5,1833.9 L1034.0,1834.0 L1033.5,1834.2 L1033.0,1834.2 L1032.5,1834.2 L1032.0,1834.2 L1031.5,1832.8 L1031.0,1832.8 L1030.5,1833.3 L1030.0,1833.3 L1029.5,1833.3 L1029.0,1833.0 L1028.5,1832.8 L1028.0,1832.6 L1027.5,1832.4 L1027.0,1829.4 L1026.5,1835.2 L1026.0,1835.2 L1025.5,1835.2 L1025.0,1835.2 L1024.5,1835.0 L1024.0,1834.8 L1023.5,1834.8 L1023.0,1834.8 L1022.5,1834.8 L1022.0,1834.4 L1021.5,1834.0 L1021.0,1833.6 L1020.5,1833.1 L1020.0,1830.8 L1019.5,1830.0 L1019.0,1829.2 L1018.5,1828.2 L1018.0,1822.7 L1017.5,1822.7 L1017.0,1822.0 L1016.5,1821.3 L1016.0,1819.8 L1015.5,1817.8 L1015.0,1816.3 L1014.5,1814.7 L1014.0,1812.8 L1013.5,1811.7 L1013.0,1807.7 L1012.5,1802.0 L1012.0,1796.4 L1011.5,1792.6 L1011.0,1792.9 L1010.5,1793.2 L1010.0,1793.2 L1009.5,1793.2 L1009.0,1792.8 L1008.5,1787.2 L1008.0,1783.9 L1007.5,1779.7 L1007.0,1779.7 L1006.5,1779.7 L1006.0,1779.7 L1005.5,1779.7 L1005.0,1779.7 L1004.5,1779.7 L1004.0,1777.3 L1003.5,1768.4 L1003.0,1732.2 L1002.5,1730.2 L1002.0,1728.7 L1001.5,1728.1 L1001.0,1727.8 L1000.5,1727.8 L1000.0,1727.8 L999.5,1727.8 L999.0,1727.4 L998.5,1727.1 L998.0,1726.5 L997.5,1716.5 L997.0,1656.0 L996.5,1626.7 L996.0,1600.6 L995.5,1593.0 L995.0,1596.8 L994.5,1633.2 L994.0,1668.8 L993.5,1710.1 L993.0,1752.6 L992.5,1792.3 L992.0,1830.9 L991.5,1838.9 L991.0,1841.9 L990.5,1841.9 L990.0,1841.9 L989.5,1841.9 L989.0,1841.3 L988.5,1840.8 L988.0,1838.7 L987.5,1838.5 L987.0,1838.2 L986.5,1838.1 L986.0,1837.9 L985.5,1836.6 L985.0,1836.6 L984.5,1836.3 L984.0,1836.2 L983.5,1836.2 L983.0,1835.9 L982.5,1835.8 L982.0,1835.5 L981.5,1835.4 L981.0,1833.9 L980.5,1834.2 L980.0,1834.2 L979.5,1834.2 L979.0,1834.2 L978.5,1834.2 L978.0,1834.1 L977.5,1834.1 L977.0,1834.1 L976.5,1834.1 L976.0,1833.9 L975.5,1837.1 L975.0,1837.1 L974.5,1837.1 L974.0,1837.0 L973.5,1838.8 L973.0,1838.8 L972.5,1838.8 L972.0,1838.8 L971.5,1838.6 L971.0,1838.6 L970.5,1838.5 L970.0,1838.4 L969.5,1831.6 L969.0,1831.3 L968.5,1831.4 L968.0,1831.7 L967.5,1831.9 L967.0,1831.9 L966.5,1835.8 L966.0,1835.8 L965.5,1835.8 L965.0,1837.5 L964.5,1837.8 L964.0,1837.8 L963.5,1837.8 L963.0,1837.8 L962.5,1834.9 L962.0,1833.9 L961.5,1833.1 L961.0,1832.0 L960.5,1827.8 L960.0,1824.5 L959.5,1819.3 L959.0,1813.3 L958.5,1812.7 L958.0,1813.0 L957.5,1819.4 L957.0,1819.4 L956.5,1821.5 L956.0,1821.5 L955.5,1821.5 L955.0,1821.5 L954.5,1811.0 L954.0,1811.0 L953.5,1815.5 L953.0,1819.9 L952.5,1822.7 L952.0,1825.1 L951.5,1827.7 L951.0,1829.2 L950.5,1829.5 L950.0,1829.5 L949.5,1829.5 L949.0,1829.0 L948.5,1823.0 L948.0,1818.6 L947.5,1814.2 L947.0,1813.4 L946.5,1811.8 L946.0,1806.9 L945.5,1801.7 L945.0,1796.8 L944.5,1792.0 L944.0,1779.7 L943.5,1779.3 L943.0,1778.5 L942.5,1771.3 L942.0,1762.0 L941.5,1752.7 L941.0,1743.0 L940.5,1738.6 L940.0,1738.6 L939.5,1719.7 L939.0,1686.0 L938.5,1670.9 L938.0,1670.2 L937.5,1669.6 L937.0,1669.0 L936.5,1634.0 L936.0,1658.9 L935.5,1687.3 L935.0,1715.4 L934.5,1747.1 L934.0,1779.6 L933.5,1832.2 L933.0,1843.9 L932.5,1844.0 L932.0,1844.0 L931.5,1844.0 L931.0,1843.9 L930.5,1839.4 L930.0,1836.6 L929.5,1836.6 L929.0,1836.6 L928.5,1836.6 L928.0,1839.0 L927.5,1839.0 L927.0,1839.0 L926.5,1838.1 L926.0,1837.6 L925.5,1836.8 L925.0,1836.0 L924.5,1835.8 L924.0,1835.7 L923.5,1832.1 L923.0,1831.6 L922.5,1831.4 L922.0,1831.2 L921.5,1827.6 L921.0,1827.3 L920.5,1827.8 L920.0,1827.8 L919.5,1827.8 L919.0,1827.8 L918.5,1827.7 L918.0,1828.0 L917.5,1828.0 L917.0,1828.0 L916.5,1827.8 L916.0,1827.6 L915.5,1827.3 L915.0,1827.2 L914.5,1826.9 L914.0,1823.6 L913.5,1823.1 L913.0,1822.5 L912.5,1822.3 L912.0,1822.0 L911.5,1821.2 L911.0,1820.3 L910.5,1819.8 L910.0,1817.9 L909.5,1817.5 L909.0,1819.0 L908.5,1819.0 L908.0,1819.0 L907.5,1819.0 L907.0,1825.6 L906.5,1825.6 L906.0,1825.6 L905.5,1825.6 L905.0,1825.5 L904.5,1825.2 L904.0,1824.5 L903.5,1823.9 L903.0,1815.4 L902.5,1817.1 L902.0,1817.1 L901.5,1817.1 L901.0,1816.9 L900.5,1815.9 L900.0,1815.4 L899.5,1815.2 L899.0,1814.2 L898.5,1810.1 L898.0,1804.7 L897.5,1800.6 L897.0,1795.0 L896.5,1796.2 L896.0,1796.5 L895.5,1799.1 L895.0,1803.9 L894.5,1820.2 L894.0,1820.2 L893.5,1820.2 L893.0,1820.2 L892.5,1819.4 L892.0,1817.8 L891.5,1816.6 L891.0,1805.2 L890.5,1803.6 L890.0,1802.6 L889.5,1802.6 L889.0,1802.2 L888.5,1802.2 L888.0,1802.2 L887.5,1802.2 L887.0,1802.2 L886.5,1809.5 L886.0,1811.8 L885.5,1812.2 L885.0,1812.2 L884.5,1812.2 L884.0,1811.8 L883.5,1809.4 L883.0,1806.5 L882.5,1804.1 L882.0,1802.0 L881.5,1799.6 L881.0,1795.2 L880.5,1791.6 L880.0,1787.7 L879.5,1784.5 L879.0,1779.7 L878.5,1774.9 L878.0,1765.6 L877.5,1755.9 L877.0,1749.9 L876.5,1749.9 L876.0,1743.4 L875.5,1719.7 L875.0,1682.4 L874.5,1599.9 L874.0,1627.7 L873.5,1655.8 L873.0,1681.1 L872.5,1706.3 L872.0,1731.2 L871.5,1749.6 L871.0,1766.0 L870.5,1782.8 L870.0,1807.2 L869.5,1833.3 L869.0,1838.9 L868.5,1839.6 L868.0,1839.6 L867.5,1841.5 L867.0,1841.5 L866.5,1841.5 L866.0,1841.4 L865.5,1841.3 L865.0,1841.0 L864.5,1840.8 L864.0,1837.3 L863.5,1837.1 L863.0,1836.9 L862.5,1836.9 L862.0,1836.9 L861.5,1836.9 L861.0,1836.6 L860.5,1840.7 L860.0,1840.7 L859.5,1840.7 L859.0,1840.6 L858.5,1840.6 L858.0,1840.6 L857.5,1840.6 L857.0,1837.1 L856.5,1837.1 L856.0,1837.3 L855.5,1837.3 L855.0,1837.3 L854.5,1837.3 L854.0,1837.3 L853.5,1837.3 L853.0,1837.2 L852.5,1834.7 L852.0,1834.7 L851.5,1835.3 L851.0,1835.3 L850.5,1835.3 L850.0,1835.3 L849.5,1835.5 L849.0,1835.5 L848.5,1835.5 L848.0,1835.5 L847.5,1835.5 L847.0,1835.5 L846.5,1835.5 L846.0,1835.5 L845.5,1834.5 L845.0,1834.5 L844.5,1839.3 L844.0,1839.3 L843.5,1839.3 L843.0,1839.3 L842.5,1839.3 L842.0,1839.2 L841.5,1839.1 L841.0,1839.0 L840.5,1832.2 L840.0,1836.6 L839.5,1836.6 L839.0,1836.6 L838.5,1836.6 L838.0,1836.5 L837.5,1836.4 L837.0,1836.2 L836.5,1834.6 L836.0,1834.5 L835.5,1834.2 L835.0,1834.1 L834.5,1834.1 L834.0,1833.3 L833.5,1833.6 L833.0,1833.6 L832.5,1833.6 L832.0,1833.6 L831.5,1832.9 L831.0,1839.7 L830.5,1839.7 L830.0,1839.7 L829.5,1839.8 L829.0,1839.8 L828.5,1839.8 L828.0,1839.8 L827.5,1839.8 L827.0,1835.9 L826.5,1835.9 L826.0,1835.9 L825.5,1835.9 L825.0,1835.9 L824.5,1833.9 L824.0,1834.0 L823.5,1834.0 L823.0,1834.0 L822.5,1834.0 L822.0,1835.3 L821.5,1835.3 L821.0,1835.3 L820.5,1835.3 L820.0,1835.2 L819.5,1834.8 L819.0,1834.5 L818.5,1834.0 L818.0,1833.0 L817.5,1828.1 L817.0,1827.5 L816.5,1826.5 L816.0,1826.4 L815.5,1826.4 L815.0,1825.2 L814.5,1823.9 L814.0,1822.3 L813.5,1819.0 L813.0,1817.7 L812.5,1828.9 L812.0,1828.9 L811.5,1828.9 L811.0,1828.9 L810.5,1828.4 L810.0,1828.0 L809.5,1827.0 L809.0,1825.5 L808.5,1816.3 L808.0,1816.1 L807.5,1828.1 L807.0,1828.1 L806.5,1828.1 L806.0,1827.7 L805.5,1824.4 L805.0,1821.2 L804.5,1818.0 L804.0,1800.7 L803.5,1791.4 L803.0,1782.1 L802.5,1779.7 L802.0,1779.7 L801.5,1777.7 L801.0,1768.0 L800.5,1752.8 L800.0,1692.2 L799.5,1680.9 L799.0,1699.3 L798.5,1727.9 L798.0,1737.1 L797.5,1738.4 L797.0,1739.0 L796.5,1739.0 L796.0,1749.6 L795.5,1766.4 L795.0,1782.8 L794.5,1807.2 L794.0,1833.3 L793.5,1838.9 L793.0,1840.1 L792.5,1840.1 L792.0,1840.1 L791.5,1841.8 L791.0,1841.8 L790.5,1841.8 L790.0,1841.8 L789.5,1842.3 L789.0,1842.3 L788.5,1842.4 L788.0,1842.4 L787.5,1842.4 L787.0,1842.4 L786.5,1842.3 L786.0,1842.3 L785.5,1838.4 L785.0,1839.0 L784.5,1839.0 L784.0,1839.0 L783.5,1839.0 L783.0,1839.0 L782.5,1839.5 L782.0,1839.5 L781.5,1839.5 L781.0,1839.5 L780.5,1840.6 L780.0,1840.6 L779.5,1840.7 L779.0,1840.7 L778.5,1840.8 L778.0,1840.8 L777.5,1840.8 L777.0,1840.8 L776.5,1839.7 L776.0,1839.9 L775.5,1839.9 L775.0,1840.0 L774.5,1840.0 L774.0,1840.0 L773.5,1840.1 L773.0,1840.1 L772.5,1840.1 L772.0,1840.1 L771.5,1839.4 L771.0,1839.3 L770.5,1839.3 L770.0,1839.2 L769.5,1839.0 L769.0,1838.9 L768.5,1839.2 L768.0,1839.2 L767.5,1839.2 L767.0,1839.2 L766.5,1839.0 L766.0,1839.0 L765.5,1839.0 L765.0,1838.6 L764.5,1838.6 L764.0,1838.5 L763.5,1838.5 L763.0,1838.4 L762.5,1838.3 L762.0,1839.3 L761.5,1839.3 L761.0,1839.3 L760.5,1839.3 L760.0,1839.2 L759.5,1839.2 L759.0,1839.2 L758.5,1839.2 L758.0,1838.9 L757.5,1838.9 L757.0,1838.8 L756.5,1838.8 L756.0,1838.8 L755.5,1838.8 L755.0,1838.7 L754.5,1838.7 L754.0,1838.6 L753.5,1837.5 L753.0,1837.5 L752.5,1838.2 L752.0,1838.2 L751.5,1838.2 L751.0,1838.2 L750.5,1839.6 L750.0,1839.6 L749.5,1839.6 L749.0,1839.6 L748.5,1839.5 L748.0,1839.5 L747.5,1839.5 L747.0,1839.5 L746.5,1839.5 L746.0,1839.2 L745.5,1839.0 L745.0,1838.8 L744.5,1838.7 L744.0,1832.3 L743.5,1833.2 L743.0,1833.2 L742.5,1833.2 L742.0,1833.2 L741.5,1832.8 L741.0,1839.1 L740.5,1839.1 L740.0,1839.1 L739.5,1839.1 L739.0,1838.7 L738.5,1838.6 L738.0,1838.5 L737.5,1838.4 L737.0,1833.2 L736.5,1833.3 L736.0,1833.3 L735.5,1833.3 L735.0,1829.7 L734.5,1829.8 L734.0,1835.3 L733.5,1835.3 L733.0,1835.5 L732.5,1835.6 L732.0,1835.6 L731.5,1835.6 L731.0,1835.6 L730.5,1833.3 L730.0,1833.3 L729.5,1833.3 L729.0,1833.2 L728.5,1833.1 L728.0,1830.3 L727.5,1835.5 L727.0,1835.5 L726.5,1835.5 L726.0,1835.5 L725.5,1835.4 L725.0,1835.3 L724.5,1835.2 L724.0,1835.1 L723.5,1828.3 L723.0,1828.0 L722.5,1828.0 L722.0,1828.1 L721.5,1828.3 L721.0,1828.6 L720.5,1829.3 L720.0,1829.6 L719.5,1829.8 L719.0,1829.9 L718.5,1833.7 L718.0,1833.7 L717.5,1833.8 L717.0,1833.8 L716.5,1833.8 L716.0,1833.7 L715.5,1833.4 L715.0,1834.2 L714.5,1834.2 L714.0,1834.2 L713.5,1834.0 L713.0,1833.5 L712.5,1833.1 L712.0,1831.7 L711.5,1833.9 L711.0,1833.9 L710.5,1833.9 L710.0,1833.9 L709.5,1833.9 L709.0,1833.2 L708.5,1833.0 L708.0,1832.3 L707.5,1832.1 L707.0,1820.9 L706.5,1818.5 L706.0,1817.4 L705.5,1816.4 L705.0,1814.0 L704.5,1823.2 L704.0,1823.2 L703.5,1823.2 L703.0,1823.2 L702.5,1822.4 L702.0,1821.2 L701.5,1819.9 L701.0,1819.0 L700.5,1810.1 L700.0,1808.9 L699.5,1807.8 L699.0,1806.2 L698.5,1804.3 L698.0,1800.1 L697.5,1804.6 L697.0,1804.6 L696.5,1804.6 L696.0,1804.6 L695.5,1803.0 L695.0,1801.0 L694.5,1799.1 L694.0,1797.1 L693.5,1788.8 L693.0,1786.8 L692.5,1779.6 L692.0,1779.6 L691.5,1779.6 L691.0,1779.6 L690.5,1779.6 L690.0,1778.1 L689.5,1776.1 L689.0,1768.8 L688.5,1720.1 L688.0,1705.0 L687.5,1705.0 L687.0,1704.7 L686.5,1704.2 L686.0,1703.9 L685.5,1703.4 L685.0,1702.6 L684.5,1702.0 L684.0,1701.8 L683.5,1660.6 L683.0,1620.9 L682.5,1565.3 L682.0,1624.4 L681.5,1671.3 L681.0,1728.9 L680.5,1734.6 L680.0,1737.8 L679.5,1739.0 L679.0,1739.0 L678.5,1752.4 L678.0,1772.0 L677.5,1797.7 L677.0,1835.9 L676.5,1843.9 L676.0,1843.9 L675.5,1843.9 L675.0,1843.9 L674.5,1843.9 L674.0,1842.4 L673.5,1840.6 L673.0,1839.1 L672.5,1838.4 L672.0,1840.1 L671.5,1840.1 L671.0,1840.1 L670.5,1840.1 L670.0,1838.9 L669.5,1838.3 L669.0,1837.9 L668.5,1837.9 L668.0,1837.8 L667.5,1837.7 L667.0,1837.4 L666.5,1837.3 L666.0,1836.2 L665.5,1836.0 L665.0,1836.1 L664.5,1836.1 L664.0,1836.1 L663.5,1836.0 L663.0,1836.0 L662.5,1835.9 L662.0,1835.8 L661.5,1833.5 L661.0,1833.4 L660.5,1835.3 L660.0,1835.3 L659.5,1835.3 L659.0,1835.2 L658.5,1835.2 L658.0,1837.5 L657.5,1837.5 L657.0,1837.5 L656.5,1837.5 L656.0,1837.4 L655.5,1837.4 L655.0,1837.2 L654.5,1832.4 L654.0,1832.3 L653.5,1832.1 L653.0,1831.7 L652.5,1831.5 L652.0,1830.7 L651.5,1836.8 L651.0,1836.8 L650.5,1836.8 L650.0,1836.8 L649.5,1836.5 L649.0,1836.3 L648.5,1835.9 L648.0,1835.8 L647.5,1831.3 L647.0,1831.1 L646.5,1830.8 L646.0,1830.7 L645.5,1830.7 L645.0,1830.6 L644.5,1830.4 L644.0,1830.1 L643.5,1829.8 L643.0,1827.9 L642.5,1827.4 L642.0,1827.0 L641.5,1826.0 L641.0,1821.3 L640.5,1820.4 L640.0,1820.5 L639.5,1820.5 L639.0,1820.5 L638.5,1820.5 L638.0,1820.4 L637.5,1820.4 L637.0,1820.5 L636.5,1820.5 L636.0,1820.5 L635.5,1820.5 L635.0,1820.5 L634.5,1820.5 L634.0,1820.1 L633.5,1818.6 L633.0,1819.3 L632.5,1819.9 L632.0,1820.7 L631.5,1822.1 L631.0,1822.9 L630.5,1822.9 L630.0,1822.9 L629.5,1822.9 L629.0,1822.5 L628.5,1822.5 L628.0,1822.5 L627.5,1822.4 L627.0,1819.9 L626.5,1819.7 L626.0,1819.4 L625.5,1819.1 L625.0,1818.7 L624.5,1818.3 L624.0,1821.4 L623.5,1821.4 L623.0,1821.4 L622.5,1821.4 L622.0,1820.5 L621.5,1819.4 L621.0,1818.7 L620.5,1817.6 L620.0,1812.8 L619.5,1811.9 L619.0,1811.0 L618.5,1810.1 L618.0,1809.2 L617.5,1806.6 L617.0,1811.7 L616.5,1811.7 L616.0,1811.7 L615.5,1811.7 L615.0,1810.9 L614.5,1809.8 L614.0,1808.3 L613.5,1807.2 L613.0,1800.3 L612.5,1799.2 L612.0,1797.6 L611.5,1791.2 L611.0,1784.7 L610.5,1778.7 L610.0,1778.3 L609.5,1778.3 L609.0,1778.3 L608.5,1774.3 L608.0,1771.2 L607.5,1770.6 L607.0,1769.9 L606.5,1758.1 L606.0,1744.5 L605.5,1733.6 L605.0,1733.2 L604.5,1732.5 L604.0,1730.9 L603.5,1729.8 L603.0,1724.6 L602.5,1682.5 L602.0,1658.4 L601.5,1603.1 L601.0,1630.8 L600.5,1640.0 L600.0,1645.3 L599.5,1650.1 L599.0,1655.4 L598.5,1721.8 L598.0,1722.4 L597.5,1722.8 L597.0,1723.4 L596.5,1723.4 L596.0,1723.4 L595.5,1723.4 L595.0,1723.4 L594.5,1724.0 L594.0,1747.1 L593.5,1779.6 L593.0,1794.8 L592.5,1805.2 L592.0,1816.1 L591.5,1826.5 L591.0,1828.9 L590.5,1831.3 L590.0,1831.3 L589.5,1834.0 L589.0,1834.0 L588.5,1834.0 L588.0,1834.0 L587.5,1833.9 L587.0,1833.8 L586.5,1833.6 L586.0,1833.5 L585.5,1832.1 L585.0,1832.1 L584.5,1833.7 L584.0,1833.7 L583.5,1833.7 L583.0,1833.7 L582.5,1833.1 L582.0,1832.5 L581.5,1832.0 L581.0,1830.1 L580.5,1829.9 L580.0,1829.8 L579.5,1829.5 L579.0,1829.2 L578.5,1828.9 L578.0,1828.7 L577.5,1828.4 L577.0,1828.0 L576.5,1827.2 L576.0,1826.6 L575.5,1826.2 L575.0,1825.8 L574.5,1825.6 L574.0,1825.6 L573.5,1825.1 L573.0,1824.8 L572.5,1824.8 L572.0,1824.8 L571.5,1818.4 L571.0,1817.3 L570.5,1825.7 L570.0,1825.7 L569.5,1825.7 L569.0,1825.4 L568.5,1825.1 L568.0,1824.8 L567.5,1824.6 L567.0,1814.7 L566.5,1815.1 L566.0,1815.1 L565.5,1815.1 L565.0,1815.1 L564.5,1814.5 L564.0,1813.8 L563.5,1811.8 L563.0,1811.8 L562.5,1809.2 L562.0,1809.2 L561.5,1809.2 L561.0,1808.8 L560.5,1806.8 L560.0,1804.5 L559.5,1802.5 L559.0,1800.5 L558.5,1798.1 L558.0,1797.4 L557.5,1795.0 L557.0,1792.6 L556.5,1789.4 L556.0,1780.0 L555.5,1780.0 L555.0,1778.0 L554.5,1768.8 L554.0,1765.1 L553.5,1727.4 L553.0,1747.0 L552.5,1764.2 L552.0,1775.1 L551.5,1786.0 L551.0,1796.5 L550.5,1798.9 L550.0,1806.5 L549.5,1806.5 L549.0,1806.5 L548.5,1806.1 L548.0,1800.4 L547.5,1794.8 L547.0,1789.2 L546.5,1779.8 L546.0,1779.8 L545.5,1779.8 L545.0,1778.6 L544.5,1778.2 L544.0,1778.2 L543.5,1775.8 L543.0,1772.1 L542.5,1768.5 L542.0,1764.8 L541.5,1761.2 L541.0,1749.1 L540.5,1741.4 L540.0,1727.6 L539.5,1714.0 L539.0,1694.0 L538.5,1674.0 L538.0,1663.6 L537.5,1719.4 L537.0,1719.4 L536.5,1719.8 L536.0,1722.2 L535.5,1724.1 L535.0,1726.5 L534.5,1726.5 L534.0,1726.5 L533.5,1726.5 L533.0,1743.5 L532.5,1768.8 L532.0,1794.8 L531.5,1822.9 L531.0,1828.9 L530.5,1832.9 L530.0,1832.9 L529.5,1833.6 L529.0,1833.6 L528.5,1833.6 L528.0,1833.6 L527.5,1833.4 L527.0,1835.8 L526.5,1835.8 L526.0,1835.8 L525.5,1835.7 L525.0,1835.1 L524.5,1834.8 L524.0,1834.6 L523.5,1834.4 L523.0,1833.6 L522.5,1833.4 L522.0,1833.2 L521.5,1833.0 L521.0,1825.0 L520.5,1832.2 L520.0,1832.2 L519.5,1832.2 L519.0,1832.2 L518.5,1832.1 L518.0,1831.8 L517.5,1831.6 L517.0,1831.4 L516.5,1823.0 L516.0,1822.6 L515.5,1825.2 L515.0,1825.3 L514.5,1825.4 L514.0,1825.6 L513.5,1825.8 L513.0,1825.8 L512.5,1825.8 L512.0,1825.8 L511.5,1821.5 L511.0,1835.2 L510.5,1835.2 L510.0,1835.2 L509.5,1835.2 L509.0,1834.8 L508.5,1834.5 L508.0,1834.5 L507.5,1834.4 L507.0,1820.8 L506.5,1829.1 L506.0,1829.1 L505.5,1829.1 L505.0,1829.1 L504.5,1828.9 L504.0,1828.3 L503.5,1828.0 L503.0,1827.8 L502.5,1821.7 L502.0,1823.0 L501.5,1823.5 L501.0,1823.7 L500.5,1824.0 L500.0,1824.1 L499.5,1824.1 L499.0,1824.1 L498.5,1824.1 L498.0,1820.3 L497.5,1830.6 L497.0,1830.8 L496.5,1831.0 L496.0,1831.3 L495.5,1831.5 L495.0,1831.5 L494.5,1831.5 L494.0,1831.5 L493.5,1825.8 L493.0,1827.6 L492.5,1827.7 L492.0,1827.9 L491.5,1828.2 L491.0,1828.5 L490.5,1832.7 L490.0,1833.0 L489.5,1833.2 L489.0,1833.6 L488.5,1833.9 L488.0,1836.1 L487.5,1836.4 L487.0,1836.6 L486.5,1836.8 L486.0,1836.8 L485.5,1836.8 L485.0,1836.8 L484.5,1836.8 L484.0,1829.6 L483.5,1833.4 L483.0,1833.4 L482.5,1833.4 L482.0,1833.4 L481.5,1833.2 L481.0,1833.0 L480.5,1832.8 L480.0,1832.5 L479.5,1828.9 L479.0,1828.7 L478.5,1828.4 L478.0,1828.0 L477.5,1824.3 L477.0,1824.1 L476.5,1823.5 L476.0,1823.5 L475.5,1823.5 L475.0,1823.5 L474.5,1830.7 L474.0,1831.0 L473.5,1831.2 L473.0,1831.3 L472.5,1831.5 L472.0,1831.5 L471.5,1831.5 L471.0,1831.5 L470.5,1825.0 L470.0,1825.0 L469.5,1825.0 L469.0,1825.0 L468.5,1822.5 L468.0,1821.9 L467.5,1822.5 L467.0,1822.5 L466.5,1822.5 L466.0,1825.2 L465.5,1825.2 L465.0,1825.2 L464.5,1825.2 L464.0,1824.0 L463.5,1817.7 L463.0,1814.4 L462.5,1813.2 L462.0,1813.9 L461.5,1813.9 L461.0,1813.9 L460.5,1813.9 L460.0,1808.3 L459.5,1799.4 L459.0,1798.9 L458.5,1806.9 L458.0,1808.9 L457.5,1813.8 L457.0,1815.8 L456.5,1817.8 L456.0,1823.8 L455.5,1825.7 L455.0,1826.0 L454.5,1826.0 L454.0,1826.0 L453.5,1825.7 L453.0,1823.5 L452.5,1820.7 L452.0,1813.8 L451.5,1806.1 L451.0,1801.2 L450.5,1802.3 L450.0,1802.7 L449.5,1802.7 L449.0,1802.8 L448.5,1802.8 L448.0,1802.8 L447.5,1804.3 L447.0,1806.7 L446.5,1806.7 L446.0,1806.7 L445.5,1806.7 L445.0,1802.7 L444.5,1800.6 L444.0,1784.6 L443.5,1784.3 L443.0,1797.2 L442.5,1808.8 L442.0,1817.2 L441.5,1826.0 L441.0,1834.4 L440.5,1840.8 L440.0,1846.4 L439.5,1852.1 L439.0,1857.5 L438.5,1857.5 L438.0,1857.5 L437.5,1857.5 L437.0,1857.5 L436.5,1857.5Z" fill="#050505"/>
</g><g>
<rect x="433.0" y="43.0" width="870.0" height="468.5" fill="none" stroke="#000" stroke-opacity="0.72" stroke-width="5.6"/>
<line x1="418.5" x2="447" y1="48.80" y2="48.80" stroke="#000" stroke-opacity="0.84" stroke-width="4.5"/>
<line x1="418.5" x2="447" y1="163.10" y2="163.10" stroke="#000" stroke-opacity="0.84" stroke-width="4.5"/>
<line x1="418.5" x2="447" y1="277.40" y2="277.40" stroke="#000" stroke-opacity="0.84" stroke-width="4.5"/>
<line x1="418.5" x2="447" y1="391.70" y2="391.70" stroke="#000" stroke-opacity="0.84" stroke-width="4.5"/>
<line x1="418.5" x2="447" y1="506.00" y2="506.00" stroke="#000" stroke-opacity="0.84" stroke-width="4.5"/>
<line x1="438.70" x2="438.70" y1="497.00" y2="526.50" stroke="#000" stroke-opacity="0.84" stroke-width="4.5"/>
<line x1="610.36" x2="610.36" y1="497.00" y2="526.50" stroke="#000" stroke-opacity="0.84" stroke-width="4.5"/>
<line x1="782.02" x2="782.02" y1="497.00" y2="526.50" stroke="#000" stroke-opacity="0.84" stroke-width="4.5"/>
<line x1="953.68" x2="953.68" y1="497.00" y2="526.50" stroke="#000" stroke-opacity="0.84" stroke-width="4.5"/>
<line x1="1125.34" x2="1125.34" y1="497.00" y2="526.50" stroke="#000" stroke-opacity="0.84" stroke-width="4.5"/>
<line x1="1297.00" x2="1297.00" y1="497.00" y2="526.50" stroke="#000" stroke-opacity="0.84" stroke-width="4.5"/>
<rect x="433.0" y="717.0" width="870.0" height="469.5" fill="none" stroke="#000" stroke-opacity="0.72" stroke-width="5.6"/>
<line x1="418.5" x2="447" y1="723.00" y2="723.00" stroke="#000" stroke-opacity="0.84" stroke-width="4.5"/>
<line x1="418.5" x2="447" y1="837.50" y2="837.50" stroke="#000" stroke-opacity="0.84" stroke-width="4.5"/>
<line x1="418.5" x2="447" y1="952.00" y2="952.00" stroke="#000" stroke-opacity="0.84" stroke-width="4.5"/>
<line x1="418.5" x2="447" y1="1066.50" y2="1066.50" stroke="#000" stroke-opacity="0.84" stroke-width="4.5"/>
<line x1="418.5" x2="447" y1="1181.00" y2="1181.00" stroke="#000" stroke-opacity="0.84" stroke-width="4.5"/>
<line x1="438.70" x2="438.70" y1="1172.00" y2="1201.50" stroke="#000" stroke-opacity="0.84" stroke-width="4.5"/>
<line x1="610.36" x2="610.36" y1="1172.00" y2="1201.50" stroke="#000" stroke-opacity="0.84" stroke-width="4.5"/>
<line x1="782.02" x2="782.02" y1="1172.00" y2="1201.50" stroke="#000" stroke-opacity="0.84" stroke-width="4.5"/>
<line x1="953.68" x2="953.68" y1="1172.00" y2="1201.50" stroke="#000" stroke-opacity="0.84" stroke-width="4.5"/>
<line x1="1125.34" x2="1125.34" y1="1172.00" y2="1201.50" stroke="#000" stroke-opacity="0.84" stroke-width="4.5"/>
<line x1="1297.00" x2="1297.00" y1="1172.00" y2="1201.50" stroke="#000" stroke-opacity="0.84" stroke-width="4.5"/>
<rect x="433.0" y="1391.0" width="870.0" height="470.5" fill="none" stroke="#000" stroke-opacity="0.72" stroke-width="5.6"/>
<line x1="418.5" x2="447" y1="1397.00" y2="1397.00" stroke="#000" stroke-opacity="0.84" stroke-width="4.5"/>
<line x1="418.5" x2="447" y1="1511.75" y2="1511.75" stroke="#000" stroke-opacity="0.84" stroke-width="4.5"/>
<line x1="418.5" x2="447" y1="1626.50" y2="1626.50" stroke="#000" stroke-opacity="0.84" stroke-width="4.5"/>
<line x1="418.5" x2="447" y1="1741.25" y2="1741.25" stroke="#000" stroke-opacity="0.84" stroke-width="4.5"/>
<line x1="418.5" x2="447" y1="1856.00" y2="1856.00" stroke="#000" stroke-opacity="0.84" stroke-width="4.5"/>
<line x1="438.70" x2="438.70" y1="1847.00" y2="1876.50" stroke="#000" stroke-opacity="0.84" stroke-width="4.5"/>
<line x1="610.36" x2="610.36" y1="1847.00" y2="1876.50" stroke="#000" stroke-opacity="0.84" stroke-width="4.5"/>
<line x1="782.02" x2="782.02" y1="1847.00" y2="1876.50" stroke="#000" stroke-opacity="0.84" stroke-width="4.5"/>
<line x1="953.68" x2="953.68" y1="1847.00" y2="1876.50" stroke="#000" stroke-opacity="0.84" stroke-width="4.5"/>
<line x1="1125.34" x2="1125.34" y1="1847.00" y2="1876.50" stroke="#000" stroke-opacity="0.84" stroke-width="4.5"/>
<line x1="1297.00" x2="1297.00" y1="1847.00" y2="1876.50" stroke="#000" stroke-opacity="0.84" stroke-width="4.5"/>
</g><g filter="url(#bl)">
<text x="304.92" y="69.00" font-size="54" textLength="99.39" lengthAdjust="spacingAndGlyphs" fill="#141414" >1.70</text>
<text x="304.91" y="183.30" font-size="54" textLength="99.55" lengthAdjust="spacingAndGlyphs" fill="#141414" >1.65</text>
<text x="304.92" y="297.60" font-size="54" textLength="99.39" lengthAdjust="spacingAndGlyphs" fill="#141414" >1.60</text>
<text x="304.91" y="411.90" font-size="54" textLength="99.55" lengthAdjust="spacingAndGlyphs" fill="#141414" >1.55</text>
<text x="304.92" y="526.20" font-size="54" textLength="99.39" lengthAdjust="spacingAndGlyphs" fill="#141414" >1.50</text>
<text x="423.58" y="596.00" font-size="54" textLength="30.25" lengthAdjust="spacingAndGlyphs" fill="#141414" >0</text>
<text x="565.70" y="596.00" font-size="54" textLength="88.76" lengthAdjust="spacingAndGlyphs" fill="#141414" >200</text>
<text x="738.82" y="596.00" font-size="54" textLength="87.27" lengthAdjust="spacingAndGlyphs" fill="#141414" >400</text>
<text x="908.97" y="596.00" font-size="54" textLength="88.82" lengthAdjust="spacingAndGlyphs" fill="#141414" >600</text>
<text x="1081.06" y="596.00" font-size="54" textLength="88.37" lengthAdjust="spacingAndGlyphs" fill="#141414" >800</text>
<text x="1236.77" y="596.00" font-size="54" textLength="116.56" lengthAdjust="spacingAndGlyphs" fill="#141414" >1000</text>
<text x="744.20" y="663.50" font-size="63" textLength="246.76" lengthAdjust="spacingAndGlyphs" fill="#141414" >Time (ns)</text>
<text x="318.22" y="743.20" font-size="54" textLength="86.12" lengthAdjust="spacingAndGlyphs" fill="#141414" >200</text>
<text x="316.81" y="857.70" font-size="54" textLength="87.56" lengthAdjust="spacingAndGlyphs" fill="#141414" >150</text>
<text x="316.81" y="972.20" font-size="54" textLength="87.56" lengthAdjust="spacingAndGlyphs" fill="#141414" >100</text>
<text x="346.73" y="1086.70" font-size="54" textLength="57.61" lengthAdjust="spacingAndGlyphs" fill="#141414" >50</text>
<text x="374.72" y="1201.20" font-size="54" textLength="29.67" lengthAdjust="spacingAndGlyphs" fill="#141414" >0</text>
<text x="423.58" y="1271.00" font-size="54" textLength="30.25" lengthAdjust="spacingAndGlyphs" fill="#141414" >0</text>
<text x="565.70" y="1271.00" font-size="54" textLength="88.76" lengthAdjust="spacingAndGlyphs" fill="#141414" >200</text>
<text x="738.82" y="1271.00" font-size="54" textLength="87.27" lengthAdjust="spacingAndGlyphs" fill="#141414" >400</text>
<text x="908.97" y="1271.00" font-size="54" textLength="88.82" lengthAdjust="spacingAndGlyphs" fill="#141414" >600</text>
<text x="1081.06" y="1271.00" font-size="54" textLength="88.37" lengthAdjust="spacingAndGlyphs" fill="#141414" >800</text>
<text x="1236.77" y="1271.00" font-size="54" textLength="116.56" lengthAdjust="spacingAndGlyphs" fill="#141414" >1000</text>
<text x="744.20" y="1338.50" font-size="63" textLength="246.76" lengthAdjust="spacingAndGlyphs" fill="#141414" >Time (ns)</text>
<text x="346.19" y="1417.20" font-size="54" textLength="58.17" lengthAdjust="spacingAndGlyphs" fill="#141414" >20</text>
<text x="344.71" y="1531.95" font-size="54" textLength="59.87" lengthAdjust="spacingAndGlyphs" fill="#141414" >15</text>
<text x="344.72" y="1646.70" font-size="54" textLength="59.69" lengthAdjust="spacingAndGlyphs" fill="#141414" >10</text>
<text x="374.65" y="1761.45" font-size="54" textLength="29.92" lengthAdjust="spacingAndGlyphs" fill="#141414" >5</text>
<text x="374.72" y="1876.20" font-size="54" textLength="29.67" lengthAdjust="spacingAndGlyphs" fill="#141414" >0</text>
<text x="423.58" y="1946.00" font-size="54" textLength="30.25" lengthAdjust="spacingAndGlyphs" fill="#141414" >0</text>
<text x="565.70" y="1946.00" font-size="54" textLength="88.76" lengthAdjust="spacingAndGlyphs" fill="#141414" >200</text>
<text x="738.82" y="1946.00" font-size="54" textLength="87.27" lengthAdjust="spacingAndGlyphs" fill="#141414" >400</text>
<text x="908.97" y="1946.00" font-size="54" textLength="88.82" lengthAdjust="spacingAndGlyphs" fill="#141414" >600</text>
<text x="1081.06" y="1946.00" font-size="54" textLength="88.37" lengthAdjust="spacingAndGlyphs" fill="#141414" >800</text>
<text x="1236.77" y="1946.00" font-size="54" textLength="116.56" lengthAdjust="spacingAndGlyphs" fill="#141414" >1000</text>
<text x="744.20" y="2013.50" font-size="63" textLength="246.76" lengthAdjust="spacingAndGlyphs" fill="#141414" >Time (ns)</text>
<text x="26.41" y="300.50" font-size="58" textLength="70.68" lengthAdjust="spacingAndGlyphs" fill="#141414" >(a)</text>
<text x="26.16" y="979.00" font-size="58" textLength="75.69" lengthAdjust="spacingAndGlyphs" fill="#141414" >(b)</text>
<text x="26.31" y="1658.50" font-size="58" textLength="69.38" lengthAdjust="spacingAndGlyphs" fill="#141414" >(c)</text>
<text transform="translate(190.00,479.53) rotate(-90)" x="0" y="0" font-size="62" textLength="386.65" lengthAdjust="spacingAndGlyphs" fill="#141414">Carrier density</text>
<text transform="translate(283.60,400.08) rotate(-90)" x="0" y="0" font-size="53" textLength="96.53" lengthAdjust="spacingAndGlyphs" fill="#141414">(x10</text>
<text transform="translate(243.00,299.56) rotate(-90)" x="0" y="0" font-size="38" textLength="39.19" lengthAdjust="spacingAndGlyphs" fill="#141414">24</text>
<text transform="translate(281.00,232.30) rotate(-90)" x="0" y="0" font-size="50" textLength="41.59" lengthAdjust="spacingAndGlyphs" fill="#141414">m</text>
<text transform="translate(263.40,188.66) rotate(-90)" x="0" y="0" font-size="36" textLength="38.55" lengthAdjust="spacingAndGlyphs" fill="#141414">−3</text>
<text transform="translate(279.00,140.07) rotate(-90)" x="0" y="0" font-size="53.5" textLength="15.08" lengthAdjust="spacingAndGlyphs" fill="#141414">)</text>
<text transform="translate(189.30,1143.70) rotate(-90)" x="0" y="0" font-size="62" textLength="381.10" lengthAdjust="spacingAndGlyphs" fill="#141414">Optical output</text>
<text transform="translate(267.20,1180.75) rotate(-90)" x="0" y="0" font-size="62" textLength="462.00" lengthAdjust="spacingAndGlyphs" fill="#141414">energy (arb. unit)</text>
<text transform="translate(189.30,1843.27) rotate(-90)" x="0" y="0" font-size="62" textLength="416.68" lengthAdjust="spacingAndGlyphs" fill="#141414">THz-TDS output</text>
<text transform="translate(267.20,1856.84) rotate(-90)" x="0" y="0" font-size="62" textLength="460.27" lengthAdjust="spacingAndGlyphs" fill="#141414">energy (arb. unit)</text>
</g></svg>
</body></html>
